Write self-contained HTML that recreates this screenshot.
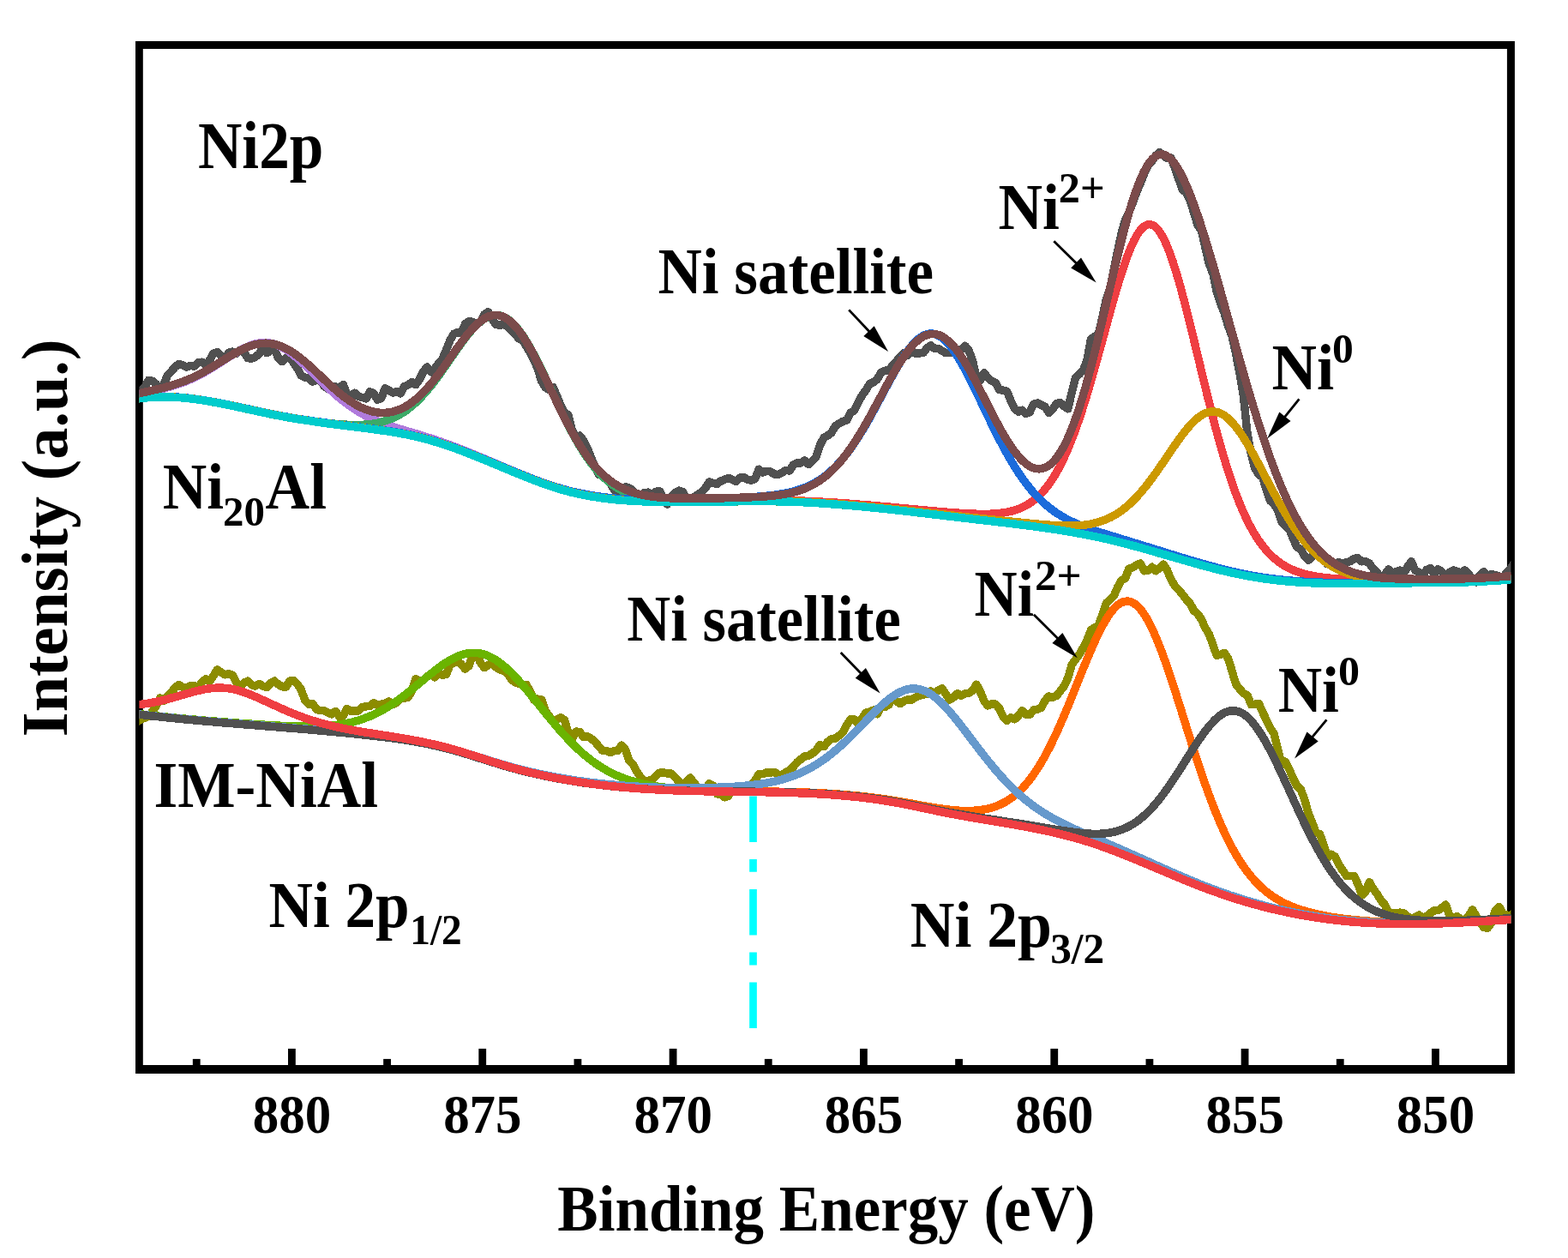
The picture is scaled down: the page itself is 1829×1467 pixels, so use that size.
<!DOCTYPE html><html><head><meta charset="utf-8"><style>html,body{margin:0;padding:0;background:#fff;overflow:hidden}svg{display:block}text{font-family:"Liberation Serif",serif;font-weight:bold;font-size:100px;fill:#000}</style></head><body>
<svg width="1829" height="1467" viewBox="0 0 1829 1467">
<rect width="1829" height="1467" fill="#fff"/>
<defs><clipPath id="pc"><rect x="162.4" y="52.5" width="1600.0" height="1194.5"/></clipPath></defs>
<path d="M158 48.1H1766.9V1251.9H158Z M166.8 57V1242H1757.9V57Z" fill="#000" fill-rule="evenodd"/>
<g clip-path="url(#pc)" shape-rendering="crispEdges">
<path d="M160.0 457.4 L164.4 455.6 L168.9 451.8 L173.3 443.3 L177.8 444.3 L182.2 447.8 L186.7 457.7 L191.1 447.5 L195.6 437.6 L200.0 432.8 L204.5 427.6 L208.9 424.3 L213.4 426.0 L217.8 428.0 L222.3 426.5 L226.7 427.1 L231.2 422.6 L235.6 422.2 L240.1 425.4 L244.5 419.9 L249.0 412.1 L253.4 410.7 L257.9 414.6 L262.3 418.2 L266.8 411.3 L271.2 410.1 L275.7 412.6 L280.1 408.1 L284.6 411.0 L289.0 417.6 L293.5 418.1 L297.9 416.3 L302.4 412.6 L306.8 403.9 L311.3 411.7 L315.7 408.8 L320.2 407.8 L324.6 417.2 L329.1 421.6 L333.5 417.6 L338.0 416.7 L342.4 423.0 L346.9 429.5 L351.3 438.1 L355.8 440.1 L360.2 441.1 L364.7 445.1 L369.1 442.9 L373.6 442.8 L378.0 450.3 L382.5 453.3 L386.9 451.1 L391.4 450.9 L395.8 452.2 L400.3 448.6 L404.7 459.5 L409.2 462.5 L413.6 458.1 L418.1 462.4 L422.5 463.4 L427.0 464.9 L431.4 456.8 L435.9 458.6 L440.3 466.1 L444.8 464.5 L449.2 452.9 L453.7 455.1 L458.1 458.0 L462.6 456.8 L467.0 458.9 L471.5 450.7 L475.9 448.8 L480.4 445.7 L484.8 448.7 L489.3 442.5 L493.7 433.6 L498.2 428.0 L502.6 433.9 L507.1 429.8 L511.5 424.0 L516.0 418.6 L520.4 408.3 L524.9 396.9 L529.3 389.3 L533.8 387.6 L538.2 388.4 L542.7 377.4 L547.1 374.6 L551.6 375.6 L556.0 377.0 L560.5 375.3 L564.9 366.7 L569.4 363.8 L573.8 371.3 L578.3 378.3 L582.7 379.2 L587.2 378.5 L591.6 380.1 L596.1 385.0 L600.5 389.0 L605.0 394.8 L609.4 396.3 L613.9 403.6 L618.3 411.2 L622.8 419.9 L627.2 429.6 L631.7 444.6 L636.1 451.8 L640.6 454.4 L645.0 451.3 L649.5 461.5 L653.9 472.4 L658.4 481.0 L662.8 483.9 L667.3 501.6 L671.7 510.0 L676.2 508.0 L680.6 513.5 L685.1 522.5 L689.5 533.3 L694.0 544.5 L698.4 553.6 L702.9 553.2 L707.3 558.3 L711.8 563.5 L716.2 571.1 L720.7 572.8 L725.1 573.4 L729.6 567.9 L734.0 569.1 L738.5 572.2 L742.9 580.3 L747.4 579.2 L751.8 574.4 L756.3 574.2 L760.7 576.6 L765.2 573.2 L769.6 573.0 L774.1 581.4 L778.5 588.0 L783.0 579.9 L787.4 574.7 L791.9 572.1 L796.3 573.5 L800.8 581.4 L805.2 583.8 L809.7 579.5 L814.1 576.8 L818.6 573.6 L823.0 568.8 L827.5 561.9 L831.9 563.3 L836.4 564.5 L840.8 560.9 L845.3 559.2 L849.7 557.5 L854.2 559.2 L858.6 561.6 L863.1 557.2 L867.5 556.5 L872.0 559.4 L876.4 560.2 L880.9 558.1 L885.3 547.2 L889.8 551.0 L894.2 549.4 L898.7 550.0 L903.1 552.9 L907.6 553.6 L912.0 551.3 L916.5 548.3 L920.9 549.1 L925.4 542.1 L929.8 539.7 L934.3 539.9 L938.7 537.1 L943.2 541.5 L947.6 537.7 L952.1 532.5 L956.5 519.1 L961.0 510.2 L965.4 508.0 L969.9 504.6 L974.3 496.9 L978.8 493.9 L983.2 491.3 L987.7 490.0 L992.1 481.3 L996.6 478.7 L1001.0 469.4 L1005.5 461.3 L1009.9 455.1 L1014.4 447.8 L1018.8 445.7 L1023.3 442.3 L1027.7 434.3 L1032.2 432.2 L1036.6 432.3 L1041.1 425.9 L1045.5 421.4 L1050.0 416.0 L1054.4 411.6 L1058.9 414.4 L1063.3 408.9 L1067.8 412.1 L1072.2 411.8 L1076.7 411.7 L1081.1 406.1 L1085.6 402.8 L1090.0 406.3 L1094.5 406.6 L1098.9 409.1 L1103.4 411.7 L1107.8 411.5 L1112.3 410.2 L1116.7 408.4 L1121.2 407.5 L1125.6 403.2 L1130.1 408.6 L1134.5 420.6 L1139.0 440.1 L1143.4 443.4 L1147.9 434.8 L1152.3 440.6 L1156.8 444.3 L1161.2 446.3 L1165.7 454.4 L1170.1 455.2 L1174.6 456.3 L1179.0 467.4 L1183.5 476.5 L1187.9 480.1 L1192.4 478.3 L1196.8 482.5 L1201.3 480.4 L1205.7 471.2 L1210.2 470.0 L1214.6 472.3 L1219.1 474.5 L1223.5 481.3 L1228.0 476.9 L1232.4 470.4 L1236.9 469.7 L1241.3 473.7 L1245.8 476.8 L1250.2 457.5 L1254.7 440.3 L1259.1 436.2 L1263.6 431.5 L1268.0 420.0 L1272.5 395.6 L1276.9 392.5 L1281.4 389.1 L1285.8 370.8 L1290.3 349.1 L1294.7 336.9 L1299.2 314.7 L1303.6 293.2 L1308.1 272.1 L1312.5 256.7 L1317.0 247.2 L1321.4 236.1 L1325.9 223.7 L1330.3 213.6 L1334.8 202.1 L1339.2 192.6 L1343.7 187.8 L1348.1 181.4 L1352.6 177.7 L1357.0 180.9 L1361.5 184.7 L1365.9 184.1 L1370.4 195.8 L1374.8 208.5 L1379.3 221.1 L1383.7 224.8 L1388.2 233.8 L1392.6 248.0 L1397.1 262.5 L1401.5 268.9 L1406.0 289.3 L1410.4 307.8 L1414.9 319.3 L1419.3 340.2 L1423.8 353.9 L1428.2 365.3 L1432.7 380.5 L1437.1 391.8 L1441.6 412.5 L1446.0 435.4 L1450.5 462.0 L1454.9 505.0 L1459.4 529.1 L1463.8 546.0 L1468.3 553.5 L1472.7 556.6 L1477.2 571.4 L1481.6 584.0 L1486.1 587.7 L1490.5 595.3 L1495.0 608.7 L1499.4 613.6 L1503.9 616.9 L1508.3 627.9 L1512.8 638.1 L1517.2 640.4 L1521.7 648.3 L1526.1 653.3 L1530.6 649.0 L1535.0 644.1 L1539.5 645.1 L1543.9 652.4 L1548.4 657.9 L1552.8 657.9 L1557.3 657.6 L1561.7 655.7 L1566.2 657.0 L1570.6 655.7 L1575.1 654.7 L1579.5 651.3 L1584.0 651.0 L1588.4 654.8 L1592.9 654.5 L1597.3 657.0 L1601.8 663.3 L1606.2 666.9 L1610.7 675.8 L1615.1 670.4 L1619.6 664.0 L1624.0 667.6 L1628.5 666.9 L1632.9 665.1 L1637.4 668.8 L1641.8 661.0 L1646.3 654.7 L1650.7 665.3 L1655.2 667.5 L1659.6 671.0 L1664.1 664.4 L1668.5 662.8 L1673.0 669.2 L1677.4 663.8 L1681.9 666.8 L1686.3 671.5 L1690.8 667.4 L1695.2 665.0 L1699.7 666.5 L1704.1 668.0 L1708.6 665.1 L1713.0 669.5 L1717.5 674.6 L1721.9 678.9 L1726.4 670.4 L1730.8 666.9 L1735.3 671.2 L1739.7 669.7 L1744.2 670.6 L1748.6 672.0 L1753.1 673.2 L1757.5 667.6 L1762.0 663.5 L1766.4 655.9" fill="none" stroke="#505050" stroke-width="9.5" stroke-linejoin="round" stroke-linecap="butt"/>
<path d="M160.0 460.8 L162.0 460.3 L164.0 459.8 L166.0 459.3 L168.0 458.8 L170.0 458.3 L172.0 457.8 L174.0 457.3 L176.0 456.9 L178.0 456.4 L180.0 455.9 L182.0 455.4 L184.0 454.9 L186.0 454.4 L188.0 453.9 L190.0 453.4 L192.0 452.8 L194.0 452.3 L196.0 451.7 L198.0 451.2 L200.0 450.6 L202.0 449.9 L204.0 449.3 L206.0 448.6 L208.0 448.0 L210.0 447.3 L212.0 446.5 L214.0 445.8 L216.0 445.0 L218.0 444.2 L220.0 443.3 L222.0 442.5 L224.0 441.6 L226.0 440.6 L228.0 439.7 L230.0 438.7 L232.0 437.7 L234.0 436.6 L236.0 435.6 L238.0 434.5 L240.0 433.3 L242.0 432.2 L244.0 431.0 L246.0 429.8 L248.0 428.6 L250.0 427.3 L252.0 426.1 L254.0 424.8 L256.0 423.5 L258.0 422.3 L260.0 421.0 L262.0 419.7 L264.0 418.4 L266.0 417.1 L268.0 415.8 L270.0 414.6 L272.0 413.3 L274.0 412.1 L276.0 410.9 L278.0 409.7 L280.0 408.6 L282.0 407.5 L284.0 406.5 L286.0 405.5 L288.0 404.6 L290.0 403.7 L292.0 402.9 L294.0 402.2 L296.0 401.5 L298.0 401.0 L300.0 400.5 L302.0 400.1 L304.0 399.8 L306.0 399.6 L308.0 399.5 L310.0 399.6 L312.0 399.7 L314.0 399.9 L316.0 400.3 L318.0 400.7 L320.0 401.3 L322.0 401.9 L324.0 402.7 L326.0 403.6 L328.0 404.5 L330.0 405.6 L332.0 406.8 L334.0 408.0 L336.0 409.4 L338.0 410.8 L340.0 412.3 L342.0 413.8 L344.0 415.4 L346.0 417.1 L348.0 418.9 L350.0 420.6 L352.0 422.5 L354.0 424.3 L356.0 426.2 L358.0 428.1 L360.0 430.1 L362.0 432.1 L364.0 434.0 L366.0 436.0 L368.0 438.0 L370.0 440.0 L372.0 441.9 L374.0 443.9 L376.0 445.9 L378.0 447.8 L380.0 449.7 L382.0 451.6 L384.0 453.5 L386.0 455.3 L388.0 457.2 L390.0 458.9 L392.0 460.7 L394.0 462.4 L396.0 464.1 L398.0 465.7 L400.0 467.3 L402.0 468.9 L404.0 470.4 L406.0 471.9 L408.0 473.3 L410.0 474.7 L412.0 476.1 L414.0 477.4 L416.0 478.7 L418.0 479.9 L420.0 481.1 L422.0 482.3 L424.0 483.4 L426.0 484.5 L428.0 485.5 L430.0 486.5 L432.0 487.5 L434.0 488.4 L436.0 489.3 L438.0 490.2 L440.0 491.0 L442.0 491.9 L444.0 492.7 L446.0 493.4 L448.0 494.2 L450.0 494.9 L452.0 495.6 L454.0 496.3 L456.0 497.0 L458.0 497.6 L460.0 498.3 L462.0 498.9 L464.0 499.5 L466.0 500.1 L468.0 500.7 L470.0 501.3 L472.0 501.9 L474.0 502.5 L476.0 503.1 L478.0 503.7 L480.0 504.3 L482.0 504.9 L484.0 505.5 L486.0 506.0 L488.0 506.6 L490.0 507.2 L492.0 507.9 L494.0 508.5 L496.0 509.1 L498.0 509.7 L500.0 510.4 L502.0 511.0 L504.0 511.7 L506.0 512.3 L508.0 513.0 L510.0 513.7 L512.0 514.4 L514.0 515.0 L516.0 515.7 L518.0 516.5 L520.0 517.2 L522.0 517.9 L524.0 518.6 L526.0 519.4 L528.0 520.1 L530.0 520.9 L532.0 521.6 L534.0 522.4 L536.0 523.2 L538.0 524.0 L540.0 524.7 L542.0 525.5 L544.0 526.3 L546.0 527.1 L548.0 527.9 L550.0 528.8 L552.0 529.6 L554.0 530.4 L556.0 531.2 L558.0 532.1 L560.0 532.9 L562.0 533.7 L564.0 534.6 L566.0 535.4 L568.0 536.3 L570.0 537.1 L572.0 537.9 L574.0 538.8 L576.0 539.6 L578.0 540.5 L580.0 541.4 L582.0 542.2 L584.0 543.1 L586.0 543.9 L588.0 544.8 L590.0 545.6 L592.0 546.5 L594.0 547.3 L596.0 548.2 L598.0 549.0 L600.0 549.9 L602.0 550.7 L604.0 551.5 L606.0 552.4 L608.0 553.2 L610.0 554.0 L612.0 554.8 L614.0 555.6 L616.0 556.4 L618.0 557.2 L620.0 558.0 L622.0 558.8 L624.0 559.6 L626.0 560.4 L628.0 561.1 L630.0 561.9 L632.0 562.6 L634.0 563.3 L636.0 564.1 L638.0 564.8 L640.0 565.5 L642.0 566.1 L644.0 566.8 L646.0 567.5 L648.0 568.1 L650.0 568.8 L652.0 569.4 L654.0 570.0 L656.0 570.6 L658.0 571.1 L660.0 571.7 L662.0 572.2 L664.0 572.8 L666.0 573.3 L668.0 573.8 L670.0 574.3 L672.0 574.7 L674.0 575.2 L676.0 575.6 L678.0 576.1 L680.0 576.5 L682.0 576.9 L684.0 577.3 L686.0 577.7 L688.0 578.0 L690.0 578.4 L692.0 578.7 L694.0 579.1 L696.0 579.4 L698.0 579.7 L700.0 580.0 L702.0 580.3 L704.0 580.5 L706.0 580.8 L708.0 581.0 L710.0 581.3 L712.0 581.5 L714.0 581.7 L716.0 582.0 L718.0 582.2 L720.0 582.4 L722.0 582.6 L724.0 582.7 L726.0 582.9 L728.0 583.1 L730.0 583.2 L732.0 583.4 L734.0 583.5 L736.0 583.6 L738.0 583.8 L740.0 583.9 L742.0 584.0 L744.0 584.1 L746.0 584.2 L748.0 584.3 L750.0 584.4 L752.0 584.5 L754.0 584.5 L756.0 584.6 L758.0 584.7 L760.0 584.7 L762.0 584.8 L764.0 584.8 L766.0 584.9 L768.0 584.9 L770.0 585.0 L772.0 585.0 L774.0 585.0 L776.0 585.1 L778.0 585.1 L780.0 585.1 L782.0 585.1 L784.0 585.1 L786.0 585.2 L788.0 585.2 L790.0 585.2 L792.0 585.2 L794.0 585.2 L796.0 585.2 L798.0 585.2 L800.0 585.2 L802.0 585.2 L804.0 585.1 L806.0 585.1 L808.0 585.1 L810.0 585.1 L812.0 585.1 L814.0 585.1 L816.0 585.0 L818.0 585.0 L820.0 585.0 L822.0 585.0 L824.0 584.9 L826.0 584.9 L828.0 584.9 L830.0 584.9 L832.0 584.8 L834.0 584.8 L836.0 584.8 L838.0 584.7 L840.0 584.7 L842.0 584.7 L844.0 584.7 L846.0 584.6 L848.0 584.6 L850.0 584.6 L852.0 584.6 L854.0 584.5 L856.0 584.5 L858.0 584.5 L860.0 584.5 L862.0 584.4 L864.0 584.4 L866.0 584.4 L868.0 584.4 L870.0 584.4 L872.0 584.3 L874.0 584.3 L876.0 584.3 L878.0 584.3 L880.0 584.3 L882.0 584.3 L884.0 584.3 L886.0 584.3 L888.0 584.3 L890.0 584.3 L892.0 584.3 L894.0 584.4 L896.0 584.4 L898.0 584.4 L900.0 584.4 L902.0 584.4 L904.0 584.5 L906.0 584.5 L908.0 584.5 L910.0 584.6 L912.0 584.6 L914.0 584.7 L916.0 584.7 L918.0 584.8 L920.0 584.9 L922.0 584.9 L924.0 585.0 L926.0 585.1 L928.0 585.2 L930.0 585.2 L932.0 585.3 L934.0 585.4 L936.0 585.5 L938.0 585.6 L940.0 585.7 L942.0 585.8 L944.0 585.9 L946.0 586.0 L948.0 586.1 L950.0 586.2 L952.0 586.4 L954.0 586.5 L956.0 586.6 L958.0 586.7 L960.0 586.9 L962.0 587.0 L964.0 587.1 L966.0 587.3 L968.0 587.4 L970.0 587.6 L972.0 587.7 L974.0 587.9 L976.0 588.0 L978.0 588.2 L980.0 588.3 L982.0 588.5 L984.0 588.7 L986.0 588.8 L988.0 589.0 L990.0 589.2 L992.0 589.3 L994.0 589.5 L996.0 589.7 L998.0 589.9 L1000.0 590.1 L1002.0 590.2 L1004.0 590.4 L1006.0 590.6 L1008.0 590.8 L1010.0 591.0 L1012.0 591.2 L1014.0 591.4 L1016.0 591.6 L1018.0 591.8 L1020.0 592.0 L1022.0 592.2 L1024.0 592.4 L1026.0 592.6 L1028.0 592.8 L1030.0 593.0 L1032.0 593.2 L1034.0 593.4 L1036.0 593.7 L1038.0 593.9 L1040.0 594.1 L1042.0 594.3 L1044.0 594.5 L1046.0 594.8 L1048.0 595.0 L1050.0 595.2 L1052.0 595.4 L1054.0 595.7 L1056.0 595.9 L1058.0 596.1 L1060.0 596.3 L1062.0 596.6 L1064.0 596.8 L1066.0 597.0 L1068.0 597.3 L1070.0 597.5 L1072.0 597.7 L1074.0 598.0 L1076.0 598.2 L1078.0 598.4 L1080.0 598.7 L1082.0 598.9 L1084.0 599.1 L1086.0 599.4 L1088.0 599.6 L1090.0 599.8 L1092.0 600.1 L1094.0 600.3 L1096.0 600.6 L1098.0 600.8 L1100.0 601.0 L1102.0 601.3 L1104.0 601.5 L1106.0 601.8 L1108.0 602.0 L1110.0 602.2 L1112.0 602.5 L1114.0 602.7 L1116.0 602.9 L1118.0 603.2 L1120.0 603.4 L1122.0 603.7 L1124.0 603.9 L1126.0 604.1 L1128.0 604.4 L1130.0 604.6 L1132.0 604.8 L1134.0 605.1 L1136.0 605.3 L1138.0 605.5 L1140.0 605.8 L1142.0 606.0 L1144.0 606.2 L1146.0 606.5 L1148.0 606.7 L1150.0 606.9 L1152.0 607.2 L1154.0 607.4 L1156.0 607.6 L1158.0 607.9 L1160.0 608.1 L1162.0 608.3 L1164.0 608.6 L1166.0 608.8 L1168.0 609.0 L1170.0 609.3 L1172.0 609.5 L1174.0 609.7 L1176.0 610.0 L1178.0 610.2 L1180.0 610.5 L1182.0 610.7 L1184.0 610.9 L1186.0 611.2 L1188.0 611.4 L1190.0 611.7 L1192.0 611.9 L1194.0 612.2 L1196.0 612.5 L1198.0 612.7 L1200.0 613.0 L1202.0 613.2 L1204.0 613.5 L1206.0 613.8 L1208.0 614.0 L1210.0 614.3 L1212.0 614.6 L1214.0 614.9 L1216.0 615.1 L1218.0 615.4 L1220.0 615.7 L1222.0 616.0 L1224.0 616.3 L1226.0 616.6 L1228.0 616.9 L1230.0 617.2 L1232.0 617.5 L1234.0 617.8 L1236.0 618.1 L1238.0 618.5 L1240.0 618.8 L1242.0 619.1 L1244.0 619.4 L1246.0 619.8 L1248.0 620.1 L1250.0 620.5 L1252.0 620.8 L1254.0 621.2 L1256.0 621.5 L1258.0 621.9 L1260.0 622.2 L1262.0 622.6 L1264.0 623.0 L1266.0 623.4 L1268.0 623.8 L1270.0 624.2 L1272.0 624.6 L1274.0 625.0 L1276.0 625.4 L1278.0 625.8 L1280.0 626.2 L1282.0 626.6 L1284.0 627.1 L1286.0 627.5 L1288.0 627.9 L1290.0 628.4 L1292.0 628.9 L1294.0 629.3 L1296.0 629.8 L1298.0 630.3 L1300.0 630.7 L1302.0 631.2 L1304.0 631.7 L1306.0 632.2 L1308.0 632.7 L1310.0 633.2 L1312.0 633.8 L1314.0 634.3 L1316.0 634.8 L1318.0 635.3 L1320.0 635.9 L1322.0 636.4 L1324.0 637.0 L1326.0 637.5 L1328.0 638.1 L1330.0 638.6 L1332.0 639.2 L1334.0 639.7 L1336.0 640.3 L1338.0 640.9 L1340.0 641.4 L1342.0 642.0 L1344.0 642.6 L1346.0 643.1 L1348.0 643.7 L1350.0 644.3 L1352.0 644.9 L1354.0 645.5 L1356.0 646.0 L1358.0 646.6 L1360.0 647.2 L1362.0 647.8 L1364.0 648.4 L1366.0 648.9 L1368.0 649.5 L1370.0 650.1 L1372.0 650.7 L1374.0 651.3 L1376.0 651.8 L1378.0 652.4 L1380.0 653.0 L1382.0 653.6 L1384.0 654.1 L1386.0 654.7 L1388.0 655.3 L1390.0 655.8 L1392.0 656.4 L1394.0 657.0 L1396.0 657.5 L1398.0 658.1 L1400.0 658.6 L1402.0 659.2 L1404.0 659.7 L1406.0 660.3 L1408.0 660.8 L1410.0 661.3 L1412.0 661.8 L1414.0 662.4 L1416.0 662.9 L1418.0 663.4 L1420.0 663.9 L1422.0 664.4 L1424.0 664.9 L1426.0 665.4 L1428.0 665.9 L1430.0 666.3 L1432.0 666.8 L1434.0 667.3 L1436.0 667.7 L1438.0 668.2 L1440.0 668.6 L1442.0 669.0 L1444.0 669.4 L1446.0 669.9 L1448.0 670.3 L1450.0 670.7 L1452.0 671.1 L1454.0 671.4 L1456.0 671.8 L1458.0 672.2 L1460.0 672.5 L1462.0 672.9 L1464.0 673.2 L1466.0 673.5 L1468.0 673.9 L1470.0 674.2 L1472.0 674.5 L1474.0 674.7 L1476.0 675.0 L1478.0 675.3 L1480.0 675.6 L1482.0 675.8 L1484.0 676.1 L1486.0 676.3 L1488.0 676.5 L1490.0 676.8 L1492.0 677.0 L1494.0 677.2 L1496.0 677.4 L1498.0 677.6 L1500.0 677.8 L1502.0 677.9 L1504.0 678.1 L1506.0 678.3 L1508.0 678.4 L1510.0 678.6 L1512.0 678.7 L1514.0 678.9 L1516.0 679.0 L1518.0 679.1 L1520.0 679.2 L1522.0 679.3 L1524.0 679.4 L1526.0 679.5 L1528.0 679.6 L1530.0 679.7 L1532.0 679.8 L1534.0 679.9 L1536.0 680.0 L1538.0 680.0 L1540.0 680.1 L1542.0 680.2 L1544.0 680.2 L1546.0 680.3 L1548.0 680.3 L1550.0 680.4 L1552.0 680.4 L1554.0 680.4 L1556.0 680.5 L1558.0 680.5 L1560.0 680.5 L1562.0 680.5 L1564.0 680.5 L1566.0 680.6 L1568.0 680.6 L1570.0 680.6 L1572.0 680.6 L1574.0 680.6 L1576.0 680.6 L1578.0 680.6 L1580.0 680.6 L1582.0 680.5 L1584.0 680.5 L1586.0 680.5 L1588.0 680.5 L1590.0 680.5 L1592.0 680.5 L1594.0 680.4 L1596.0 680.4 L1598.0 680.4 L1600.0 680.4 L1602.0 680.3 L1604.0 680.3 L1606.0 680.3 L1608.0 680.3 L1610.0 680.2 L1612.0 680.2 L1614.0 680.2 L1616.0 680.1 L1618.0 680.1 L1620.0 680.1 L1622.0 680.0 L1624.0 680.0 L1626.0 680.0 L1628.0 679.9 L1630.0 679.9 L1632.0 679.9 L1634.0 679.9 L1636.0 679.8 L1638.0 679.8 L1640.0 679.8 L1642.0 679.8 L1644.0 679.7 L1646.0 679.7 L1648.0 679.7 L1650.0 679.7 L1652.0 679.7 L1654.0 679.6 L1656.0 679.6 L1658.0 679.6 L1660.0 679.6 L1662.0 679.6 L1664.0 679.5 L1666.0 679.5 L1668.0 679.5 L1670.0 679.5 L1672.0 679.5 L1674.0 679.4 L1676.0 679.4 L1678.0 679.4 L1680.0 679.4 L1682.0 679.4 L1684.0 679.3 L1686.0 679.3 L1688.0 679.3 L1690.0 679.2 L1692.0 679.2 L1694.0 679.2 L1696.0 679.1 L1698.0 679.1 L1700.0 679.0 L1702.0 679.0 L1704.0 678.9 L1706.0 678.9 L1708.0 678.8 L1710.0 678.8 L1712.0 678.7 L1714.0 678.7 L1716.0 678.6 L1718.0 678.5 L1720.0 678.4 L1722.0 678.4 L1724.0 678.3 L1726.0 678.2 L1728.0 678.1 L1730.0 678.0 L1732.0 677.9 L1734.0 677.8 L1736.0 677.7 L1738.0 677.6 L1740.0 677.4 L1742.0 677.3 L1744.0 677.2 L1746.0 677.0 L1748.0 676.9 L1750.0 676.7 L1752.0 676.6 L1754.0 676.4 L1756.0 676.2 L1758.0 676.1 L1760.0 675.9 L1762.0 675.7 L1764.0 675.5" fill="none" stroke="#B07ADC" stroke-width="9.5" stroke-linejoin="round" stroke-linecap="butt"/>
<path d="M160.0 465.2 L162.0 464.9 L164.0 464.6 L166.0 464.3 L168.0 464.1 L170.0 463.9 L172.0 463.7 L174.0 463.5 L176.0 463.4 L178.0 463.3 L180.0 463.2 L182.0 463.1 L184.0 463.0 L186.0 462.9 L188.0 462.9 L190.0 462.9 L192.0 462.9 L194.0 462.9 L196.0 463.0 L198.0 463.0 L200.0 463.1 L202.0 463.2 L204.0 463.3 L206.0 463.4 L208.0 463.5 L210.0 463.7 L212.0 463.8 L214.0 464.0 L216.0 464.2 L218.0 464.4 L220.0 464.6 L222.0 464.8 L224.0 465.1 L226.0 465.3 L228.0 465.6 L230.0 465.9 L232.0 466.2 L234.0 466.4 L236.0 466.7 L238.0 467.1 L240.0 467.4 L242.0 467.7 L244.0 468.1 L246.0 468.4 L248.0 468.8 L250.0 469.1 L252.0 469.5 L254.0 469.9 L256.0 470.3 L258.0 470.6 L260.0 471.0 L262.0 471.4 L264.0 471.8 L266.0 472.3 L268.0 472.7 L270.0 473.1 L272.0 473.5 L274.0 473.9 L276.0 474.4 L278.0 474.8 L280.0 475.2 L282.0 475.7 L284.0 476.1 L286.0 476.5 L288.0 477.0 L290.0 477.4 L292.0 477.8 L294.0 478.3 L296.0 478.7 L298.0 479.2 L300.0 479.6 L302.0 480.0 L304.0 480.5 L306.0 480.9 L308.0 481.3 L310.0 481.7 L312.0 482.1 L314.0 482.6 L316.0 483.0 L318.0 483.4 L320.0 483.8 L322.0 484.2 L324.0 484.6 L326.0 484.9 L328.0 485.3 L330.0 485.7 L332.0 486.1 L334.0 486.4 L336.0 486.8 L338.0 487.1 L340.0 487.5 L342.0 487.8 L344.0 488.1 L346.0 488.5 L348.0 488.8 L350.0 489.1 L352.0 489.4 L354.0 489.7 L356.0 490.0 L358.0 490.3 L360.0 490.6 L362.0 490.9 L364.0 491.1 L366.0 491.4 L368.0 491.7 L370.0 491.9 L372.0 492.2 L374.0 492.5 L376.0 492.7 L378.0 492.9 L380.0 493.2 L382.0 493.4 L384.0 493.6 L386.0 493.8 L388.0 494.0 L390.0 494.2 L392.0 494.4 L394.0 494.5 L396.0 494.7 L398.0 494.8 L400.0 495.0 L402.0 495.1 L404.0 495.2 L406.0 495.3 L408.0 495.4 L410.0 495.4 L412.0 495.5 L414.0 495.5 L416.0 495.5 L418.0 495.5 L420.0 495.4 L422.0 495.4 L424.0 495.3 L426.0 495.1 L428.0 495.0 L430.0 494.8 L432.0 494.6 L434.0 494.3 L436.0 494.0 L438.0 493.7 L440.0 493.3 L442.0 492.9 L444.0 492.4 L446.0 491.9 L448.0 491.3 L450.0 490.7 L452.0 490.0 L454.0 489.3 L456.0 488.5 L458.0 487.7 L460.0 486.8 L462.0 485.8 L464.0 484.7 L466.0 483.6 L468.0 482.4 L470.0 481.2 L472.0 479.9 L474.0 478.5 L476.0 477.0 L478.0 475.4 L480.0 473.8 L482.0 472.1 L484.0 470.3 L486.0 468.4 L488.0 466.5 L490.0 464.5 L492.0 462.4 L494.0 460.2 L496.0 458.0 L498.0 455.6 L500.0 453.3 L502.0 450.8 L504.0 448.3 L506.0 445.7 L508.0 443.1 L510.0 440.4 L512.0 437.7 L514.0 434.9 L516.0 432.1 L518.0 429.2 L520.0 426.4 L522.0 423.5 L524.0 420.6 L526.0 417.7 L528.0 414.7 L530.0 411.8 L532.0 409.0 L534.0 406.1 L536.0 403.3 L538.0 400.5 L540.0 397.8 L542.0 395.1 L544.0 392.5 L546.0 390.0 L548.0 387.6 L550.0 385.2 L552.0 383.0 L554.0 380.9 L556.0 378.9 L558.0 377.1 L560.0 375.4 L562.0 373.8 L564.0 372.4 L566.0 371.2 L568.0 370.1 L570.0 369.2 L572.0 368.5 L574.0 367.9 L576.0 367.6 L578.0 367.5 L580.0 367.5 L582.0 367.7 L584.0 368.2 L586.0 368.8 L588.0 369.7 L590.0 370.7 L592.0 372.0 L594.0 373.4 L596.0 375.1 L598.0 376.9 L600.0 378.9 L602.0 381.1 L604.0 383.5 L606.0 386.1 L608.0 388.8 L610.0 391.7 L612.0 394.7 L614.0 397.9 L616.0 401.2 L618.0 404.7 L620.0 408.3 L622.0 412.0 L624.0 415.7 L626.0 419.6 L628.0 423.6 L630.0 427.6 L632.0 431.7 L634.0 435.9 L636.0 440.1 L638.0 444.3 L640.0 448.6 L642.0 452.8 L644.0 457.1 L646.0 461.4 L648.0 465.6 L650.0 469.9 L652.0 474.1 L654.0 478.3 L656.0 482.4 L658.0 486.4 L660.0 490.5 L662.0 494.4 L664.0 498.3 L666.0 502.1 L668.0 505.8 L670.0 509.4 L672.0 513.0 L674.0 516.5 L676.0 519.8 L678.0 523.1 L680.0 526.3 L682.0 529.3 L684.0 532.3 L686.0 535.2 L688.0 537.9 L690.0 540.6 L692.0 543.2 L694.0 545.6 L696.0 548.0 L698.0 550.3 L700.0 552.4 L702.0 554.5 L704.0 556.4 L706.0 558.3 L708.0 560.1 L710.0 561.8 L712.0 563.4 L714.0 564.9 L716.0 566.4 L718.0 567.7 L720.0 569.0 L722.0 570.2 L724.0 571.4 L726.0 572.5 L728.0 573.5 L730.0 574.4 L732.0 575.3 L734.0 576.1 L736.0 576.9 L738.0 577.6 L740.0 578.3 L742.0 578.9 L744.0 579.5 L746.0 580.0 L748.0 580.5 L750.0 581.0 L752.0 581.4 L754.0 581.8 L756.0 582.2 L758.0 582.5 L760.0 582.8 L762.0 583.1 L764.0 583.4 L766.0 583.6 L768.0 583.8 L770.0 584.0 L772.0 584.2 L774.0 584.3 L776.0 584.5 L778.0 584.6 L780.0 584.7 L782.0 584.8 L784.0 584.9 L786.0 585.0 L788.0 585.1 L790.0 585.1 L792.0 585.2 L794.0 585.2 L796.0 585.3 L798.0 585.3 L800.0 585.3 L802.0 585.3 L804.0 585.3 L806.0 585.3 L808.0 585.4 L810.0 585.3 L812.0 585.3 L814.0 585.3 L816.0 585.3 L818.0 585.3 L820.0 585.3 L822.0 585.3 L824.0 585.3 L826.0 585.2 L828.0 585.2 L830.0 585.2 L832.0 585.2 L834.0 585.1 L836.0 585.1 L838.0 585.1 L840.0 585.0 L842.0 585.0 L844.0 585.0 L846.0 585.0 L848.0 584.9 L850.0 584.9 L852.0 584.9 L854.0 584.8 L856.0 584.8 L858.0 584.8 L860.0 584.8 L862.0 584.7 L864.0 584.7 L866.0 584.7 L868.0 584.7 L870.0 584.7 L872.0 584.6 L874.0 584.6 L876.0 584.6 L878.0 584.6 L880.0 584.6 L882.0 584.6 L884.0 584.6 L886.0 584.6 L888.0 584.6 L890.0 584.6 L892.0 584.6 L894.0 584.6 L896.0 584.6 L898.0 584.7 L900.0 584.7 L902.0 584.7 L904.0 584.7 L906.0 584.8 L908.0 584.8 L910.0 584.9 L912.0 584.9 L914.0 584.9 L916.0 585.0 L918.0 585.1 L920.0 585.1 L922.0 585.2 L924.0 585.3 L926.0 585.3 L928.0 585.4 L930.0 585.5 L932.0 585.6 L934.0 585.6 L936.0 585.7 L938.0 585.8 L940.0 585.9 L942.0 586.0 L944.0 586.1 L946.0 586.2 L948.0 586.4 L950.0 586.5 L952.0 586.6 L954.0 586.7 L956.0 586.8 L958.0 587.0 L960.0 587.1 L962.0 587.2 L964.0 587.4 L966.0 587.5 L968.0 587.6 L970.0 587.8 L972.0 587.9 L974.0 588.1 L976.0 588.2 L978.0 588.4 L980.0 588.5 L982.0 588.7 L984.0 588.9 L986.0 589.0 L988.0 589.2 L990.0 589.4 L992.0 589.5 L994.0 589.7 L996.0 589.9 L998.0 590.1 L1000.0 590.2 L1002.0 590.4 L1004.0 590.6 L1006.0 590.8 L1008.0 591.0 L1010.0 591.2 L1012.0 591.4 L1014.0 591.6 L1016.0 591.8 L1018.0 592.0 L1020.0 592.2 L1022.0 592.4 L1024.0 592.6 L1026.0 592.8 L1028.0 593.0 L1030.0 593.2 L1032.0 593.4 L1034.0 593.6 L1036.0 593.8 L1038.0 594.1 L1040.0 594.3 L1042.0 594.5 L1044.0 594.7 L1046.0 594.9 L1048.0 595.1 L1050.0 595.4 L1052.0 595.6 L1054.0 595.8 L1056.0 596.0 L1058.0 596.3 L1060.0 596.5 L1062.0 596.7 L1064.0 597.0 L1066.0 597.2 L1068.0 597.4 L1070.0 597.7 L1072.0 597.9 L1074.0 598.1 L1076.0 598.4 L1078.0 598.6 L1080.0 598.8 L1082.0 599.1 L1084.0 599.3 L1086.0 599.5 L1088.0 599.8 L1090.0 600.0 L1092.0 600.2 L1094.0 600.5 L1096.0 600.7 L1098.0 600.9 L1100.0 601.2 L1102.0 601.4 L1104.0 601.7 L1106.0 601.9 L1108.0 602.1 L1110.0 602.4 L1112.0 602.6 L1114.0 602.8 L1116.0 603.1 L1118.0 603.3 L1120.0 603.6 L1122.0 603.8 L1124.0 604.0 L1126.0 604.3 L1128.0 604.5 L1130.0 604.7 L1132.0 605.0 L1134.0 605.2 L1136.0 605.4 L1138.0 605.7 L1140.0 605.9 L1142.0 606.1 L1144.0 606.4 L1146.0 606.6 L1148.0 606.8 L1150.0 607.1 L1152.0 607.3 L1154.0 607.5 L1156.0 607.7 L1158.0 608.0 L1160.0 608.2 L1162.0 608.4 L1164.0 608.7 L1166.0 608.9 L1168.0 609.1 L1170.0 609.4 L1172.0 609.6 L1174.0 609.9 L1176.0 610.1 L1178.0 610.3 L1180.0 610.6 L1182.0 610.8 L1184.0 611.1 L1186.0 611.3 L1188.0 611.6 L1190.0 611.8 L1192.0 612.1 L1194.0 612.3 L1196.0 612.6 L1198.0 612.8 L1200.0 613.1 L1202.0 613.4 L1204.0 613.6 L1206.0 613.9 L1208.0 614.2 L1210.0 614.4 L1212.0 614.7 L1214.0 615.0 L1216.0 615.3 L1218.0 615.5 L1220.0 615.8 L1222.0 616.1 L1224.0 616.4 L1226.0 616.7 L1228.0 617.0 L1230.0 617.3 L1232.0 617.6 L1234.0 617.9 L1236.0 618.2 L1238.0 618.6 L1240.0 618.9 L1242.0 619.2 L1244.0 619.5 L1246.0 619.9 L1248.0 620.2 L1250.0 620.6 L1252.0 620.9 L1254.0 621.3 L1256.0 621.6 L1258.0 622.0 L1260.0 622.3 L1262.0 622.7 L1264.0 623.1 L1266.0 623.5 L1268.0 623.9 L1270.0 624.3 L1272.0 624.7 L1274.0 625.1 L1276.0 625.5 L1278.0 625.9 L1280.0 626.3 L1282.0 626.7 L1284.0 627.2 L1286.0 627.6 L1288.0 628.0 L1290.0 628.5 L1292.0 628.9 L1294.0 629.4 L1296.0 629.9 L1298.0 630.4 L1300.0 630.8 L1302.0 631.3 L1304.0 631.8 L1306.0 632.3 L1308.0 632.8 L1310.0 633.3 L1312.0 633.8 L1314.0 634.4 L1316.0 634.9 L1318.0 635.4 L1320.0 636.0 L1322.0 636.5 L1324.0 637.0 L1326.0 637.6 L1328.0 638.1 L1330.0 638.7 L1332.0 639.2 L1334.0 639.8 L1336.0 640.4 L1338.0 640.9 L1340.0 641.5 L1342.0 642.1 L1344.0 642.6 L1346.0 643.2 L1348.0 643.8 L1350.0 644.4 L1352.0 645.0 L1354.0 645.5 L1356.0 646.1 L1358.0 646.7 L1360.0 647.3 L1362.0 647.9 L1364.0 648.4 L1366.0 649.0 L1368.0 649.6 L1370.0 650.2 L1372.0 650.8 L1374.0 651.3 L1376.0 651.9 L1378.0 652.5 L1380.0 653.1 L1382.0 653.7 L1384.0 654.2 L1386.0 654.8 L1388.0 655.4 L1390.0 655.9 L1392.0 656.5 L1394.0 657.0 L1396.0 657.6 L1398.0 658.2 L1400.0 658.7 L1402.0 659.3 L1404.0 659.8 L1406.0 660.3 L1408.0 660.9 L1410.0 661.4 L1412.0 661.9 L1414.0 662.4 L1416.0 663.0 L1418.0 663.5 L1420.0 664.0 L1422.0 664.5 L1424.0 665.0 L1426.0 665.4 L1428.0 665.9 L1430.0 666.4 L1432.0 666.9 L1434.0 667.3 L1436.0 667.8 L1438.0 668.2 L1440.0 668.7 L1442.0 669.1 L1444.0 669.5 L1446.0 669.9 L1448.0 670.3 L1450.0 670.7 L1452.0 671.1 L1454.0 671.5 L1456.0 671.9 L1458.0 672.2 L1460.0 672.6 L1462.0 672.9 L1464.0 673.3 L1466.0 673.6 L1468.0 673.9 L1470.0 674.2 L1472.0 674.5 L1474.0 674.8 L1476.0 675.1 L1478.0 675.4 L1480.0 675.6 L1482.0 675.9 L1484.0 676.1 L1486.0 676.4 L1488.0 676.6 L1490.0 676.8 L1492.0 677.0 L1494.0 677.2 L1496.0 677.4 L1498.0 677.6 L1500.0 677.8 L1502.0 678.0 L1504.0 678.2 L1506.0 678.3 L1508.0 678.5 L1510.0 678.6 L1512.0 678.8 L1514.0 678.9 L1516.0 679.0 L1518.0 679.2 L1520.0 679.3 L1522.0 679.4 L1524.0 679.5 L1526.0 679.6 L1528.0 679.7 L1530.0 679.8 L1532.0 679.9 L1534.0 680.0 L1536.0 680.0 L1538.0 680.1 L1540.0 680.2 L1542.0 680.2 L1544.0 680.3 L1546.0 680.3 L1548.0 680.4 L1550.0 680.4 L1552.0 680.5 L1554.0 680.5 L1556.0 680.5 L1558.0 680.5 L1560.0 680.6 L1562.0 680.6 L1564.0 680.6 L1566.0 680.6 L1568.0 680.6 L1570.0 680.6 L1572.0 680.6 L1574.0 680.6 L1576.0 680.6 L1578.0 680.6 L1580.0 680.6 L1582.0 680.6 L1584.0 680.6 L1586.0 680.6 L1588.0 680.6 L1590.0 680.5 L1592.0 680.5 L1594.0 680.5 L1596.0 680.5 L1598.0 680.4 L1600.0 680.4 L1602.0 680.4 L1604.0 680.4 L1606.0 680.3 L1608.0 680.3 L1610.0 680.3 L1612.0 680.2 L1614.0 680.2 L1616.0 680.2 L1618.0 680.2 L1620.0 680.1 L1622.0 680.1 L1624.0 680.1 L1626.0 680.0 L1628.0 680.0 L1630.0 680.0 L1632.0 679.9 L1634.0 679.9 L1636.0 679.9 L1638.0 679.9 L1640.0 679.8 L1642.0 679.8 L1644.0 679.8 L1646.0 679.8 L1648.0 679.7 L1650.0 679.7 L1652.0 679.7 L1654.0 679.7 L1656.0 679.7 L1658.0 679.6 L1660.0 679.6 L1662.0 679.6 L1664.0 679.6 L1666.0 679.6 L1668.0 679.6 L1670.0 679.5 L1672.0 679.5 L1674.0 679.5 L1676.0 679.5 L1678.0 679.4 L1680.0 679.4 L1682.0 679.4 L1684.0 679.4 L1686.0 679.3 L1688.0 679.3 L1690.0 679.3 L1692.0 679.2 L1694.0 679.2 L1696.0 679.2 L1698.0 679.1 L1700.0 679.1 L1702.0 679.0 L1704.0 679.0 L1706.0 678.9 L1708.0 678.9 L1710.0 678.8 L1712.0 678.8 L1714.0 678.7 L1716.0 678.6 L1718.0 678.6 L1720.0 678.5 L1722.0 678.4 L1724.0 678.3 L1726.0 678.2 L1728.0 678.1 L1730.0 678.0 L1732.0 677.9 L1734.0 677.8 L1736.0 677.7 L1738.0 677.6 L1740.0 677.5 L1742.0 677.3 L1744.0 677.2 L1746.0 677.1 L1748.0 676.9 L1750.0 676.8 L1752.0 676.6 L1754.0 676.5 L1756.0 676.3 L1758.0 676.1 L1760.0 675.9 L1762.0 675.7 L1764.0 675.6" fill="none" stroke="#3CAA68" stroke-width="9.5" stroke-linejoin="round" stroke-linecap="butt"/>
<path d="M160.0 465.0 L162.0 464.7 L164.0 464.4 L166.0 464.1 L168.0 463.9 L170.0 463.7 L172.0 463.5 L174.0 463.3 L176.0 463.2 L178.0 463.1 L180.0 462.9 L182.0 462.9 L184.0 462.8 L186.0 462.7 L188.0 462.7 L190.0 462.7 L192.0 462.7 L194.0 462.7 L196.0 462.7 L198.0 462.8 L200.0 462.9 L202.0 462.9 L204.0 463.1 L206.0 463.2 L208.0 463.3 L210.0 463.4 L212.0 463.6 L214.0 463.8 L216.0 464.0 L218.0 464.2 L220.0 464.4 L222.0 464.6 L224.0 464.8 L226.0 465.1 L228.0 465.4 L230.0 465.6 L232.0 465.9 L234.0 466.2 L236.0 466.5 L238.0 466.8 L240.0 467.1 L242.0 467.5 L244.0 467.8 L246.0 468.2 L248.0 468.5 L250.0 468.9 L252.0 469.2 L254.0 469.6 L256.0 470.0 L258.0 470.4 L260.0 470.8 L262.0 471.2 L264.0 471.6 L266.0 472.0 L268.0 472.4 L270.0 472.8 L272.0 473.2 L274.0 473.7 L276.0 474.1 L278.0 474.5 L280.0 475.0 L282.0 475.4 L284.0 475.8 L286.0 476.3 L288.0 476.7 L290.0 477.1 L292.0 477.6 L294.0 478.0 L296.0 478.4 L298.0 478.9 L300.0 479.3 L302.0 479.7 L304.0 480.2 L306.0 480.6 L308.0 481.0 L310.0 481.4 L312.0 481.9 L314.0 482.3 L316.0 482.7 L318.0 483.1 L320.0 483.5 L322.0 483.9 L324.0 484.3 L326.0 484.7 L328.0 485.0 L330.0 485.4 L332.0 485.8 L334.0 486.1 L336.0 486.5 L338.0 486.8 L340.0 487.2 L342.0 487.5 L344.0 487.8 L346.0 488.2 L348.0 488.5 L350.0 488.8 L352.0 489.1 L354.0 489.5 L356.0 489.8 L358.0 490.1 L360.0 490.4 L362.0 490.7 L364.0 491.0 L366.0 491.2 L368.0 491.5 L370.0 491.8 L372.0 492.1 L374.0 492.4 L376.0 492.6 L378.0 492.9 L380.0 493.2 L382.0 493.5 L384.0 493.7 L386.0 494.0 L388.0 494.3 L390.0 494.5 L392.0 494.8 L394.0 495.0 L396.0 495.3 L398.0 495.5 L400.0 495.8 L402.0 496.0 L404.0 496.3 L406.0 496.5 L408.0 496.8 L410.0 497.1 L412.0 497.3 L414.0 497.6 L416.0 497.8 L418.0 498.1 L420.0 498.3 L422.0 498.6 L424.0 498.8 L426.0 499.1 L428.0 499.3 L430.0 499.6 L432.0 499.8 L434.0 500.1 L436.0 500.3 L438.0 500.6 L440.0 500.9 L442.0 501.2 L444.0 501.4 L446.0 501.7 L448.0 502.0 L450.0 502.3 L452.0 502.6 L454.0 502.9 L456.0 503.2 L458.0 503.5 L460.0 503.9 L462.0 504.2 L464.0 504.5 L466.0 504.9 L468.0 505.2 L470.0 505.6 L472.0 506.0 L474.0 506.4 L476.0 506.8 L478.0 507.2 L480.0 507.6 L482.0 508.0 L484.0 508.5 L486.0 508.9 L488.0 509.4 L490.0 509.9 L492.0 510.4 L494.0 510.9 L496.0 511.4 L498.0 512.0 L500.0 512.5 L502.0 513.1 L504.0 513.7 L506.0 514.3 L508.0 514.9 L510.0 515.5 L512.0 516.1 L514.0 516.7 L516.0 517.4 L518.0 518.1 L520.0 518.7 L522.0 519.4 L524.0 520.1 L526.0 520.8 L528.0 521.5 L530.0 522.2 L532.0 522.9 L534.0 523.7 L536.0 524.4 L538.0 525.2 L540.0 525.9 L542.0 526.7 L544.0 527.4 L546.0 528.2 L548.0 529.0 L550.0 529.8 L552.0 530.6 L554.0 531.4 L556.0 532.2 L558.0 533.0 L560.0 533.8 L562.0 534.6 L564.0 535.4 L566.0 536.2 L568.0 537.1 L570.0 537.9 L572.0 538.7 L574.0 539.5 L576.0 540.4 L578.0 541.2 L580.0 542.0 L582.0 542.9 L584.0 543.7 L586.0 544.5 L588.0 545.4 L590.0 546.2 L592.0 547.0 L594.0 547.9 L596.0 548.7 L598.0 549.5 L600.0 550.4 L602.0 551.2 L604.0 552.0 L606.0 552.8 L608.0 553.6 L610.0 554.4 L612.0 555.2 L614.0 556.0 L616.0 556.8 L618.0 557.6 L620.0 558.4 L622.0 559.2 L624.0 559.9 L626.0 560.7 L628.0 561.4 L630.0 562.2 L632.0 562.9 L634.0 563.6 L636.0 564.3 L638.0 565.0 L640.0 565.7 L642.0 566.4 L644.0 567.0 L646.0 567.7 L648.0 568.3 L650.0 568.9 L652.0 569.5 L654.0 570.1 L656.0 570.7 L658.0 571.3 L660.0 571.8 L662.0 572.4 L664.0 572.9 L666.0 573.4 L668.0 573.9 L670.0 574.3 L672.0 574.8 L674.0 575.2 L676.0 575.7 L678.0 576.1 L680.0 576.5 L682.0 576.9 L684.0 577.3 L686.0 577.6 L688.0 578.0 L690.0 578.3 L692.0 578.7 L694.0 579.0 L696.0 579.3 L698.0 579.6 L700.0 579.9 L702.0 580.2 L704.0 580.4 L706.0 580.7 L708.0 580.9 L710.0 581.2 L712.0 581.4 L714.0 581.6 L716.0 581.8 L718.0 582.0 L720.0 582.2 L722.0 582.4 L724.0 582.5 L726.0 582.7 L728.0 582.8 L730.0 583.0 L732.0 583.1 L734.0 583.3 L736.0 583.4 L738.0 583.5 L740.0 583.6 L742.0 583.7 L744.0 583.8 L746.0 583.9 L748.0 584.0 L750.0 584.0 L752.0 584.1 L754.0 584.2 L756.0 584.3 L758.0 584.3 L760.0 584.4 L762.0 584.4 L764.0 584.5 L766.0 584.5 L768.0 584.5 L770.0 584.6 L772.0 584.6 L774.0 584.6 L776.0 584.6 L778.0 584.6 L780.0 584.7 L782.0 584.7 L784.0 584.7 L786.0 584.7 L788.0 584.7 L790.0 584.7 L792.0 584.7 L794.0 584.7 L796.0 584.6 L798.0 584.6 L800.0 584.6 L802.0 584.6 L804.0 584.6 L806.0 584.5 L808.0 584.5 L810.0 584.5 L812.0 584.5 L814.0 584.4 L816.0 584.4 L818.0 584.4 L820.0 584.3 L822.0 584.3 L824.0 584.3 L826.0 584.2 L828.0 584.2 L830.0 584.2 L832.0 584.1 L834.0 584.1 L836.0 584.0 L838.0 584.0 L840.0 584.0 L842.0 583.9 L844.0 583.9 L846.0 583.8 L848.0 583.8 L850.0 583.8 L852.0 583.7 L854.0 583.7 L856.0 583.7 L858.0 583.6 L860.0 583.6 L862.0 583.6 L864.0 583.5 L866.0 583.5 L868.0 583.5 L870.0 583.4 L872.0 583.4 L874.0 583.4 L876.0 583.4 L878.0 583.3 L880.0 583.3 L882.0 583.3 L884.0 583.3 L886.0 583.3 L888.0 583.3 L890.0 583.3 L892.0 583.3 L894.0 583.3 L896.0 583.3 L898.0 583.3 L900.0 583.3 L902.0 583.3 L904.0 583.3 L906.0 583.4 L908.0 583.4 L910.0 583.4 L912.0 583.4 L914.0 583.5 L916.0 583.5 L918.0 583.6 L920.0 583.6 L922.0 583.7 L924.0 583.7 L926.0 583.8 L928.0 583.8 L930.0 583.9 L932.0 584.0 L934.0 584.0 L936.0 584.1 L938.0 584.2 L940.0 584.3 L942.0 584.4 L944.0 584.4 L946.0 584.5 L948.0 584.6 L950.0 584.7 L952.0 584.8 L954.0 584.9 L956.0 585.0 L958.0 585.1 L960.0 585.3 L962.0 585.4 L964.0 585.5 L966.0 585.6 L968.0 585.7 L970.0 585.9 L972.0 586.0 L974.0 586.1 L976.0 586.2 L978.0 586.4 L980.0 586.5 L982.0 586.7 L984.0 586.8 L986.0 586.9 L988.0 587.1 L990.0 587.2 L992.0 587.4 L994.0 587.5 L996.0 587.7 L998.0 587.8 L1000.0 588.0 L1002.0 588.2 L1004.0 588.3 L1006.0 588.5 L1008.0 588.6 L1010.0 588.8 L1012.0 589.0 L1014.0 589.1 L1016.0 589.3 L1018.0 589.5 L1020.0 589.6 L1022.0 589.8 L1024.0 590.0 L1026.0 590.2 L1028.0 590.3 L1030.0 590.5 L1032.0 590.7 L1034.0 590.9 L1036.0 591.1 L1038.0 591.2 L1040.0 591.4 L1042.0 591.6 L1044.0 591.8 L1046.0 592.0 L1048.0 592.2 L1050.0 592.3 L1052.0 592.5 L1054.0 592.7 L1056.0 592.9 L1058.0 593.1 L1060.0 593.3 L1062.0 593.4 L1064.0 593.6 L1066.0 593.8 L1068.0 594.0 L1070.0 594.2 L1072.0 594.4 L1074.0 594.6 L1076.0 594.7 L1078.0 594.9 L1080.0 595.1 L1082.0 595.3 L1084.0 595.5 L1086.0 595.6 L1088.0 595.8 L1090.0 596.0 L1092.0 596.2 L1094.0 596.3 L1096.0 596.5 L1098.0 596.7 L1100.0 596.8 L1102.0 597.0 L1104.0 597.2 L1106.0 597.3 L1108.0 597.5 L1110.0 597.6 L1112.0 597.8 L1114.0 597.9 L1116.0 598.1 L1118.0 598.2 L1120.0 598.3 L1122.0 598.5 L1124.0 598.6 L1126.0 598.7 L1128.0 598.8 L1130.0 598.9 L1132.0 599.0 L1134.0 599.1 L1136.0 599.2 L1138.0 599.2 L1140.0 599.3 L1142.0 599.3 L1144.0 599.4 L1146.0 599.4 L1148.0 599.4 L1150.0 599.4 L1152.0 599.3 L1154.0 599.3 L1156.0 599.2 L1158.0 599.1 L1160.0 599.0 L1162.0 598.8 L1164.0 598.7 L1166.0 598.5 L1168.0 598.2 L1170.0 598.0 L1172.0 597.6 L1174.0 597.3 L1176.0 596.9 L1178.0 596.5 L1180.0 596.0 L1182.0 595.4 L1184.0 594.8 L1186.0 594.2 L1188.0 593.5 L1190.0 592.7 L1192.0 591.8 L1194.0 590.8 L1196.0 589.8 L1198.0 588.7 L1200.0 587.5 L1202.0 586.2 L1204.0 584.8 L1206.0 583.3 L1208.0 581.7 L1210.0 579.9 L1212.0 578.0 L1214.0 576.1 L1216.0 573.9 L1218.0 571.7 L1220.0 569.2 L1222.0 566.7 L1224.0 564.0 L1226.0 561.1 L1228.0 558.1 L1230.0 554.9 L1232.0 551.5 L1234.0 547.9 L1236.0 544.2 L1238.0 540.3 L1240.0 536.2 L1242.0 531.9 L1244.0 527.5 L1246.0 522.8 L1248.0 518.0 L1250.0 513.0 L1252.0 507.8 L1254.0 502.4 L1256.0 496.8 L1258.0 491.1 L1260.0 485.1 L1262.0 479.1 L1264.0 472.8 L1266.0 466.4 L1268.0 459.9 L1270.0 453.2 L1272.0 446.4 L1274.0 439.5 L1276.0 432.5 L1278.0 425.4 L1280.0 418.2 L1282.0 411.0 L1284.0 403.7 L1286.0 396.4 L1288.0 389.0 L1290.0 381.7 L1292.0 374.4 L1294.0 367.1 L1296.0 359.9 L1298.0 352.8 L1300.0 345.8 L1302.0 339.0 L1304.0 332.2 L1306.0 325.7 L1308.0 319.3 L1310.0 313.2 L1312.0 307.3 L1314.0 301.6 L1316.0 296.3 L1318.0 291.2 L1320.0 286.5 L1322.0 282.1 L1324.0 278.2 L1326.0 274.6 L1328.0 271.4 L1330.0 268.6 L1332.0 266.3 L1334.0 264.5 L1336.0 263.1 L1338.0 262.2 L1340.0 261.7 L1342.0 261.8 L1344.0 262.4 L1346.0 263.4 L1348.0 264.9 L1350.0 267.0 L1352.0 269.5 L1354.0 272.4 L1356.0 275.8 L1358.0 279.7 L1360.0 284.0 L1362.0 288.7 L1364.0 293.8 L1366.0 299.2 L1368.0 305.0 L1370.0 311.2 L1372.0 317.6 L1374.0 324.3 L1376.0 331.3 L1378.0 338.5 L1380.0 346.0 L1382.0 353.6 L1384.0 361.4 L1386.0 369.3 L1388.0 377.3 L1390.0 385.5 L1392.0 393.7 L1394.0 402.0 L1396.0 410.3 L1398.0 418.6 L1400.0 427.0 L1402.0 435.3 L1404.0 443.5 L1406.0 451.7 L1408.0 459.9 L1410.0 467.9 L1412.0 475.9 L1414.0 483.7 L1416.0 491.4 L1418.0 499.0 L1420.0 506.5 L1422.0 513.7 L1424.0 520.9 L1426.0 527.8 L1428.0 534.6 L1430.0 541.2 L1432.0 547.6 L1434.0 553.8 L1436.0 559.8 L1438.0 565.6 L1440.0 571.3 L1442.0 576.7 L1444.0 581.9 L1446.0 587.0 L1448.0 591.8 L1450.0 596.4 L1452.0 600.9 L1454.0 605.1 L1456.0 609.2 L1458.0 613.1 L1460.0 616.8 L1462.0 620.3 L1464.0 623.7 L1466.0 626.8 L1468.0 629.9 L1470.0 632.7 L1472.0 635.4 L1474.0 638.0 L1476.0 640.4 L1478.0 642.7 L1480.0 644.9 L1482.0 647.0 L1484.0 648.9 L1486.0 650.7 L1488.0 652.4 L1490.0 654.0 L1492.0 655.5 L1494.0 656.9 L1496.0 658.2 L1498.0 659.5 L1500.0 660.6 L1502.0 661.7 L1504.0 662.7 L1506.0 663.7 L1508.0 664.6 L1510.0 665.4 L1512.0 666.2 L1514.0 666.9 L1516.0 667.6 L1518.0 668.2 L1520.0 668.8 L1522.0 669.4 L1524.0 669.9 L1526.0 670.4 L1528.0 670.8 L1530.0 671.2 L1532.0 671.6 L1534.0 672.0 L1536.0 672.3 L1538.0 672.6 L1540.0 672.9 L1542.0 673.2 L1544.0 673.5 L1546.0 673.7 L1548.0 673.9 L1550.0 674.1 L1552.0 674.3 L1554.0 674.5 L1556.0 674.7 L1558.0 674.9 L1560.0 675.0 L1562.0 675.1 L1564.0 675.3 L1566.0 675.4 L1568.0 675.5 L1570.0 675.6 L1572.0 675.7 L1574.0 675.8 L1576.0 675.9 L1578.0 676.0 L1580.0 676.0 L1582.0 676.1 L1584.0 676.2 L1586.0 676.2 L1588.0 676.3 L1590.0 676.3 L1592.0 676.4 L1594.0 676.4 L1596.0 676.5 L1598.0 676.5 L1600.0 676.5 L1602.0 676.6 L1604.0 676.6 L1606.0 676.6 L1608.0 676.6 L1610.0 676.7 L1612.0 676.7 L1614.0 676.7 L1616.0 676.7 L1618.0 676.7 L1620.0 676.8 L1622.0 676.8 L1624.0 676.8 L1626.0 676.8 L1628.0 676.8 L1630.0 676.8 L1632.0 676.8 L1634.0 676.8 L1636.0 676.9 L1638.0 676.9 L1640.0 676.9 L1642.0 676.9 L1644.0 676.9 L1646.0 676.9 L1648.0 676.9 L1650.0 677.0 L1652.0 677.0 L1654.0 677.0 L1656.0 677.0 L1658.0 677.0 L1660.0 677.0 L1662.0 677.0 L1664.0 677.1 L1666.0 677.1 L1668.0 677.1 L1670.0 677.1 L1672.0 677.1 L1674.0 677.1 L1676.0 677.1 L1678.0 677.1 L1680.0 677.1 L1682.0 677.1 L1684.0 677.1 L1686.0 677.1 L1688.0 677.1 L1690.0 677.1 L1692.0 677.1 L1694.0 677.1 L1696.0 677.1 L1698.0 677.0 L1700.0 677.0 L1702.0 677.0 L1704.0 677.0 L1706.0 676.9 L1708.0 676.9 L1710.0 676.9 L1712.0 676.8 L1714.0 676.8 L1716.0 676.7 L1718.0 676.7 L1720.0 676.6 L1722.0 676.6 L1724.0 676.5 L1726.0 676.4 L1728.0 676.3 L1730.0 676.3 L1732.0 676.2 L1734.0 676.1 L1736.0 676.0 L1738.0 675.9 L1740.0 675.8 L1742.0 675.7 L1744.0 675.6 L1746.0 675.4 L1748.0 675.3 L1750.0 675.2 L1752.0 675.0 L1754.0 674.9 L1756.0 674.7 L1758.0 674.6 L1760.0 674.4 L1762.0 674.2 L1764.0 674.0" fill="none" stroke="#EF3E42" stroke-width="9.5" stroke-linejoin="round" stroke-linecap="butt"/>
<path d="M160.0 464.9 L162.0 464.6 L164.0 464.3 L166.0 464.1 L168.0 463.8 L170.0 463.6 L172.0 463.4 L174.0 463.3 L176.0 463.1 L178.0 463.0 L180.0 462.9 L182.0 462.8 L184.0 462.7 L186.0 462.7 L188.0 462.6 L190.0 462.6 L192.0 462.6 L194.0 462.6 L196.0 462.7 L198.0 462.7 L200.0 462.8 L202.0 462.9 L204.0 463.0 L206.0 463.1 L208.0 463.2 L210.0 463.4 L212.0 463.5 L214.0 463.7 L216.0 463.9 L218.0 464.1 L220.0 464.3 L222.0 464.5 L224.0 464.8 L226.0 465.0 L228.0 465.3 L230.0 465.6 L232.0 465.8 L234.0 466.1 L236.0 466.4 L238.0 466.7 L240.0 467.1 L242.0 467.4 L244.0 467.7 L246.0 468.1 L248.0 468.4 L250.0 468.8 L252.0 469.2 L254.0 469.5 L256.0 469.9 L258.0 470.3 L260.0 470.7 L262.0 471.1 L264.0 471.5 L266.0 471.9 L268.0 472.3 L270.0 472.7 L272.0 473.2 L274.0 473.6 L276.0 474.0 L278.0 474.4 L280.0 474.9 L282.0 475.3 L284.0 475.7 L286.0 476.2 L288.0 476.6 L290.0 477.0 L292.0 477.5 L294.0 477.9 L296.0 478.4 L298.0 478.8 L300.0 479.2 L302.0 479.6 L304.0 480.1 L306.0 480.5 L308.0 480.9 L310.0 481.3 L312.0 481.8 L314.0 482.2 L316.0 482.6 L318.0 483.0 L320.0 483.4 L322.0 483.8 L324.0 484.2 L326.0 484.5 L328.0 484.9 L330.0 485.3 L332.0 485.7 L334.0 486.0 L336.0 486.4 L338.0 486.7 L340.0 487.1 L342.0 487.4 L344.0 487.7 L346.0 488.1 L348.0 488.4 L350.0 488.7 L352.0 489.0 L354.0 489.3 L356.0 489.6 L358.0 489.9 L360.0 490.2 L362.0 490.5 L364.0 490.8 L366.0 491.1 L368.0 491.4 L370.0 491.7 L372.0 492.0 L374.0 492.2 L376.0 492.5 L378.0 492.8 L380.0 493.1 L382.0 493.3 L384.0 493.6 L386.0 493.9 L388.0 494.1 L390.0 494.4 L392.0 494.6 L394.0 494.9 L396.0 495.1 L398.0 495.4 L400.0 495.6 L402.0 495.9 L404.0 496.1 L406.0 496.4 L408.0 496.6 L410.0 496.9 L412.0 497.1 L414.0 497.4 L416.0 497.6 L418.0 497.9 L420.0 498.1 L422.0 498.4 L424.0 498.6 L426.0 498.9 L428.0 499.1 L430.0 499.4 L432.0 499.7 L434.0 499.9 L436.0 500.2 L438.0 500.4 L440.0 500.7 L442.0 501.0 L444.0 501.3 L446.0 501.5 L448.0 501.8 L450.0 502.1 L452.0 502.4 L454.0 502.7 L456.0 503.0 L458.0 503.3 L460.0 503.7 L462.0 504.0 L464.0 504.3 L466.0 504.7 L468.0 505.0 L470.0 505.4 L472.0 505.8 L474.0 506.2 L476.0 506.6 L478.0 507.0 L480.0 507.4 L482.0 507.8 L484.0 508.3 L486.0 508.7 L488.0 509.2 L490.0 509.7 L492.0 510.2 L494.0 510.7 L496.0 511.2 L498.0 511.7 L500.0 512.3 L502.0 512.9 L504.0 513.4 L506.0 514.0 L508.0 514.6 L510.0 515.2 L512.0 515.9 L514.0 516.5 L516.0 517.1 L518.0 517.8 L520.0 518.5 L522.0 519.1 L524.0 519.8 L526.0 520.5 L528.0 521.2 L530.0 521.9 L532.0 522.7 L534.0 523.4 L536.0 524.1 L538.0 524.9 L540.0 525.6 L542.0 526.4 L544.0 527.1 L546.0 527.9 L548.0 528.7 L550.0 529.5 L552.0 530.3 L554.0 531.1 L556.0 531.9 L558.0 532.7 L560.0 533.5 L562.0 534.3 L564.0 535.1 L566.0 535.9 L568.0 536.7 L570.0 537.5 L572.0 538.4 L574.0 539.2 L576.0 540.0 L578.0 540.9 L580.0 541.7 L582.0 542.5 L584.0 543.3 L586.0 544.2 L588.0 545.0 L590.0 545.8 L592.0 546.7 L594.0 547.5 L596.0 548.3 L598.0 549.1 L600.0 550.0 L602.0 550.8 L604.0 551.6 L606.0 552.4 L608.0 553.2 L610.0 554.0 L612.0 554.8 L614.0 555.6 L616.0 556.4 L618.0 557.2 L620.0 557.9 L622.0 558.7 L624.0 559.5 L626.0 560.2 L628.0 561.0 L630.0 561.7 L632.0 562.4 L634.0 563.1 L636.0 563.8 L638.0 564.5 L640.0 565.2 L642.0 565.9 L644.0 566.5 L646.0 567.2 L648.0 567.8 L650.0 568.4 L652.0 569.0 L654.0 569.6 L656.0 570.2 L658.0 570.7 L660.0 571.2 L662.0 571.8 L664.0 572.3 L666.0 572.8 L668.0 573.3 L670.0 573.7 L672.0 574.2 L674.0 574.6 L676.0 575.0 L678.0 575.5 L680.0 575.8 L682.0 576.2 L684.0 576.6 L686.0 577.0 L688.0 577.3 L690.0 577.6 L692.0 578.0 L694.0 578.3 L696.0 578.6 L698.0 578.9 L700.0 579.1 L702.0 579.4 L704.0 579.7 L706.0 579.9 L708.0 580.1 L710.0 580.4 L712.0 580.6 L714.0 580.8 L716.0 581.0 L718.0 581.2 L720.0 581.3 L722.0 581.5 L724.0 581.7 L726.0 581.8 L728.0 581.9 L730.0 582.1 L732.0 582.2 L734.0 582.3 L736.0 582.4 L738.0 582.5 L740.0 582.6 L742.0 582.7 L744.0 582.8 L746.0 582.9 L748.0 582.9 L750.0 583.0 L752.0 583.1 L754.0 583.1 L756.0 583.2 L758.0 583.2 L760.0 583.2 L762.0 583.3 L764.0 583.3 L766.0 583.3 L768.0 583.3 L770.0 583.3 L772.0 583.3 L774.0 583.3 L776.0 583.3 L778.0 583.3 L780.0 583.3 L782.0 583.3 L784.0 583.3 L786.0 583.3 L788.0 583.3 L790.0 583.2 L792.0 583.2 L794.0 583.2 L796.0 583.1 L798.0 583.1 L800.0 583.1 L802.0 583.0 L804.0 583.0 L806.0 582.9 L808.0 582.9 L810.0 582.8 L812.0 582.8 L814.0 582.7 L816.0 582.6 L818.0 582.6 L820.0 582.5 L822.0 582.4 L824.0 582.4 L826.0 582.3 L828.0 582.2 L830.0 582.1 L832.0 582.1 L834.0 582.0 L836.0 581.9 L838.0 581.8 L840.0 581.7 L842.0 581.6 L844.0 581.5 L846.0 581.5 L848.0 581.4 L850.0 581.3 L852.0 581.2 L854.0 581.1 L856.0 581.0 L858.0 580.9 L860.0 580.8 L862.0 580.6 L864.0 580.5 L866.0 580.4 L868.0 580.3 L870.0 580.2 L872.0 580.1 L874.0 579.9 L876.0 579.8 L878.0 579.6 L880.0 579.5 L882.0 579.3 L884.0 579.2 L886.0 579.0 L888.0 578.9 L890.0 578.7 L892.0 578.5 L894.0 578.3 L896.0 578.1 L898.0 577.8 L900.0 577.6 L902.0 577.4 L904.0 577.1 L906.0 576.8 L908.0 576.5 L910.0 576.2 L912.0 575.9 L914.0 575.5 L916.0 575.1 L918.0 574.7 L920.0 574.3 L922.0 573.8 L924.0 573.3 L926.0 572.8 L928.0 572.3 L930.0 571.7 L932.0 571.0 L934.0 570.4 L936.0 569.6 L938.0 568.9 L940.0 568.1 L942.0 567.2 L944.0 566.3 L946.0 565.3 L948.0 564.3 L950.0 563.2 L952.0 562.1 L954.0 560.9 L956.0 559.6 L958.0 558.3 L960.0 556.9 L962.0 555.4 L964.0 553.8 L966.0 552.2 L968.0 550.5 L970.0 548.7 L972.0 546.8 L974.0 544.8 L976.0 542.8 L978.0 540.6 L980.0 538.4 L982.0 536.1 L984.0 533.7 L986.0 531.2 L988.0 528.7 L990.0 526.0 L992.0 523.3 L994.0 520.5 L996.0 517.6 L998.0 514.6 L1000.0 511.5 L1002.0 508.4 L1004.0 505.1 L1006.0 501.9 L1008.0 498.5 L1010.0 495.1 L1012.0 491.6 L1014.0 488.1 L1016.0 484.5 L1018.0 480.8 L1020.0 477.2 L1022.0 473.5 L1024.0 469.7 L1026.0 466.0 L1028.0 462.2 L1030.0 458.5 L1032.0 454.7 L1034.0 451.0 L1036.0 447.2 L1038.0 443.5 L1040.0 439.9 L1042.0 436.3 L1044.0 432.7 L1046.0 429.2 L1048.0 425.8 L1050.0 422.5 L1052.0 419.3 L1054.0 416.2 L1056.0 413.2 L1058.0 410.3 L1060.0 407.6 L1062.0 405.0 L1064.0 402.6 L1066.0 400.3 L1068.0 398.3 L1070.0 396.4 L1072.0 394.7 L1074.0 393.3 L1076.0 392.0 L1078.0 391.0 L1080.0 390.1 L1082.0 389.6 L1084.0 389.2 L1086.0 389.1 L1088.0 389.2 L1090.0 389.6 L1092.0 390.2 L1094.0 391.0 L1096.0 392.1 L1098.0 393.4 L1100.0 394.9 L1102.0 396.6 L1104.0 398.6 L1106.0 400.7 L1108.0 403.1 L1110.0 405.6 L1112.0 408.3 L1114.0 411.2 L1116.0 414.3 L1118.0 417.5 L1120.0 420.8 L1122.0 424.3 L1124.0 427.8 L1126.0 431.5 L1128.0 435.3 L1130.0 439.2 L1132.0 443.1 L1134.0 447.1 L1136.0 451.2 L1138.0 455.3 L1140.0 459.5 L1142.0 463.6 L1144.0 467.8 L1146.0 472.0 L1148.0 476.2 L1150.0 480.4 L1152.0 484.6 L1154.0 488.8 L1156.0 492.9 L1158.0 497.0 L1160.0 501.1 L1162.0 505.1 L1164.0 509.1 L1166.0 513.0 L1168.0 516.8 L1170.0 520.6 L1172.0 524.3 L1174.0 527.9 L1176.0 531.5 L1178.0 535.0 L1180.0 538.4 L1182.0 541.7 L1184.0 545.0 L1186.0 548.1 L1188.0 551.2 L1190.0 554.2 L1192.0 557.0 L1194.0 559.8 L1196.0 562.6 L1198.0 565.2 L1200.0 567.7 L1202.0 570.2 L1204.0 572.6 L1206.0 574.9 L1208.0 577.1 L1210.0 579.2 L1212.0 581.2 L1214.0 583.2 L1216.0 585.1 L1218.0 586.9 L1220.0 588.7 L1222.0 590.4 L1224.0 592.0 L1226.0 593.5 L1228.0 595.0 L1230.0 596.5 L1232.0 597.9 L1234.0 599.2 L1236.0 600.4 L1238.0 601.7 L1240.0 602.8 L1242.0 604.0 L1244.0 605.1 L1246.0 606.1 L1248.0 607.1 L1250.0 608.1 L1252.0 609.0 L1254.0 609.9 L1256.0 610.8 L1258.0 611.7 L1260.0 612.5 L1262.0 613.3 L1264.0 614.1 L1266.0 614.9 L1268.0 615.6 L1270.0 616.3 L1272.0 617.0 L1274.0 617.7 L1276.0 618.4 L1278.0 619.1 L1280.0 619.8 L1282.0 620.4 L1284.0 621.1 L1286.0 621.7 L1288.0 622.3 L1290.0 622.9 L1292.0 623.6 L1294.0 624.2 L1296.0 624.8 L1298.0 625.4 L1300.0 626.0 L1302.0 626.6 L1304.0 627.2 L1306.0 627.9 L1308.0 628.5 L1310.0 629.1 L1312.0 629.7 L1314.0 630.3 L1316.0 630.9 L1318.0 631.5 L1320.0 632.1 L1322.0 632.7 L1324.0 633.4 L1326.0 634.0 L1328.0 634.6 L1330.0 635.2 L1332.0 635.8 L1334.0 636.4 L1336.0 637.1 L1338.0 637.7 L1340.0 638.3 L1342.0 638.9 L1344.0 639.6 L1346.0 640.2 L1348.0 640.8 L1350.0 641.4 L1352.0 642.0 L1354.0 642.7 L1356.0 643.3 L1358.0 643.9 L1360.0 644.5 L1362.0 645.1 L1364.0 645.8 L1366.0 646.4 L1368.0 647.0 L1370.0 647.6 L1372.0 648.2 L1374.0 648.8 L1376.0 649.5 L1378.0 650.1 L1380.0 650.7 L1382.0 651.3 L1384.0 651.9 L1386.0 652.5 L1388.0 653.1 L1390.0 653.7 L1392.0 654.3 L1394.0 654.9 L1396.0 655.4 L1398.0 656.0 L1400.0 656.6 L1402.0 657.2 L1404.0 657.7 L1406.0 658.3 L1408.0 658.8 L1410.0 659.4 L1412.0 659.9 L1414.0 660.5 L1416.0 661.0 L1418.0 661.6 L1420.0 662.1 L1422.0 662.6 L1424.0 663.1 L1426.0 663.6 L1428.0 664.1 L1430.0 664.6 L1432.0 665.1 L1434.0 665.6 L1436.0 666.1 L1438.0 666.5 L1440.0 667.0 L1442.0 667.4 L1444.0 667.9 L1446.0 668.3 L1448.0 668.7 L1450.0 669.1 L1452.0 669.6 L1454.0 670.0 L1456.0 670.3 L1458.0 670.7 L1460.0 671.1 L1462.0 671.4 L1464.0 671.8 L1466.0 672.1 L1468.0 672.5 L1470.0 672.8 L1472.0 673.1 L1474.0 673.4 L1476.0 673.7 L1478.0 674.0 L1480.0 674.3 L1482.0 674.5 L1484.0 674.8 L1486.0 675.0 L1488.0 675.3 L1490.0 675.5 L1492.0 675.7 L1494.0 676.0 L1496.0 676.2 L1498.0 676.4 L1500.0 676.6 L1502.0 676.8 L1504.0 676.9 L1506.0 677.1 L1508.0 677.3 L1510.0 677.5 L1512.0 677.6 L1514.0 677.8 L1516.0 677.9 L1518.0 678.0 L1520.0 678.2 L1522.0 678.3 L1524.0 678.4 L1526.0 678.5 L1528.0 678.6 L1530.0 678.7 L1532.0 678.8 L1534.0 678.9 L1536.0 679.0 L1538.0 679.1 L1540.0 679.1 L1542.0 679.2 L1544.0 679.3 L1546.0 679.3 L1548.0 679.4 L1550.0 679.4 L1552.0 679.5 L1554.0 679.5 L1556.0 679.5 L1558.0 679.6 L1560.0 679.6 L1562.0 679.6 L1564.0 679.7 L1566.0 679.7 L1568.0 679.7 L1570.0 679.7 L1572.0 679.7 L1574.0 679.7 L1576.0 679.7 L1578.0 679.7 L1580.0 679.7 L1582.0 679.7 L1584.0 679.7 L1586.0 679.7 L1588.0 679.7 L1590.0 679.7 L1592.0 679.7 L1594.0 679.7 L1596.0 679.6 L1598.0 679.6 L1600.0 679.6 L1602.0 679.6 L1604.0 679.6 L1606.0 679.5 L1608.0 679.5 L1610.0 679.5 L1612.0 679.5 L1614.0 679.4 L1616.0 679.4 L1618.0 679.4 L1620.0 679.4 L1622.0 679.3 L1624.0 679.3 L1626.0 679.3 L1628.0 679.3 L1630.0 679.2 L1632.0 679.2 L1634.0 679.2 L1636.0 679.2 L1638.0 679.2 L1640.0 679.1 L1642.0 679.1 L1644.0 679.1 L1646.0 679.1 L1648.0 679.1 L1650.0 679.0 L1652.0 679.0 L1654.0 679.0 L1656.0 679.0 L1658.0 679.0 L1660.0 679.0 L1662.0 679.0 L1664.0 678.9 L1666.0 678.9 L1668.0 678.9 L1670.0 678.9 L1672.0 678.9 L1674.0 678.9 L1676.0 678.9 L1678.0 678.8 L1680.0 678.8 L1682.0 678.8 L1684.0 678.8 L1686.0 678.7 L1688.0 678.7 L1690.0 678.7 L1692.0 678.7 L1694.0 678.6 L1696.0 678.6 L1698.0 678.6 L1700.0 678.5 L1702.0 678.5 L1704.0 678.4 L1706.0 678.4 L1708.0 678.3 L1710.0 678.3 L1712.0 678.2 L1714.0 678.1 L1716.0 678.1 L1718.0 678.0 L1720.0 677.9 L1722.0 677.9 L1724.0 677.8 L1726.0 677.7 L1728.0 677.6 L1730.0 677.5 L1732.0 677.4 L1734.0 677.3 L1736.0 677.2 L1738.0 677.1 L1740.0 677.0 L1742.0 676.8 L1744.0 676.7 L1746.0 676.6 L1748.0 676.4 L1750.0 676.3 L1752.0 676.1 L1754.0 676.0 L1756.0 675.8 L1758.0 675.6 L1760.0 675.5 L1762.0 675.3 L1764.0 675.1" fill="none" stroke="#1B6BDB" stroke-width="9.5" stroke-linejoin="round" stroke-linecap="butt"/>
<path d="M160.0 465.1 L162.0 464.8 L164.0 464.5 L166.0 464.2 L168.0 464.0 L170.0 463.8 L172.0 463.6 L174.0 463.4 L176.0 463.3 L178.0 463.2 L180.0 463.1 L182.0 463.0 L184.0 462.9 L186.0 462.8 L188.0 462.8 L190.0 462.8 L192.0 462.8 L194.0 462.8 L196.0 462.9 L198.0 462.9 L200.0 463.0 L202.0 463.1 L204.0 463.2 L206.0 463.3 L208.0 463.4 L210.0 463.6 L212.0 463.7 L214.0 463.9 L216.0 464.1 L218.0 464.3 L220.0 464.5 L222.0 464.7 L224.0 465.0 L226.0 465.2 L228.0 465.5 L230.0 465.7 L232.0 466.0 L234.0 466.3 L236.0 466.6 L238.0 466.9 L240.0 467.3 L242.0 467.6 L244.0 467.9 L246.0 468.3 L248.0 468.6 L250.0 469.0 L252.0 469.4 L254.0 469.7 L256.0 470.1 L258.0 470.5 L260.0 470.9 L262.0 471.3 L264.0 471.7 L266.0 472.1 L268.0 472.5 L270.0 473.0 L272.0 473.4 L274.0 473.8 L276.0 474.2 L278.0 474.7 L280.0 475.1 L282.0 475.5 L284.0 476.0 L286.0 476.4 L288.0 476.8 L290.0 477.3 L292.0 477.7 L294.0 478.1 L296.0 478.6 L298.0 479.0 L300.0 479.5 L302.0 479.9 L304.0 480.3 L306.0 480.7 L308.0 481.2 L310.0 481.6 L312.0 482.0 L314.0 482.4 L316.0 482.8 L318.0 483.2 L320.0 483.6 L322.0 484.0 L324.0 484.4 L326.0 484.8 L328.0 485.2 L330.0 485.5 L332.0 485.9 L334.0 486.3 L336.0 486.6 L338.0 487.0 L340.0 487.3 L342.0 487.7 L344.0 488.0 L346.0 488.3 L348.0 488.7 L350.0 489.0 L352.0 489.3 L354.0 489.6 L356.0 489.9 L358.0 490.2 L360.0 490.5 L362.0 490.8 L364.0 491.1 L366.0 491.4 L368.0 491.7 L370.0 492.0 L372.0 492.3 L374.0 492.5 L376.0 492.8 L378.0 493.1 L380.0 493.4 L382.0 493.6 L384.0 493.9 L386.0 494.2 L388.0 494.4 L390.0 494.7 L392.0 494.9 L394.0 495.2 L396.0 495.5 L398.0 495.7 L400.0 496.0 L402.0 496.2 L404.0 496.5 L406.0 496.7 L408.0 497.0 L410.0 497.2 L412.0 497.5 L414.0 497.7 L416.0 498.0 L418.0 498.2 L420.0 498.5 L422.0 498.7 L424.0 499.0 L426.0 499.2 L428.0 499.5 L430.0 499.7 L432.0 500.0 L434.0 500.3 L436.0 500.5 L438.0 500.8 L440.0 501.1 L442.0 501.3 L444.0 501.6 L446.0 501.9 L448.0 502.2 L450.0 502.5 L452.0 502.8 L454.0 503.1 L456.0 503.4 L458.0 503.7 L460.0 504.1 L462.0 504.4 L464.0 504.7 L466.0 505.1 L468.0 505.4 L470.0 505.8 L472.0 506.2 L474.0 506.6 L476.0 507.0 L478.0 507.4 L480.0 507.8 L482.0 508.3 L484.0 508.7 L486.0 509.2 L488.0 509.6 L490.0 510.1 L492.0 510.6 L494.0 511.1 L496.0 511.7 L498.0 512.2 L500.0 512.7 L502.0 513.3 L504.0 513.9 L506.0 514.5 L508.0 515.1 L510.0 515.7 L512.0 516.3 L514.0 517.0 L516.0 517.6 L518.0 518.3 L520.0 518.9 L522.0 519.6 L524.0 520.3 L526.0 521.0 L528.0 521.7 L530.0 522.4 L532.0 523.2 L534.0 523.9 L536.0 524.6 L538.0 525.4 L540.0 526.1 L542.0 526.9 L544.0 527.7 L546.0 528.5 L548.0 529.2 L550.0 530.0 L552.0 530.8 L554.0 531.6 L556.0 532.4 L558.0 533.2 L560.0 534.0 L562.0 534.9 L564.0 535.7 L566.0 536.5 L568.0 537.3 L570.0 538.1 L572.0 539.0 L574.0 539.8 L576.0 540.6 L578.0 541.5 L580.0 542.3 L582.0 543.1 L584.0 544.0 L586.0 544.8 L588.0 545.7 L590.0 546.5 L592.0 547.3 L594.0 548.2 L596.0 549.0 L598.0 549.8 L600.0 550.6 L602.0 551.5 L604.0 552.3 L606.0 553.1 L608.0 553.9 L610.0 554.7 L612.0 555.5 L614.0 556.3 L616.0 557.1 L618.0 557.9 L620.0 558.7 L622.0 559.5 L624.0 560.2 L626.0 561.0 L628.0 561.7 L630.0 562.5 L632.0 563.2 L634.0 563.9 L636.0 564.6 L638.0 565.3 L640.0 566.0 L642.0 566.7 L644.0 567.3 L646.0 568.0 L648.0 568.6 L650.0 569.3 L652.0 569.9 L654.0 570.5 L656.0 571.0 L658.0 571.6 L660.0 572.2 L662.0 572.7 L664.0 573.2 L666.0 573.7 L668.0 574.2 L670.0 574.7 L672.0 575.1 L674.0 575.6 L676.0 576.0 L678.0 576.4 L680.0 576.9 L682.0 577.3 L684.0 577.6 L686.0 578.0 L688.0 578.4 L690.0 578.7 L692.0 579.0 L694.0 579.4 L696.0 579.7 L698.0 580.0 L700.0 580.3 L702.0 580.5 L704.0 580.8 L706.0 581.1 L708.0 581.3 L710.0 581.5 L712.0 581.8 L714.0 582.0 L716.0 582.2 L718.0 582.4 L720.0 582.6 L722.0 582.8 L724.0 582.9 L726.0 583.1 L728.0 583.3 L730.0 583.4 L732.0 583.5 L734.0 583.7 L736.0 583.8 L738.0 583.9 L740.0 584.0 L742.0 584.1 L744.0 584.2 L746.0 584.3 L748.0 584.4 L750.0 584.5 L752.0 584.6 L754.0 584.7 L756.0 584.7 L758.0 584.8 L760.0 584.8 L762.0 584.9 L764.0 584.9 L766.0 585.0 L768.0 585.0 L770.0 585.0 L772.0 585.1 L774.0 585.1 L776.0 585.1 L778.0 585.1 L780.0 585.2 L782.0 585.2 L784.0 585.2 L786.0 585.2 L788.0 585.2 L790.0 585.2 L792.0 585.2 L794.0 585.2 L796.0 585.2 L798.0 585.2 L800.0 585.2 L802.0 585.1 L804.0 585.1 L806.0 585.1 L808.0 585.1 L810.0 585.1 L812.0 585.0 L814.0 585.0 L816.0 585.0 L818.0 585.0 L820.0 584.9 L822.0 584.9 L824.0 584.9 L826.0 584.8 L828.0 584.8 L830.0 584.8 L832.0 584.7 L834.0 584.7 L836.0 584.7 L838.0 584.6 L840.0 584.6 L842.0 584.6 L844.0 584.5 L846.0 584.5 L848.0 584.5 L850.0 584.4 L852.0 584.4 L854.0 584.4 L856.0 584.4 L858.0 584.3 L860.0 584.3 L862.0 584.3 L864.0 584.2 L866.0 584.2 L868.0 584.2 L870.0 584.2 L872.0 584.2 L874.0 584.1 L876.0 584.1 L878.0 584.1 L880.0 584.1 L882.0 584.1 L884.0 584.1 L886.0 584.1 L888.0 584.1 L890.0 584.1 L892.0 584.1 L894.0 584.1 L896.0 584.1 L898.0 584.1 L900.0 584.1 L902.0 584.2 L904.0 584.2 L906.0 584.2 L908.0 584.3 L910.0 584.3 L912.0 584.3 L914.0 584.4 L916.0 584.4 L918.0 584.5 L920.0 584.5 L922.0 584.6 L924.0 584.7 L926.0 584.7 L928.0 584.8 L930.0 584.9 L932.0 585.0 L934.0 585.0 L936.0 585.1 L938.0 585.2 L940.0 585.3 L942.0 585.4 L944.0 585.5 L946.0 585.6 L948.0 585.7 L950.0 585.8 L952.0 585.9 L954.0 586.0 L956.0 586.2 L958.0 586.3 L960.0 586.4 L962.0 586.5 L964.0 586.7 L966.0 586.8 L968.0 586.9 L970.0 587.1 L972.0 587.2 L974.0 587.4 L976.0 587.5 L978.0 587.7 L980.0 587.8 L982.0 588.0 L984.0 588.1 L986.0 588.3 L988.0 588.4 L990.0 588.6 L992.0 588.8 L994.0 588.9 L996.0 589.1 L998.0 589.3 L1000.0 589.5 L1002.0 589.6 L1004.0 589.8 L1006.0 590.0 L1008.0 590.2 L1010.0 590.4 L1012.0 590.5 L1014.0 590.7 L1016.0 590.9 L1018.0 591.1 L1020.0 591.3 L1022.0 591.5 L1024.0 591.7 L1026.0 591.9 L1028.0 592.1 L1030.0 592.3 L1032.0 592.5 L1034.0 592.7 L1036.0 592.9 L1038.0 593.1 L1040.0 593.3 L1042.0 593.5 L1044.0 593.7 L1046.0 593.9 L1048.0 594.2 L1050.0 594.4 L1052.0 594.6 L1054.0 594.8 L1056.0 595.0 L1058.0 595.2 L1060.0 595.4 L1062.0 595.7 L1064.0 595.9 L1066.0 596.1 L1068.0 596.3 L1070.0 596.5 L1072.0 596.8 L1074.0 597.0 L1076.0 597.2 L1078.0 597.4 L1080.0 597.6 L1082.0 597.9 L1084.0 598.1 L1086.0 598.3 L1088.0 598.5 L1090.0 598.8 L1092.0 599.0 L1094.0 599.2 L1096.0 599.4 L1098.0 599.6 L1100.0 599.9 L1102.0 600.1 L1104.0 600.3 L1106.0 600.5 L1108.0 600.7 L1110.0 601.0 L1112.0 601.2 L1114.0 601.4 L1116.0 601.6 L1118.0 601.8 L1120.0 602.1 L1122.0 602.3 L1124.0 602.5 L1126.0 602.7 L1128.0 602.9 L1130.0 603.1 L1132.0 603.4 L1134.0 603.6 L1136.0 603.8 L1138.0 604.0 L1140.0 604.2 L1142.0 604.4 L1144.0 604.6 L1146.0 604.8 L1148.0 605.0 L1150.0 605.2 L1152.0 605.4 L1154.0 605.6 L1156.0 605.8 L1158.0 606.0 L1160.0 606.2 L1162.0 606.4 L1164.0 606.6 L1166.0 606.8 L1168.0 607.0 L1170.0 607.2 L1172.0 607.4 L1174.0 607.6 L1176.0 607.8 L1178.0 608.0 L1180.0 608.2 L1182.0 608.4 L1184.0 608.6 L1186.0 608.8 L1188.0 609.0 L1190.0 609.2 L1192.0 609.4 L1194.0 609.6 L1196.0 609.8 L1198.0 610.0 L1200.0 610.2 L1202.0 610.4 L1204.0 610.6 L1206.0 610.8 L1208.0 610.9 L1210.0 611.1 L1212.0 611.3 L1214.0 611.5 L1216.0 611.6 L1218.0 611.8 L1220.0 612.0 L1222.0 612.1 L1224.0 612.2 L1226.0 612.4 L1228.0 612.5 L1230.0 612.6 L1232.0 612.7 L1234.0 612.8 L1236.0 612.9 L1238.0 613.0 L1240.0 613.1 L1242.0 613.1 L1244.0 613.1 L1246.0 613.2 L1248.0 613.2 L1250.0 613.1 L1252.0 613.1 L1254.0 613.0 L1256.0 612.9 L1258.0 612.8 L1260.0 612.6 L1262.0 612.5 L1264.0 612.3 L1266.0 612.0 L1268.0 611.7 L1270.0 611.4 L1272.0 611.1 L1274.0 610.7 L1276.0 610.2 L1278.0 609.7 L1280.0 609.2 L1282.0 608.6 L1284.0 608.0 L1286.0 607.3 L1288.0 606.5 L1290.0 605.7 L1292.0 604.9 L1294.0 603.9 L1296.0 603.0 L1298.0 601.9 L1300.0 600.8 L1302.0 599.6 L1304.0 598.3 L1306.0 597.0 L1308.0 595.6 L1310.0 594.1 L1312.0 592.5 L1314.0 590.9 L1316.0 589.2 L1318.0 587.4 L1320.0 585.5 L1322.0 583.6 L1324.0 581.5 L1326.0 579.4 L1328.0 577.3 L1330.0 575.0 L1332.0 572.7 L1334.0 570.3 L1336.0 567.8 L1338.0 565.3 L1340.0 562.7 L1342.0 560.1 L1344.0 557.4 L1346.0 554.6 L1348.0 551.9 L1350.0 549.0 L1352.0 546.1 L1354.0 543.2 L1356.0 540.3 L1358.0 537.4 L1360.0 534.4 L1362.0 531.5 L1364.0 528.5 L1366.0 525.6 L1368.0 522.6 L1370.0 519.7 L1372.0 516.9 L1374.0 514.0 L1376.0 511.3 L1378.0 508.6 L1380.0 505.9 L1382.0 503.3 L1384.0 500.9 L1386.0 498.5 L1388.0 496.2 L1390.0 494.0 L1392.0 492.0 L1394.0 490.1 L1396.0 488.3 L1398.0 486.7 L1400.0 485.3 L1402.0 484.0 L1404.0 482.8 L1406.0 481.9 L1408.0 481.1 L1410.0 480.6 L1412.0 480.2 L1414.0 480.0 L1416.0 480.0 L1418.0 480.3 L1420.0 480.7 L1422.0 481.3 L1424.0 482.2 L1426.0 483.2 L1428.0 484.4 L1430.0 485.9 L1432.0 487.5 L1434.0 489.3 L1436.0 491.3 L1438.0 493.4 L1440.0 495.8 L1442.0 498.3 L1444.0 500.9 L1446.0 503.7 L1448.0 506.6 L1450.0 509.6 L1452.0 512.8 L1454.0 516.0 L1456.0 519.4 L1458.0 522.8 L1460.0 526.4 L1462.0 529.9 L1464.0 533.6 L1466.0 537.3 L1468.0 541.0 L1470.0 544.8 L1472.0 548.6 L1474.0 552.4 L1476.0 556.2 L1478.0 560.0 L1480.0 563.8 L1482.0 567.6 L1484.0 571.4 L1486.0 575.1 L1488.0 578.8 L1490.0 582.5 L1492.0 586.1 L1494.0 589.6 L1496.0 593.1 L1498.0 596.6 L1500.0 600.0 L1502.0 603.3 L1504.0 606.5 L1506.0 609.7 L1508.0 612.8 L1510.0 615.8 L1512.0 618.7 L1514.0 621.5 L1516.0 624.3 L1518.0 627.0 L1520.0 629.5 L1522.0 632.0 L1524.0 634.4 L1526.0 636.8 L1528.0 639.0 L1530.0 641.1 L1532.0 643.2 L1534.0 645.2 L1536.0 647.0 L1538.0 648.9 L1540.0 650.6 L1542.0 652.2 L1544.0 653.8 L1546.0 655.3 L1548.0 656.7 L1550.0 658.0 L1552.0 659.3 L1554.0 660.5 L1556.0 661.7 L1558.0 662.7 L1560.0 663.7 L1562.0 664.7 L1564.0 665.6 L1566.0 666.5 L1568.0 667.3 L1570.0 668.0 L1572.0 668.7 L1574.0 669.4 L1576.0 670.0 L1578.0 670.5 L1580.0 671.1 L1582.0 671.6 L1584.0 672.0 L1586.0 672.4 L1588.0 672.8 L1590.0 673.2 L1592.0 673.6 L1594.0 673.9 L1596.0 674.2 L1598.0 674.4 L1600.0 674.7 L1602.0 674.9 L1604.0 675.1 L1606.0 675.3 L1608.0 675.5 L1610.0 675.7 L1612.0 675.8 L1614.0 675.9 L1616.0 676.1 L1618.0 676.2 L1620.0 676.3 L1622.0 676.4 L1624.0 676.5 L1626.0 676.6 L1628.0 676.6 L1630.0 676.7 L1632.0 676.8 L1634.0 676.8 L1636.0 676.9 L1638.0 676.9 L1640.0 677.0 L1642.0 677.0 L1644.0 677.1 L1646.0 677.1 L1648.0 677.1 L1650.0 677.2 L1652.0 677.2 L1654.0 677.2 L1656.0 677.3 L1658.0 677.3 L1660.0 677.3 L1662.0 677.3 L1664.0 677.4 L1666.0 677.4 L1668.0 677.4 L1670.0 677.4 L1672.0 677.4 L1674.0 677.4 L1676.0 677.5 L1678.0 677.5 L1680.0 677.5 L1682.0 677.5 L1684.0 677.5 L1686.0 677.5 L1688.0 677.5 L1690.0 677.5 L1692.0 677.5 L1694.0 677.4 L1696.0 677.4 L1698.0 677.4 L1700.0 677.4 L1702.0 677.4 L1704.0 677.3 L1706.0 677.3 L1708.0 677.3 L1710.0 677.2 L1712.0 677.2 L1714.0 677.2 L1716.0 677.1 L1718.0 677.1 L1720.0 677.0 L1722.0 676.9 L1724.0 676.9 L1726.0 676.8 L1728.0 676.7 L1730.0 676.6 L1732.0 676.6 L1734.0 676.5 L1736.0 676.4 L1738.0 676.3 L1740.0 676.2 L1742.0 676.0 L1744.0 675.9 L1746.0 675.8 L1748.0 675.7 L1750.0 675.5 L1752.0 675.4 L1754.0 675.3 L1756.0 675.1 L1758.0 674.9 L1760.0 674.8 L1762.0 674.6 L1764.0 674.4" fill="none" stroke="#CC9900" stroke-width="9.5" stroke-linejoin="round" stroke-linecap="butt"/>
<path d="M160.0 465.2 L162.0 464.9 L164.0 464.6 L166.0 464.3 L168.0 464.1 L170.0 463.9 L172.0 463.7 L174.0 463.5 L176.0 463.4 L178.0 463.3 L180.0 463.1 L182.0 463.1 L184.0 463.0 L186.0 462.9 L188.0 462.9 L190.0 462.9 L192.0 462.9 L194.0 462.9 L196.0 462.9 L198.0 463.0 L200.0 463.1 L202.0 463.2 L204.0 463.3 L206.0 463.4 L208.0 463.5 L210.0 463.7 L212.0 463.8 L214.0 464.0 L216.0 464.2 L218.0 464.4 L220.0 464.6 L222.0 464.8 L224.0 465.1 L226.0 465.3 L228.0 465.6 L230.0 465.8 L232.0 466.1 L234.0 466.4 L236.0 466.7 L238.0 467.0 L240.0 467.4 L242.0 467.7 L244.0 468.0 L246.0 468.4 L248.0 468.7 L250.0 469.1 L252.0 469.5 L254.0 469.8 L256.0 470.2 L258.0 470.6 L260.0 471.0 L262.0 471.4 L264.0 471.8 L266.0 472.2 L268.0 472.6 L270.0 473.1 L272.0 473.5 L274.0 473.9 L276.0 474.3 L278.0 474.8 L280.0 475.2 L282.0 475.6 L284.0 476.1 L286.0 476.5 L288.0 476.9 L290.0 477.4 L292.0 477.8 L294.0 478.3 L296.0 478.7 L298.0 479.1 L300.0 479.6 L302.0 480.0 L304.0 480.4 L306.0 480.9 L308.0 481.3 L310.0 481.7 L312.0 482.1 L314.0 482.5 L316.0 482.9 L318.0 483.3 L320.0 483.7 L322.0 484.1 L324.0 484.5 L326.0 484.9 L328.0 485.3 L330.0 485.7 L332.0 486.0 L334.0 486.4 L336.0 486.7 L338.0 487.1 L340.0 487.4 L342.0 487.8 L344.0 488.1 L346.0 488.5 L348.0 488.8 L350.0 489.1 L352.0 489.4 L354.0 489.7 L356.0 490.0 L358.0 490.3 L360.0 490.6 L362.0 490.9 L364.0 491.2 L366.0 491.5 L368.0 491.8 L370.0 492.1 L372.0 492.4 L374.0 492.7 L376.0 492.9 L378.0 493.2 L380.0 493.5 L382.0 493.8 L384.0 494.0 L386.0 494.3 L388.0 494.6 L390.0 494.8 L392.0 495.1 L394.0 495.3 L396.0 495.6 L398.0 495.8 L400.0 496.1 L402.0 496.4 L404.0 496.6 L406.0 496.9 L408.0 497.1 L410.0 497.4 L412.0 497.6 L414.0 497.9 L416.0 498.1 L418.0 498.4 L420.0 498.6 L422.0 498.9 L424.0 499.1 L426.0 499.4 L428.0 499.6 L430.0 499.9 L432.0 500.2 L434.0 500.4 L436.0 500.7 L438.0 500.9 L440.0 501.2 L442.0 501.5 L444.0 501.8 L446.0 502.1 L448.0 502.3 L450.0 502.6 L452.0 502.9 L454.0 503.2 L456.0 503.6 L458.0 503.9 L460.0 504.2 L462.0 504.5 L464.0 504.9 L466.0 505.2 L468.0 505.6 L470.0 506.0 L472.0 506.3 L474.0 506.7 L476.0 507.1 L478.0 507.6 L480.0 508.0 L482.0 508.4 L484.0 508.9 L486.0 509.3 L488.0 509.8 L490.0 510.3 L492.0 510.8 L494.0 511.3 L496.0 511.8 L498.0 512.4 L500.0 512.9 L502.0 513.5 L504.0 514.1 L506.0 514.7 L508.0 515.3 L510.0 515.9 L512.0 516.5 L514.0 517.1 L516.0 517.8 L518.0 518.5 L520.0 519.1 L522.0 519.8 L524.0 520.5 L526.0 521.2 L528.0 521.9 L530.0 522.6 L532.0 523.3 L534.0 524.1 L536.0 524.8 L538.0 525.6 L540.0 526.3 L542.0 527.1 L544.0 527.9 L546.0 528.6 L548.0 529.4 L550.0 530.2 L552.0 531.0 L554.0 531.8 L556.0 532.6 L558.0 533.4 L560.0 534.2 L562.0 535.0 L564.0 535.9 L566.0 536.7 L568.0 537.5 L570.0 538.3 L572.0 539.2 L574.0 540.0 L576.0 540.8 L578.0 541.7 L580.0 542.5 L582.0 543.3 L584.0 544.2 L586.0 545.0 L588.0 545.9 L590.0 546.7 L592.0 547.5 L594.0 548.4 L596.0 549.2 L598.0 550.0 L600.0 550.9 L602.0 551.7 L604.0 552.5 L606.0 553.3 L608.0 554.1 L610.0 554.9 L612.0 555.8 L614.0 556.6 L616.0 557.3 L618.0 558.1 L620.0 558.9 L622.0 559.7 L624.0 560.5 L626.0 561.2 L628.0 562.0 L630.0 562.7 L632.0 563.4 L634.0 564.1 L636.0 564.9 L638.0 565.6 L640.0 566.2 L642.0 566.9 L644.0 567.6 L646.0 568.2 L648.0 568.9 L650.0 569.5 L652.0 570.1 L654.0 570.7 L656.0 571.3 L658.0 571.8 L660.0 572.4 L662.0 572.9 L664.0 573.5 L666.0 574.0 L668.0 574.5 L670.0 574.9 L672.0 575.4 L674.0 575.8 L676.0 576.3 L678.0 576.7 L680.0 577.1 L682.0 577.5 L684.0 577.9 L686.0 578.3 L688.0 578.6 L690.0 579.0 L692.0 579.3 L694.0 579.6 L696.0 579.9 L698.0 580.2 L700.0 580.5 L702.0 580.8 L704.0 581.1 L706.0 581.3 L708.0 581.6 L710.0 581.8 L712.0 582.1 L714.0 582.3 L716.0 582.5 L718.0 582.7 L720.0 582.9 L722.0 583.1 L724.0 583.2 L726.0 583.4 L728.0 583.6 L730.0 583.7 L732.0 583.8 L734.0 584.0 L736.0 584.1 L738.0 584.2 L740.0 584.3 L742.0 584.4 L744.0 584.5 L746.0 584.6 L748.0 584.7 L750.0 584.8 L752.0 584.9 L754.0 585.0 L756.0 585.0 L758.0 585.1 L760.0 585.2 L762.0 585.2 L764.0 585.3 L766.0 585.3 L768.0 585.3 L770.0 585.4 L772.0 585.4 L774.0 585.4 L776.0 585.5 L778.0 585.5 L780.0 585.5 L782.0 585.5 L784.0 585.5 L786.0 585.5 L788.0 585.5 L790.0 585.5 L792.0 585.5 L794.0 585.5 L796.0 585.5 L798.0 585.5 L800.0 585.5 L802.0 585.5 L804.0 585.5 L806.0 585.5 L808.0 585.5 L810.0 585.4 L812.0 585.4 L814.0 585.4 L816.0 585.4 L818.0 585.3 L820.0 585.3 L822.0 585.3 L824.0 585.3 L826.0 585.2 L828.0 585.2 L830.0 585.2 L832.0 585.1 L834.0 585.1 L836.0 585.1 L838.0 585.1 L840.0 585.0 L842.0 585.0 L844.0 585.0 L846.0 584.9 L848.0 584.9 L850.0 584.9 L852.0 584.8 L854.0 584.8 L856.0 584.8 L858.0 584.8 L860.0 584.7 L862.0 584.7 L864.0 584.7 L866.0 584.7 L868.0 584.7 L870.0 584.6 L872.0 584.6 L874.0 584.6 L876.0 584.6 L878.0 584.6 L880.0 584.6 L882.0 584.6 L884.0 584.6 L886.0 584.6 L888.0 584.6 L890.0 584.6 L892.0 584.6 L894.0 584.6 L896.0 584.6 L898.0 584.6 L900.0 584.7 L902.0 584.7 L904.0 584.7 L906.0 584.7 L908.0 584.8 L910.0 584.8 L912.0 584.9 L914.0 584.9 L916.0 585.0 L918.0 585.0 L920.0 585.1 L922.0 585.2 L924.0 585.2 L926.0 585.3 L928.0 585.4 L930.0 585.5 L932.0 585.5 L934.0 585.6 L936.0 585.7 L938.0 585.8 L940.0 585.9 L942.0 586.0 L944.0 586.1 L946.0 586.2 L948.0 586.3 L950.0 586.4 L952.0 586.6 L954.0 586.7 L956.0 586.8 L958.0 586.9 L960.0 587.1 L962.0 587.2 L964.0 587.3 L966.0 587.5 L968.0 587.6 L970.0 587.8 L972.0 587.9 L974.0 588.1 L976.0 588.2 L978.0 588.4 L980.0 588.5 L982.0 588.7 L984.0 588.8 L986.0 589.0 L988.0 589.2 L990.0 589.3 L992.0 589.5 L994.0 589.7 L996.0 589.9 L998.0 590.0 L1000.0 590.2 L1002.0 590.4 L1004.0 590.6 L1006.0 590.8 L1008.0 591.0 L1010.0 591.2 L1012.0 591.4 L1014.0 591.6 L1016.0 591.8 L1018.0 592.0 L1020.0 592.2 L1022.0 592.4 L1024.0 592.6 L1026.0 592.8 L1028.0 593.0 L1030.0 593.2 L1032.0 593.4 L1034.0 593.6 L1036.0 593.8 L1038.0 594.0 L1040.0 594.3 L1042.0 594.5 L1044.0 594.7 L1046.0 594.9 L1048.0 595.1 L1050.0 595.4 L1052.0 595.6 L1054.0 595.8 L1056.0 596.0 L1058.0 596.3 L1060.0 596.5 L1062.0 596.7 L1064.0 596.9 L1066.0 597.2 L1068.0 597.4 L1070.0 597.6 L1072.0 597.9 L1074.0 598.1 L1076.0 598.3 L1078.0 598.6 L1080.0 598.8 L1082.0 599.0 L1084.0 599.3 L1086.0 599.5 L1088.0 599.8 L1090.0 600.0 L1092.0 600.2 L1094.0 600.5 L1096.0 600.7 L1098.0 600.9 L1100.0 601.2 L1102.0 601.4 L1104.0 601.7 L1106.0 601.9 L1108.0 602.1 L1110.0 602.4 L1112.0 602.6 L1114.0 602.8 L1116.0 603.1 L1118.0 603.3 L1120.0 603.6 L1122.0 603.8 L1124.0 604.0 L1126.0 604.3 L1128.0 604.5 L1130.0 604.7 L1132.0 605.0 L1134.0 605.2 L1136.0 605.4 L1138.0 605.7 L1140.0 605.9 L1142.0 606.1 L1144.0 606.4 L1146.0 606.6 L1148.0 606.8 L1150.0 607.0 L1152.0 607.3 L1154.0 607.5 L1156.0 607.7 L1158.0 608.0 L1160.0 608.2 L1162.0 608.4 L1164.0 608.7 L1166.0 608.9 L1168.0 609.1 L1170.0 609.4 L1172.0 609.6 L1174.0 609.8 L1176.0 610.1 L1178.0 610.3 L1180.0 610.6 L1182.0 610.8 L1184.0 611.1 L1186.0 611.3 L1188.0 611.6 L1190.0 611.8 L1192.0 612.1 L1194.0 612.3 L1196.0 612.6 L1198.0 612.8 L1200.0 613.1 L1202.0 613.3 L1204.0 613.6 L1206.0 613.9 L1208.0 614.1 L1210.0 614.4 L1212.0 614.7 L1214.0 615.0 L1216.0 615.3 L1218.0 615.5 L1220.0 615.8 L1222.0 616.1 L1224.0 616.4 L1226.0 616.7 L1228.0 617.0 L1230.0 617.3 L1232.0 617.6 L1234.0 617.9 L1236.0 618.2 L1238.0 618.6 L1240.0 618.9 L1242.0 619.2 L1244.0 619.5 L1246.0 619.9 L1248.0 620.2 L1250.0 620.6 L1252.0 620.9 L1254.0 621.3 L1256.0 621.6 L1258.0 622.0 L1260.0 622.3 L1262.0 622.7 L1264.0 623.1 L1266.0 623.5 L1268.0 623.9 L1270.0 624.3 L1272.0 624.7 L1274.0 625.1 L1276.0 625.5 L1278.0 625.9 L1280.0 626.3 L1282.0 626.7 L1284.0 627.2 L1286.0 627.6 L1288.0 628.0 L1290.0 628.5 L1292.0 628.9 L1294.0 629.4 L1296.0 629.9 L1298.0 630.3 L1300.0 630.8 L1302.0 631.3 L1304.0 631.8 L1306.0 632.3 L1308.0 632.8 L1310.0 633.3 L1312.0 633.8 L1314.0 634.4 L1316.0 634.9 L1318.0 635.4 L1320.0 636.0 L1322.0 636.5 L1324.0 637.0 L1326.0 637.6 L1328.0 638.1 L1330.0 638.7 L1332.0 639.2 L1334.0 639.8 L1336.0 640.4 L1338.0 640.9 L1340.0 641.5 L1342.0 642.1 L1344.0 642.6 L1346.0 643.2 L1348.0 643.8 L1350.0 644.4 L1352.0 644.9 L1354.0 645.5 L1356.0 646.1 L1358.0 646.7 L1360.0 647.3 L1362.0 647.9 L1364.0 648.4 L1366.0 649.0 L1368.0 649.6 L1370.0 650.2 L1372.0 650.8 L1374.0 651.3 L1376.0 651.9 L1378.0 652.5 L1380.0 653.1 L1382.0 653.6 L1384.0 654.2 L1386.0 654.8 L1388.0 655.4 L1390.0 655.9 L1392.0 656.5 L1394.0 657.0 L1396.0 657.6 L1398.0 658.2 L1400.0 658.7 L1402.0 659.2 L1404.0 659.8 L1406.0 660.3 L1408.0 660.9 L1410.0 661.4 L1412.0 661.9 L1414.0 662.4 L1416.0 663.0 L1418.0 663.5 L1420.0 664.0 L1422.0 664.5 L1424.0 665.0 L1426.0 665.4 L1428.0 665.9 L1430.0 666.4 L1432.0 666.9 L1434.0 667.3 L1436.0 667.8 L1438.0 668.2 L1440.0 668.7 L1442.0 669.1 L1444.0 669.5 L1446.0 669.9 L1448.0 670.3 L1450.0 670.7 L1452.0 671.1 L1454.0 671.5 L1456.0 671.9 L1458.0 672.2 L1460.0 672.6 L1462.0 672.9 L1464.0 673.3 L1466.0 673.6 L1468.0 673.9 L1470.0 674.2 L1472.0 674.5 L1474.0 674.8 L1476.0 675.1 L1478.0 675.4 L1480.0 675.6 L1482.0 675.9 L1484.0 676.1 L1486.0 676.4 L1488.0 676.6 L1490.0 676.8 L1492.0 677.0 L1494.0 677.2 L1496.0 677.4 L1498.0 677.6 L1500.0 677.8 L1502.0 678.0 L1504.0 678.2 L1506.0 678.3 L1508.0 678.5 L1510.0 678.6 L1512.0 678.8 L1514.0 678.9 L1516.0 679.0 L1518.0 679.2 L1520.0 679.3 L1522.0 679.4 L1524.0 679.5 L1526.0 679.6 L1528.0 679.7 L1530.0 679.8 L1532.0 679.9 L1534.0 680.0 L1536.0 680.0 L1538.0 680.1 L1540.0 680.2 L1542.0 680.2 L1544.0 680.3 L1546.0 680.3 L1548.0 680.4 L1550.0 680.4 L1552.0 680.5 L1554.0 680.5 L1556.0 680.5 L1558.0 680.5 L1560.0 680.6 L1562.0 680.6 L1564.0 680.6 L1566.0 680.6 L1568.0 680.6 L1570.0 680.6 L1572.0 680.6 L1574.0 680.6 L1576.0 680.6 L1578.0 680.6 L1580.0 680.6 L1582.0 680.6 L1584.0 680.6 L1586.0 680.6 L1588.0 680.6 L1590.0 680.5 L1592.0 680.5 L1594.0 680.5 L1596.0 680.5 L1598.0 680.4 L1600.0 680.4 L1602.0 680.4 L1604.0 680.4 L1606.0 680.3 L1608.0 680.3 L1610.0 680.3 L1612.0 680.2 L1614.0 680.2 L1616.0 680.2 L1618.0 680.2 L1620.0 680.1 L1622.0 680.1 L1624.0 680.1 L1626.0 680.0 L1628.0 680.0 L1630.0 680.0 L1632.0 679.9 L1634.0 679.9 L1636.0 679.9 L1638.0 679.9 L1640.0 679.8 L1642.0 679.8 L1644.0 679.8 L1646.0 679.8 L1648.0 679.7 L1650.0 679.7 L1652.0 679.7 L1654.0 679.7 L1656.0 679.7 L1658.0 679.6 L1660.0 679.6 L1662.0 679.6 L1664.0 679.6 L1666.0 679.6 L1668.0 679.6 L1670.0 679.5 L1672.0 679.5 L1674.0 679.5 L1676.0 679.5 L1678.0 679.4 L1680.0 679.4 L1682.0 679.4 L1684.0 679.4 L1686.0 679.3 L1688.0 679.3 L1690.0 679.3 L1692.0 679.2 L1694.0 679.2 L1696.0 679.2 L1698.0 679.1 L1700.0 679.1 L1702.0 679.0 L1704.0 679.0 L1706.0 678.9 L1708.0 678.9 L1710.0 678.8 L1712.0 678.8 L1714.0 678.7 L1716.0 678.6 L1718.0 678.6 L1720.0 678.5 L1722.0 678.4 L1724.0 678.3 L1726.0 678.2 L1728.0 678.1 L1730.0 678.0 L1732.0 677.9 L1734.0 677.8 L1736.0 677.7 L1738.0 677.6 L1740.0 677.5 L1742.0 677.3 L1744.0 677.2 L1746.0 677.1 L1748.0 676.9 L1750.0 676.8 L1752.0 676.6 L1754.0 676.5 L1756.0 676.3 L1758.0 676.1 L1760.0 675.9 L1762.0 675.7 L1764.0 675.5" fill="none" stroke="#00CCCC" stroke-width="9.5" stroke-linejoin="round" stroke-linecap="butt"/>
<path d="M160.0 459.3 L162.0 458.8 L164.0 458.3 L166.0 457.9 L168.0 457.4 L170.0 457.0 L172.0 456.5 L174.0 456.1 L176.0 455.6 L178.0 455.2 L180.0 454.7 L182.0 454.2 L184.0 453.8 L186.0 453.3 L188.0 452.8 L190.0 452.3 L192.0 451.8 L194.0 451.2 L196.0 450.7 L198.0 450.1 L200.0 449.5 L202.0 448.9 L204.0 448.3 L206.0 447.7 L208.0 447.0 L210.0 446.3 L212.0 445.6 L214.0 444.8 L216.0 444.0 L218.0 443.2 L220.0 442.4 L222.0 441.5 L224.0 440.6 L226.0 439.7 L228.0 438.8 L230.0 437.8 L232.0 436.8 L234.0 435.7 L236.0 434.7 L238.0 433.6 L240.0 432.4 L242.0 431.3 L244.0 430.1 L246.0 429.0 L248.0 427.8 L250.0 426.5 L252.0 425.3 L254.0 424.1 L256.0 422.8 L258.0 421.6 L260.0 420.4 L262.0 419.1 L264.0 417.9 L266.0 416.7 L268.0 415.4 L270.0 414.2 L272.0 413.1 L274.0 411.9 L276.0 410.8 L278.0 409.7 L280.0 408.7 L282.0 407.7 L284.0 406.7 L286.0 405.8 L288.0 405.0 L290.0 404.2 L292.0 403.5 L294.0 402.8 L296.0 402.2 L298.0 401.7 L300.0 401.3 L302.0 400.9 L304.0 400.6 L306.0 400.4 L308.0 400.3 L310.0 400.2 L312.0 400.3 L314.0 400.4 L316.0 400.7 L318.0 401.0 L320.0 401.4 L322.0 401.9 L324.0 402.4 L326.0 403.1 L328.0 403.9 L330.0 404.7 L332.0 405.6 L334.0 406.6 L336.0 407.7 L338.0 408.8 L340.0 410.1 L342.0 411.4 L344.0 412.7 L346.0 414.2 L348.0 415.7 L350.0 417.2 L352.0 418.8 L354.0 420.4 L356.0 422.1 L358.0 423.9 L360.0 425.6 L362.0 427.4 L364.0 429.3 L366.0 431.1 L368.0 433.0 L370.0 434.8 L372.0 436.7 L374.0 438.6 L376.0 440.5 L378.0 442.4 L380.0 444.2 L382.0 446.1 L384.0 447.9 L386.0 449.8 L388.0 451.6 L390.0 453.3 L392.0 455.1 L394.0 456.8 L396.0 458.4 L398.0 460.1 L400.0 461.7 L402.0 463.2 L404.0 464.7 L406.0 466.1 L408.0 467.5 L410.0 468.8 L412.0 470.1 L414.0 471.3 L416.0 472.5 L418.0 473.5 L420.0 474.6 L422.0 475.5 L424.0 476.4 L426.0 477.2 L428.0 478.0 L430.0 478.6 L432.0 479.3 L434.0 479.8 L436.0 480.2 L438.0 480.6 L440.0 480.9 L442.0 481.2 L444.0 481.3 L446.0 481.4 L448.0 481.4 L450.0 481.3 L452.0 481.1 L454.0 480.8 L456.0 480.5 L458.0 480.1 L460.0 479.6 L462.0 479.0 L464.0 478.3 L466.0 477.5 L468.0 476.6 L470.0 475.7 L472.0 474.6 L474.0 473.5 L476.0 472.3 L478.0 470.9 L480.0 469.5 L482.0 468.0 L484.0 466.4 L486.0 464.8 L488.0 463.0 L490.0 461.2 L492.0 459.2 L494.0 457.2 L496.0 455.1 L498.0 452.9 L500.0 450.7 L502.0 448.4 L504.0 446.0 L506.0 443.5 L508.0 441.0 L510.0 438.4 L512.0 435.8 L514.0 433.1 L516.0 430.4 L518.0 427.6 L520.0 424.8 L522.0 422.0 L524.0 419.2 L526.0 416.3 L528.0 413.5 L530.0 410.6 L532.0 407.8 L534.0 405.0 L536.0 402.3 L538.0 399.6 L540.0 396.9 L542.0 394.3 L544.0 391.7 L546.0 389.3 L548.0 386.9 L550.0 384.6 L552.0 382.4 L554.0 380.4 L556.0 378.4 L558.0 376.6 L560.0 375.0 L562.0 373.5 L564.0 372.1 L566.0 370.9 L568.0 369.9 L570.0 369.0 L572.0 368.3 L574.0 367.9 L576.0 367.6 L578.0 367.4 L580.0 367.5 L582.0 367.8 L584.0 368.3 L586.0 369.0 L588.0 369.9 L590.0 370.9 L592.0 372.2 L594.0 373.7 L596.0 375.4 L598.0 377.3 L600.0 379.3 L602.0 381.5 L604.0 384.0 L606.0 386.5 L608.0 389.3 L610.0 392.2 L612.0 395.3 L614.0 398.5 L616.0 401.8 L618.0 405.3 L620.0 408.8 L622.0 412.5 L624.0 416.3 L626.0 420.2 L628.0 424.1 L630.0 428.1 L632.0 432.2 L634.0 436.3 L636.0 440.5 L638.0 444.7 L640.0 448.9 L642.0 453.1 L644.0 457.4 L646.0 461.6 L648.0 465.8 L650.0 470.0 L652.0 474.1 L654.0 478.2 L656.0 482.2 L658.0 486.2 L660.0 490.2 L662.0 494.0 L664.0 497.8 L666.0 501.5 L668.0 505.2 L670.0 508.7 L672.0 512.2 L674.0 515.5 L676.0 518.8 L678.0 522.0 L680.0 525.1 L682.0 528.0 L684.0 530.9 L686.0 533.7 L688.0 536.3 L690.0 538.9 L692.0 541.4 L694.0 543.7 L696.0 546.0 L698.0 548.2 L700.0 550.3 L702.0 552.2 L704.0 554.1 L706.0 555.9 L708.0 557.6 L710.0 559.2 L712.0 560.7 L714.0 562.2 L716.0 563.6 L718.0 564.8 L720.0 566.1 L722.0 567.2 L724.0 568.3 L726.0 569.3 L728.0 570.2 L730.0 571.1 L732.0 572.0 L734.0 572.7 L736.0 573.5 L738.0 574.1 L740.0 574.8 L742.0 575.3 L744.0 575.9 L746.0 576.4 L748.0 576.8 L750.0 577.3 L752.0 577.7 L754.0 578.0 L756.0 578.4 L758.0 578.7 L760.0 579.0 L762.0 579.2 L764.0 579.4 L766.0 579.7 L768.0 579.9 L770.0 580.0 L772.0 580.2 L774.0 580.3 L776.0 580.5 L778.0 580.6 L780.0 580.7 L782.0 580.8 L784.0 580.9 L786.0 580.9 L788.0 581.0 L790.0 581.1 L792.0 581.1 L794.0 581.1 L796.0 581.2 L798.0 581.2 L800.0 581.2 L802.0 581.2 L804.0 581.2 L806.0 581.2 L808.0 581.2 L810.0 581.2 L812.0 581.2 L814.0 581.2 L816.0 581.2 L818.0 581.2 L820.0 581.2 L822.0 581.1 L824.0 581.1 L826.0 581.1 L828.0 581.1 L830.0 581.0 L832.0 581.0 L834.0 581.0 L836.0 580.9 L838.0 580.9 L840.0 580.8 L842.0 580.8 L844.0 580.8 L846.0 580.7 L848.0 580.7 L850.0 580.6 L852.0 580.6 L854.0 580.5 L856.0 580.5 L858.0 580.4 L860.0 580.4 L862.0 580.3 L864.0 580.2 L866.0 580.2 L868.0 580.1 L870.0 580.0 L872.0 580.0 L874.0 579.9 L876.0 579.8 L878.0 579.7 L880.0 579.6 L882.0 579.5 L884.0 579.4 L886.0 579.3 L888.0 579.2 L890.0 579.1 L892.0 578.9 L894.0 578.8 L896.0 578.6 L898.0 578.4 L900.0 578.2 L902.0 578.0 L904.0 577.8 L906.0 577.6 L908.0 577.3 L910.0 577.0 L912.0 576.7 L914.0 576.4 L916.0 576.1 L918.0 575.7 L920.0 575.3 L922.0 574.9 L924.0 574.4 L926.0 573.9 L928.0 573.3 L930.0 572.8 L932.0 572.1 L934.0 571.5 L936.0 570.8 L938.0 570.0 L940.0 569.2 L942.0 568.3 L944.0 567.4 L946.0 566.4 L948.0 565.4 L950.0 564.3 L952.0 563.1 L954.0 561.8 L956.0 560.5 L958.0 559.1 L960.0 557.7 L962.0 556.1 L964.0 554.5 L966.0 552.8 L968.0 551.0 L970.0 549.2 L972.0 547.2 L974.0 545.2 L976.0 543.1 L978.0 540.9 L980.0 538.6 L982.0 536.2 L984.0 533.7 L986.0 531.1 L988.0 528.5 L990.0 525.7 L992.0 522.9 L994.0 520.0 L996.0 517.0 L998.0 514.0 L1000.0 510.8 L1002.0 507.6 L1004.0 504.3 L1006.0 501.0 L1008.0 497.6 L1010.0 494.1 L1012.0 490.6 L1014.0 487.0 L1016.0 483.4 L1018.0 479.7 L1020.0 476.0 L1022.0 472.3 L1024.0 468.6 L1026.0 464.9 L1028.0 461.2 L1030.0 457.4 L1032.0 453.7 L1034.0 450.0 L1036.0 446.4 L1038.0 442.8 L1040.0 439.2 L1042.0 435.7 L1044.0 432.3 L1046.0 428.9 L1048.0 425.6 L1050.0 422.4 L1052.0 419.3 L1054.0 416.4 L1056.0 413.5 L1058.0 410.8 L1060.0 408.2 L1062.0 405.7 L1064.0 403.4 L1066.0 401.2 L1068.0 399.2 L1070.0 397.4 L1072.0 395.8 L1074.0 394.3 L1076.0 393.0 L1078.0 391.9 L1080.0 391.0 L1082.0 390.3 L1084.0 389.8 L1086.0 389.5 L1088.0 389.4 L1090.0 389.5 L1092.0 389.8 L1094.0 390.3 L1096.0 391.0 L1098.0 391.9 L1100.0 393.0 L1102.0 394.3 L1104.0 395.8 L1106.0 397.4 L1108.0 399.3 L1110.0 401.3 L1112.0 403.5 L1114.0 405.9 L1116.0 408.5 L1118.0 411.1 L1120.0 414.0 L1122.0 416.9 L1124.0 420.0 L1126.0 423.3 L1128.0 426.6 L1130.0 430.0 L1132.0 433.6 L1134.0 437.2 L1136.0 440.9 L1138.0 444.6 L1140.0 448.4 L1142.0 452.3 L1144.0 456.2 L1146.0 460.1 L1148.0 464.0 L1150.0 468.0 L1152.0 471.9 L1154.0 475.8 L1156.0 479.7 L1158.0 483.6 L1160.0 487.4 L1162.0 491.2 L1164.0 494.9 L1166.0 498.6 L1168.0 502.2 L1170.0 505.7 L1172.0 509.1 L1174.0 512.4 L1176.0 515.6 L1178.0 518.7 L1180.0 521.6 L1182.0 524.5 L1184.0 527.2 L1186.0 529.7 L1188.0 532.1 L1190.0 534.4 L1192.0 536.4 L1194.0 538.3 L1196.0 540.1 L1198.0 541.6 L1200.0 543.0 L1202.0 544.1 L1204.0 545.1 L1206.0 545.8 L1208.0 546.4 L1210.0 546.7 L1212.0 546.8 L1214.0 546.7 L1216.0 546.3 L1218.0 545.7 L1220.0 544.9 L1222.0 543.8 L1224.0 542.4 L1226.0 540.8 L1228.0 539.0 L1230.0 536.8 L1232.0 534.4 L1234.0 531.8 L1236.0 528.8 L1238.0 525.6 L1240.0 522.1 L1242.0 518.4 L1244.0 514.3 L1246.0 510.0 L1248.0 505.4 L1250.0 500.5 L1252.0 495.3 L1254.0 489.9 L1256.0 484.2 L1258.0 478.3 L1260.0 472.1 L1262.0 465.6 L1264.0 459.0 L1266.0 452.1 L1268.0 444.9 L1270.0 437.6 L1272.0 430.1 L1274.0 422.4 L1276.0 414.5 L1278.0 406.5 L1280.0 398.3 L1282.0 390.0 L1284.0 381.7 L1286.0 373.2 L1288.0 364.7 L1290.0 356.2 L1292.0 347.6 L1294.0 339.0 L1296.0 330.5 L1298.0 322.0 L1300.0 313.6 L1302.0 305.3 L1304.0 297.1 L1306.0 289.0 L1308.0 281.1 L1310.0 273.3 L1312.0 265.8 L1314.0 258.4 L1316.0 251.4 L1318.0 244.5 L1320.0 238.0 L1322.0 231.7 L1324.0 225.7 L1326.0 220.1 L1328.0 214.8 L1330.0 209.9 L1332.0 205.3 L1334.0 201.1 L1336.0 197.2 L1338.0 193.7 L1340.0 190.7 L1342.0 188.0 L1344.0 185.7 L1346.0 183.8 L1348.0 182.3 L1350.0 181.2 L1352.0 180.5 L1354.0 180.1 L1356.0 180.2 L1358.0 180.6 L1360.0 181.4 L1362.0 182.6 L1364.0 184.1 L1366.0 186.0 L1368.0 188.2 L1370.0 190.7 L1372.0 193.6 L1374.0 196.7 L1376.0 200.1 L1378.0 203.9 L1380.0 207.9 L1382.0 212.1 L1384.0 216.6 L1386.0 221.3 L1388.0 226.3 L1390.0 231.4 L1392.0 236.8 L1394.0 242.3 L1396.0 248.0 L1398.0 253.9 L1400.0 259.9 L1402.0 266.1 L1404.0 272.4 L1406.0 278.8 L1408.0 285.4 L1410.0 292.0 L1412.0 298.7 L1414.0 305.5 L1416.0 312.4 L1418.0 319.4 L1420.0 326.4 L1422.0 333.4 L1424.0 340.5 L1426.0 347.7 L1428.0 354.8 L1430.0 362.0 L1432.0 369.2 L1434.0 376.4 L1436.0 383.6 L1438.0 390.8 L1440.0 397.9 L1442.0 405.1 L1444.0 412.2 L1446.0 419.3 L1448.0 426.4 L1450.0 433.4 L1452.0 440.3 L1454.0 447.2 L1456.0 454.0 L1458.0 460.8 L1460.0 467.5 L1462.0 474.1 L1464.0 480.7 L1466.0 487.1 L1468.0 493.5 L1470.0 499.7 L1472.0 505.9 L1474.0 511.9 L1476.0 517.9 L1478.0 523.7 L1480.0 529.4 L1482.0 535.1 L1484.0 540.5 L1486.0 545.9 L1488.0 551.2 L1490.0 556.3 L1492.0 561.3 L1494.0 566.2 L1496.0 570.9 L1498.0 575.5 L1500.0 580.0 L1502.0 584.3 L1504.0 588.6 L1506.0 592.6 L1508.0 596.6 L1510.0 600.4 L1512.0 604.1 L1514.0 607.7 L1516.0 611.2 L1518.0 614.5 L1520.0 617.7 L1522.0 620.8 L1524.0 623.7 L1526.0 626.6 L1528.0 629.3 L1530.0 631.9 L1532.0 634.4 L1534.0 636.8 L1536.0 639.1 L1538.0 641.2 L1540.0 643.3 L1542.0 645.3 L1544.0 647.2 L1546.0 649.0 L1548.0 650.7 L1550.0 652.3 L1552.0 653.8 L1554.0 655.3 L1556.0 656.7 L1558.0 658.0 L1560.0 659.2 L1562.0 660.3 L1564.0 661.4 L1566.0 662.4 L1568.0 663.4 L1570.0 664.3 L1572.0 665.2 L1574.0 666.0 L1576.0 666.7 L1578.0 667.4 L1580.0 668.1 L1582.0 668.7 L1584.0 669.2 L1586.0 669.8 L1588.0 670.2 L1590.0 670.7 L1592.0 671.1 L1594.0 671.5 L1596.0 671.9 L1598.0 672.2 L1600.0 672.5 L1602.0 672.8 L1604.0 673.0 L1606.0 673.3 L1608.0 673.5 L1610.0 673.7 L1612.0 673.9 L1614.0 674.0 L1616.0 674.2 L1618.0 674.3 L1620.0 674.4 L1622.0 674.5 L1624.0 674.6 L1626.0 674.7 L1628.0 674.8 L1630.0 674.9 L1632.0 674.9 L1634.0 675.0 L1636.0 675.0 L1638.0 675.1 L1640.0 675.1 L1642.0 675.2 L1644.0 675.2 L1646.0 675.2 L1648.0 675.2 L1650.0 675.3 L1652.0 675.3 L1654.0 675.3 L1656.0 675.3 L1658.0 675.3 L1660.0 675.3 L1662.0 675.3 L1664.0 675.3 L1666.0 675.3 L1668.0 675.3 L1670.0 675.3 L1672.0 675.3 L1674.0 675.3 L1676.0 675.3 L1678.0 675.3 L1680.0 675.3 L1682.0 675.2 L1684.0 675.2 L1686.0 675.2 L1688.0 675.2 L1690.0 675.2 L1692.0 675.1 L1694.0 675.1 L1696.0 675.1 L1698.0 675.0 L1700.0 675.0 L1702.0 674.9 L1704.0 674.9 L1706.0 674.8 L1708.0 674.8 L1710.0 674.7 L1712.0 674.7 L1714.0 674.6 L1716.0 674.5 L1718.0 674.5 L1720.0 674.4 L1722.0 674.3 L1724.0 674.2 L1726.0 674.1 L1728.0 674.0 L1730.0 673.9 L1732.0 673.8 L1734.0 673.7 L1736.0 673.6 L1738.0 673.5 L1740.0 673.4 L1742.0 673.3 L1744.0 673.1 L1746.0 673.0 L1748.0 672.8 L1750.0 672.7 L1752.0 672.5 L1754.0 672.4 L1756.0 672.2 L1758.0 672.0 L1760.0 671.9 L1762.0 671.7 L1764.0 671.5" fill="none" stroke="#7B4B4B" stroke-width="9.5" stroke-linejoin="round" stroke-linecap="butt"/>
<path d="M160.0 841.5 L164.4 838.9 L168.9 837.2 L173.3 835.4 L177.8 829.4 L182.2 823.2 L186.7 813.9 L191.1 817.3 L195.6 811.6 L200.0 807.3 L204.5 801.5 L208.9 798.5 L213.4 801.5 L217.8 802.9 L222.3 799.5 L226.7 799.7 L231.2 801.3 L235.6 795.3 L240.1 791.8 L244.5 794.5 L249.0 788.1 L253.4 780.9 L257.9 783.8 L262.3 786.8 L266.8 785.6 L271.2 787.3 L275.7 795.8 L280.1 800.4 L284.6 796.2 L289.0 794.1 L293.5 798.5 L297.9 800.0 L302.4 797.4 L306.8 800.1 L311.3 801.7 L315.7 796.5 L320.2 794.1 L324.6 798.1 L329.1 800.7 L333.5 801.2 L338.0 794.0 L342.4 793.7 L346.9 797.7 L351.3 804.2 L355.8 817.0 L360.2 821.2 L364.7 820.4 L369.1 827.4 L373.6 828.7 L378.0 828.6 L382.5 830.9 L386.9 832.9 L391.4 829.5 L395.8 835.5 L400.3 834.5 L404.7 826.4 L409.2 829.3 L413.6 829.1 L418.1 829.0 L422.5 824.5 L427.0 823.9 L431.4 823.3 L435.9 819.8 L440.3 822.2 L444.8 821.1 L449.2 820.2 L453.7 818.1 L458.1 821.6 L462.6 819.4 L467.0 814.9 L471.5 814.3 L475.9 813.3 L480.4 806.1 L484.8 791.7 L489.3 794.1 L493.7 793.6 L498.2 788.6 L502.6 786.3 L507.1 789.9 L511.5 783.8 L516.0 787.1 L520.4 786.6 L524.9 775.4 L529.3 773.2 L533.8 770.8 L538.2 774.8 L542.7 780.1 L547.1 776.4 L551.6 762.0 L556.0 763.7 L560.5 772.9 L564.9 778.6 L569.4 775.8 L573.8 773.3 L578.3 778.0 L582.7 780.8 L587.2 782.1 L591.6 784.6 L596.1 791.7 L600.5 795.7 L605.0 797.2 L609.4 798.2 L613.9 798.4 L618.3 806.2 L622.8 816.2 L627.2 815.1 L631.7 816.0 L636.1 828.6 L640.6 835.2 L645.0 841.8 L649.5 839.0 L653.9 836.7 L658.4 839.5 L662.8 854.5 L667.3 861.9 L671.7 853.0 L676.2 853.5 L680.6 859.5 L685.1 858.7 L689.5 861.3 L694.0 864.8 L698.4 870.3 L702.9 875.3 L707.3 875.4 L711.8 877.5 L716.2 875.8 L720.7 875.3 L725.1 869.2 L729.6 874.3 L734.0 887.0 L738.5 891.7 L742.9 900.0 L747.4 906.5 L751.8 910.4 L756.3 910.3 L760.7 909.4 L765.2 904.7 L769.6 901.1 L774.1 901.0 L778.5 902.0 L783.0 902.1 L787.4 906.3 L791.9 911.5 L796.3 914.5 L800.8 911.4 L805.2 907.0 L809.7 913.1 L814.1 918.2 L818.6 921.7 L823.0 919.3 L827.5 913.9 L831.9 916.1 L836.4 925.9 L840.8 926.4 L845.3 929.8 L849.7 928.5 L854.2 918.3 L858.6 918.7 L863.1 919.9 L867.5 919.4 L872.0 917.9 L876.4 915.1 L880.9 910.1 L885.3 902.6 L889.8 902.5 L894.2 900.9 L898.7 901.2 L903.1 900.3 L907.6 903.1 L912.0 903.7 L916.5 900.7 L920.9 898.2 L925.4 894.2 L929.8 888.9 L934.3 885.3 L938.7 881.9 L943.2 881.1 L947.6 878.6 L952.1 875.1 L956.5 868.6 L961.0 870.7 L965.4 865.1 L969.9 861.7 L974.3 861.0 L978.8 857.9 L983.2 854.1 L987.7 845.3 L992.1 838.7 L996.6 839.1 L1001.0 844.2 L1005.5 838.1 L1009.9 831.1 L1014.4 830.3 L1018.8 828.1 L1023.3 832.8 L1027.7 823.8 L1032.2 824.5 L1036.6 821.9 L1041.1 813.9 L1045.5 817.5 L1050.0 820.5 L1054.4 817.6 L1058.9 815.8 L1063.3 816.2 L1067.8 813.3 L1072.2 811.4 L1076.7 809.9 L1081.1 809.6 L1085.6 806.1 L1090.0 809.0 L1094.5 805.1 L1098.9 802.7 L1103.4 809.6 L1107.8 815.9 L1112.3 813.2 L1116.7 808.8 L1121.2 811.2 L1125.6 808.9 L1130.1 808.3 L1134.5 805.2 L1139.0 798.2 L1143.4 806.5 L1147.9 817.4 L1152.3 822.9 L1156.8 821.0 L1161.2 821.1 L1165.7 826.3 L1170.1 836.1 L1174.6 840.3 L1179.0 836.8 L1183.5 838.8 L1187.9 834.5 L1192.4 828.8 L1196.8 833.4 L1201.3 833.3 L1205.7 827.9 L1210.2 827.3 L1214.6 825.2 L1219.1 816.9 L1223.5 811.9 L1228.0 813.4 L1232.4 811.3 L1236.9 805.7 L1241.3 800.0 L1245.8 790.3 L1250.2 775.2 L1254.7 768.8 L1259.1 763.1 L1263.6 755.1 L1268.0 746.4 L1272.5 734.9 L1276.9 731.8 L1281.4 729.4 L1285.8 716.8 L1290.3 703.4 L1294.7 699.4 L1299.2 695.1 L1303.6 684.9 L1308.1 676.7 L1312.5 674.3 L1317.0 663.0 L1321.4 661.8 L1325.9 658.7 L1330.3 657.0 L1334.8 665.8 L1339.2 665.3 L1343.7 661.3 L1348.1 665.7 L1352.6 662.6 L1357.0 658.0 L1361.5 665.0 L1365.9 675.6 L1370.4 683.3 L1374.8 687.8 L1379.3 693.1 L1383.7 699.0 L1388.2 703.6 L1392.6 712.2 L1397.1 715.9 L1401.5 722.5 L1406.0 732.5 L1410.4 739.5 L1414.9 752.1 L1419.3 764.4 L1423.8 763.2 L1428.2 761.4 L1432.7 768.0 L1437.1 782.6 L1441.6 797.9 L1446.0 803.3 L1450.5 808.6 L1454.9 810.7 L1459.4 821.7 L1463.8 821.2 L1468.3 820.5 L1472.7 830.1 L1477.2 839.8 L1481.6 849.0 L1486.1 855.5 L1490.5 873.6 L1495.0 891.7 L1499.4 888.1 L1503.9 897.1 L1508.3 907.7 L1512.8 916.7 L1517.2 920.4 L1521.7 932.3 L1526.1 948.1 L1530.6 959.3 L1535.0 970.7 L1539.5 972.7 L1543.9 984.7 L1548.4 1000.0 L1552.8 996.3 L1557.3 998.9 L1561.7 1008.1 L1566.2 1015.0 L1570.6 1021.3 L1575.1 1021.7 L1579.5 1021.6 L1584.0 1031.0 L1588.4 1044.0 L1592.9 1039.9 L1597.3 1028.7 L1601.8 1036.4 L1606.2 1042.4 L1610.7 1049.8 L1615.1 1054.8 L1619.6 1064.0 L1624.0 1065.3 L1628.5 1065.1 L1632.9 1064.2 L1637.4 1064.8 L1641.8 1068.6 L1646.3 1072.3 L1650.7 1069.4 L1655.2 1067.0 L1659.6 1071.0 L1664.1 1068.4 L1668.5 1064.9 L1673.0 1061.8 L1677.4 1061.6 L1681.9 1058.7 L1686.3 1055.0 L1690.8 1067.2 L1695.2 1070.0 L1699.7 1068.5 L1704.1 1072.4 L1708.6 1072.4 L1713.0 1068.5 L1717.5 1060.9 L1721.9 1068.1 L1726.4 1076.0 L1730.8 1081.4 L1735.3 1082.2 L1739.7 1076.1 L1744.2 1062.4 L1748.6 1057.4 L1753.1 1065.5 L1757.5 1067.2 L1762.0 1067.7 L1766.4 1063.9" fill="none" stroke="#8C8C00" stroke-width="9.5" stroke-linejoin="round" stroke-linecap="butt"/>
<path d="M160.0 832.4 L162.0 832.7 L164.0 832.9 L166.0 833.1 L168.0 833.3 L170.0 833.6 L172.0 833.8 L174.0 834.0 L176.0 834.2 L178.0 834.4 L180.0 834.7 L182.0 834.9 L184.0 835.1 L186.0 835.3 L188.0 835.5 L190.0 835.7 L192.0 835.9 L194.0 836.1 L196.0 836.3 L198.0 836.5 L200.0 836.7 L202.0 836.9 L204.0 837.1 L206.0 837.3 L208.0 837.5 L210.0 837.6 L212.0 837.8 L214.0 838.0 L216.0 838.2 L218.0 838.4 L220.0 838.5 L222.0 838.7 L224.0 838.9 L226.0 839.1 L228.0 839.2 L230.0 839.4 L232.0 839.6 L234.0 839.8 L236.0 839.9 L238.0 840.1 L240.0 840.3 L242.0 840.4 L244.0 840.6 L246.0 840.7 L248.0 840.9 L250.0 841.1 L252.0 841.2 L254.0 841.4 L256.0 841.5 L258.0 841.7 L260.0 841.8 L262.0 842.0 L264.0 842.1 L266.0 842.3 L268.0 842.4 L270.0 842.6 L272.0 842.7 L274.0 842.9 L276.0 843.0 L278.0 843.2 L280.0 843.3 L282.0 843.5 L284.0 843.6 L286.0 843.7 L288.0 843.9 L290.0 844.0 L292.0 844.1 L294.0 844.3 L296.0 844.4 L298.0 844.5 L300.0 844.7 L302.0 844.8 L304.0 844.9 L306.0 845.1 L308.0 845.2 L310.0 845.3 L312.0 845.4 L314.0 845.5 L316.0 845.7 L318.0 845.8 L320.0 845.9 L322.0 846.0 L324.0 846.1 L326.0 846.2 L328.0 846.3 L330.0 846.4 L332.0 846.5 L334.0 846.6 L336.0 846.7 L338.0 846.7 L340.0 846.8 L342.0 846.9 L344.0 846.9 L346.0 847.0 L348.0 847.0 L350.0 847.1 L352.0 847.1 L354.0 847.2 L356.0 847.2 L358.0 847.2 L360.0 847.2 L362.0 847.2 L364.0 847.2 L366.0 847.1 L368.0 847.1 L370.0 847.1 L372.0 847.0 L374.0 846.9 L376.0 846.8 L378.0 846.7 L380.0 846.6 L382.0 846.5 L384.0 846.3 L386.0 846.1 L388.0 845.9 L390.0 845.7 L392.0 845.5 L394.0 845.2 L396.0 844.9 L398.0 844.6 L400.0 844.3 L402.0 844.0 L404.0 843.6 L406.0 843.2 L408.0 842.7 L410.0 842.3 L412.0 841.8 L414.0 841.3 L416.0 840.7 L418.0 840.1 L420.0 839.5 L422.0 838.8 L424.0 838.1 L426.0 837.4 L428.0 836.6 L430.0 835.8 L432.0 835.0 L434.0 834.1 L436.0 833.2 L438.0 832.3 L440.0 831.3 L442.0 830.3 L444.0 829.2 L446.0 828.1 L448.0 827.0 L450.0 825.8 L452.0 824.6 L454.0 823.3 L456.0 822.1 L458.0 820.7 L460.0 819.4 L462.0 818.0 L464.0 816.6 L466.0 815.1 L468.0 813.7 L470.0 812.2 L472.0 810.6 L474.0 809.1 L476.0 807.5 L478.0 805.9 L480.0 804.3 L482.0 802.7 L484.0 801.1 L486.0 799.4 L488.0 797.7 L490.0 796.1 L492.0 794.4 L494.0 792.8 L496.0 791.1 L498.0 789.4 L500.0 787.8 L502.0 786.2 L504.0 784.6 L506.0 783.0 L508.0 781.4 L510.0 779.9 L512.0 778.4 L514.0 776.9 L516.0 775.5 L518.0 774.1 L520.0 772.8 L522.0 771.6 L524.0 770.3 L526.0 769.2 L528.0 768.1 L530.0 767.1 L532.0 766.1 L534.0 765.3 L536.0 764.5 L538.0 763.8 L540.0 763.1 L542.0 762.6 L544.0 762.1 L546.0 761.8 L548.0 761.5 L550.0 761.3 L552.0 761.3 L554.0 761.3 L556.0 761.4 L558.0 761.6 L560.0 762.0 L562.0 762.4 L564.0 762.9 L566.0 763.6 L568.0 764.3 L570.0 765.1 L572.0 766.1 L574.0 767.1 L576.0 768.2 L578.0 769.4 L580.0 770.8 L582.0 772.2 L584.0 773.7 L586.0 775.2 L588.0 776.9 L590.0 778.6 L592.0 780.4 L594.0 782.3 L596.0 784.2 L598.0 786.2 L600.0 788.3 L602.0 790.4 L604.0 792.6 L606.0 794.8 L608.0 797.0 L610.0 799.3 L612.0 801.7 L614.0 804.0 L616.0 806.4 L618.0 808.8 L620.0 811.3 L622.0 813.7 L624.0 816.2 L626.0 818.7 L628.0 821.2 L630.0 823.6 L632.0 826.1 L634.0 828.6 L636.0 831.1 L638.0 833.6 L640.0 836.0 L642.0 838.4 L644.0 840.8 L646.0 843.2 L648.0 845.6 L650.0 848.0 L652.0 850.3 L654.0 852.6 L656.0 854.8 L658.0 857.0 L660.0 859.2 L662.0 861.3 L664.0 863.5 L666.0 865.5 L668.0 867.5 L670.0 869.5 L672.0 871.5 L674.0 873.4 L676.0 875.2 L678.0 877.0 L680.0 878.8 L682.0 880.5 L684.0 882.1 L686.0 883.8 L688.0 885.3 L690.0 886.9 L692.0 888.3 L694.0 889.8 L696.0 891.2 L698.0 892.5 L700.0 893.8 L702.0 895.1 L704.0 896.3 L706.0 897.4 L708.0 898.6 L710.0 899.6 L712.0 900.7 L714.0 901.7 L716.0 902.7 L718.0 903.6 L720.0 904.5 L722.0 905.3 L724.0 906.2 L726.0 906.9 L728.0 907.7 L730.0 908.4 L732.0 909.1 L734.0 909.8 L736.0 910.4 L738.0 911.0 L740.0 911.6 L742.0 912.1 L744.0 912.6 L746.0 913.1 L748.0 913.6 L750.0 914.1 L752.0 914.5 L754.0 914.9 L756.0 915.3 L758.0 915.7 L760.0 916.0 L762.0 916.4 L764.0 916.7 L766.0 917.0 L768.0 917.3 L770.0 917.6 L772.0 917.8 L774.0 918.1 L776.0 918.3 L778.0 918.6 L780.0 918.8 L782.0 919.0 L784.0 919.2 L786.0 919.4 L788.0 919.5 L790.0 919.7 L792.0 919.9 L794.0 920.0 L796.0 920.1 L798.0 920.3 L800.0 920.4 L802.0 920.5 L804.0 920.6 L806.0 920.8 L808.0 920.9 L810.0 921.0 L812.0 921.0 L814.0 921.1 L816.0 921.2 L818.0 921.3 L820.0 921.4 L822.0 921.5 L824.0 921.5 L826.0 921.6 L828.0 921.7 L830.0 921.7 L832.0 921.8 L834.0 921.8 L836.0 921.9 L838.0 921.9 L840.0 922.0 L842.0 922.0 L844.0 922.1 L846.0 922.1 L848.0 922.2 L850.0 922.2 L852.0 922.3 L854.0 922.3 L856.0 922.3 L858.0 922.4 L860.0 922.4 L862.0 922.4 L864.0 922.5 L866.0 922.5 L868.0 922.6 L870.0 922.6 L872.0 922.6 L874.0 922.7 L876.0 922.7 L878.0 922.7 L880.0 922.8 L882.0 922.8 L884.0 922.9 L886.0 922.9 L888.0 922.9 L890.0 923.0 L892.0 923.0 L894.0 923.1 L896.0 923.1 L898.0 923.2 L900.0 923.2 L902.0 923.3 L904.0 923.3 L906.0 923.4 L908.0 923.4 L910.0 923.5 L912.0 923.5 L914.0 923.6 L916.0 923.7 L918.0 923.7 L920.0 923.8 L922.0 923.8 L924.0 923.9 L926.0 924.0 L928.0 924.1 L930.0 924.1 L932.0 924.2 L934.0 924.3 L936.0 924.4 L938.0 924.5 L940.0 924.6 L942.0 924.7 L944.0 924.8 L946.0 924.9 L948.0 925.0 L950.0 925.1 L952.0 925.2 L954.0 925.3 L956.0 925.4 L958.0 925.6 L960.0 925.7 L962.0 925.8 L964.0 925.9 L966.0 926.1 L968.0 926.2 L970.0 926.4 L972.0 926.5 L974.0 926.7 L976.0 926.8 L978.0 927.0 L980.0 927.2 L982.0 927.3 L984.0 927.5 L986.0 927.7 L988.0 927.9 L990.0 928.1 L992.0 928.3 L994.0 928.5 L996.0 928.7 L998.0 928.9 L1000.0 929.1 L1002.0 929.4 L1004.0 929.6 L1006.0 929.8 L1008.0 930.1 L1010.0 930.3 L1012.0 930.6 L1014.0 930.8 L1016.0 931.1 L1018.0 931.4 L1020.0 931.6 L1022.0 931.9 L1024.0 932.2 L1026.0 932.5 L1028.0 932.8 L1030.0 933.1 L1032.0 933.5 L1034.0 933.8 L1036.0 934.1 L1038.0 934.4 L1040.0 934.8 L1042.0 935.1 L1044.0 935.5 L1046.0 935.9 L1048.0 936.2 L1050.0 936.6 L1052.0 937.0 L1054.0 937.4 L1056.0 937.8 L1058.0 938.2 L1060.0 938.6 L1062.0 939.0 L1064.0 939.4 L1066.0 939.8 L1068.0 940.2 L1070.0 940.7 L1072.0 941.1 L1074.0 941.5 L1076.0 941.9 L1078.0 942.4 L1080.0 942.8 L1082.0 943.2 L1084.0 943.6 L1086.0 944.0 L1088.0 944.5 L1090.0 944.9 L1092.0 945.3 L1094.0 945.7 L1096.0 946.1 L1098.0 946.5 L1100.0 946.9 L1102.0 947.3 L1104.0 947.7 L1106.0 948.1 L1108.0 948.5 L1110.0 948.9 L1112.0 949.3 L1114.0 949.7 L1116.0 950.0 L1118.0 950.4 L1120.0 950.8 L1122.0 951.1 L1124.0 951.5 L1126.0 951.8 L1128.0 952.2 L1130.0 952.5 L1132.0 952.9 L1134.0 953.2 L1136.0 953.6 L1138.0 953.9 L1140.0 954.3 L1142.0 954.6 L1144.0 954.9 L1146.0 955.3 L1148.0 955.6 L1150.0 956.0 L1152.0 956.3 L1154.0 956.6 L1156.0 957.0 L1158.0 957.3 L1160.0 957.6 L1162.0 958.0 L1164.0 958.3 L1166.0 958.6 L1168.0 959.0 L1170.0 959.3 L1172.0 959.7 L1174.0 960.0 L1176.0 960.3 L1178.0 960.7 L1180.0 961.0 L1182.0 961.4 L1184.0 961.7 L1186.0 962.1 L1188.0 962.4 L1190.0 962.8 L1192.0 963.2 L1194.0 963.5 L1196.0 963.9 L1198.0 964.3 L1200.0 964.7 L1202.0 965.0 L1204.0 965.4 L1206.0 965.8 L1208.0 966.2 L1210.0 966.6 L1212.0 967.0 L1214.0 967.4 L1216.0 967.9 L1218.0 968.3 L1220.0 968.7 L1222.0 969.1 L1224.0 969.6 L1226.0 970.0 L1228.0 970.5 L1230.0 970.9 L1232.0 971.4 L1234.0 971.9 L1236.0 972.4 L1238.0 972.9 L1240.0 973.4 L1242.0 973.9 L1244.0 974.4 L1246.0 974.9 L1248.0 975.4 L1250.0 976.0 L1252.0 976.5 L1254.0 977.1 L1256.0 977.6 L1258.0 978.2 L1260.0 978.8 L1262.0 979.4 L1264.0 980.0 L1266.0 980.6 L1268.0 981.2 L1270.0 981.8 L1272.0 982.5 L1274.0 983.1 L1276.0 983.8 L1278.0 984.5 L1280.0 985.2 L1282.0 985.8 L1284.0 986.5 L1286.0 987.2 L1288.0 988.0 L1290.0 988.7 L1292.0 989.4 L1294.0 990.2 L1296.0 990.9 L1298.0 991.7 L1300.0 992.4 L1302.0 993.2 L1304.0 994.0 L1306.0 994.7 L1308.0 995.5 L1310.0 996.3 L1312.0 997.1 L1314.0 997.9 L1316.0 998.7 L1318.0 999.5 L1320.0 1000.3 L1322.0 1001.1 L1324.0 1002.0 L1326.0 1002.8 L1328.0 1003.6 L1330.0 1004.5 L1332.0 1005.3 L1334.0 1006.1 L1336.0 1007.0 L1338.0 1007.8 L1340.0 1008.6 L1342.0 1009.5 L1344.0 1010.3 L1346.0 1011.2 L1348.0 1012.0 L1350.0 1012.9 L1352.0 1013.7 L1354.0 1014.6 L1356.0 1015.4 L1358.0 1016.3 L1360.0 1017.1 L1362.0 1018.0 L1364.0 1018.8 L1366.0 1019.6 L1368.0 1020.5 L1370.0 1021.3 L1372.0 1022.2 L1374.0 1023.0 L1376.0 1023.8 L1378.0 1024.6 L1380.0 1025.5 L1382.0 1026.3 L1384.0 1027.1 L1386.0 1027.9 L1388.0 1028.7 L1390.0 1029.5 L1392.0 1030.3 L1394.0 1031.1 L1396.0 1031.9 L1398.0 1032.7 L1400.0 1033.5 L1402.0 1034.3 L1404.0 1035.0 L1406.0 1035.8 L1408.0 1036.6 L1410.0 1037.3 L1412.0 1038.0 L1414.0 1038.8 L1416.0 1039.5 L1418.0 1040.2 L1420.0 1040.9 L1422.0 1041.6 L1424.0 1042.3 L1426.0 1043.0 L1428.0 1043.7 L1430.0 1044.4 L1432.0 1045.0 L1434.0 1045.7 L1436.0 1046.4 L1438.0 1047.0 L1440.0 1047.6 L1442.0 1048.3 L1444.0 1048.9 L1446.0 1049.5 L1448.0 1050.1 L1450.0 1050.7 L1452.0 1051.3 L1454.0 1051.9 L1456.0 1052.5 L1458.0 1053.1 L1460.0 1053.6 L1462.0 1054.2 L1464.0 1054.8 L1466.0 1055.3 L1468.0 1055.8 L1470.0 1056.4 L1472.0 1056.9 L1474.0 1057.4 L1476.0 1057.9 L1478.0 1058.4 L1480.0 1058.9 L1482.0 1059.4 L1484.0 1059.9 L1486.0 1060.4 L1488.0 1060.9 L1490.0 1061.3 L1492.0 1061.8 L1494.0 1062.2 L1496.0 1062.7 L1498.0 1063.1 L1500.0 1063.5 L1502.0 1064.0 L1504.0 1064.4 L1506.0 1064.8 L1508.0 1065.2 L1510.0 1065.6 L1512.0 1066.0 L1514.0 1066.3 L1516.0 1066.7 L1518.0 1067.1 L1520.0 1067.4 L1522.0 1067.8 L1524.0 1068.1 L1526.0 1068.5 L1528.0 1068.8 L1530.0 1069.1 L1532.0 1069.5 L1534.0 1069.8 L1536.0 1070.1 L1538.0 1070.4 L1540.0 1070.7 L1542.0 1071.0 L1544.0 1071.2 L1546.0 1071.5 L1548.0 1071.8 L1550.0 1072.0 L1552.0 1072.3 L1554.0 1072.5 L1556.0 1072.8 L1558.0 1073.0 L1560.0 1073.2 L1562.0 1073.5 L1564.0 1073.7 L1566.0 1073.9 L1568.0 1074.1 L1570.0 1074.3 L1572.0 1074.5 L1574.0 1074.6 L1576.0 1074.8 L1578.0 1075.0 L1580.0 1075.1 L1582.0 1075.3 L1584.0 1075.4 L1586.0 1075.6 L1588.0 1075.7 L1590.0 1075.9 L1592.0 1076.0 L1594.0 1076.1 L1596.0 1076.2 L1598.0 1076.3 L1600.0 1076.4 L1602.0 1076.5 L1604.0 1076.6 L1606.0 1076.7 L1608.0 1076.8 L1610.0 1076.9 L1612.0 1076.9 L1614.0 1077.0 L1616.0 1077.1 L1618.0 1077.1 L1620.0 1077.2 L1622.0 1077.2 L1624.0 1077.3 L1626.0 1077.3 L1628.0 1077.4 L1630.0 1077.4 L1632.0 1077.4 L1634.0 1077.4 L1636.0 1077.4 L1638.0 1077.5 L1640.0 1077.5 L1642.0 1077.5 L1644.0 1077.5 L1646.0 1077.5 L1648.0 1077.4 L1650.0 1077.4 L1652.0 1077.4 L1654.0 1077.4 L1656.0 1077.4 L1658.0 1077.3 L1660.0 1077.3 L1662.0 1077.3 L1664.0 1077.2 L1666.0 1077.2 L1668.0 1077.1 L1670.0 1077.1 L1672.0 1077.0 L1674.0 1077.0 L1676.0 1076.9 L1678.0 1076.9 L1680.0 1076.8 L1682.0 1076.7 L1684.0 1076.7 L1686.0 1076.6 L1688.0 1076.5 L1690.0 1076.4 L1692.0 1076.3 L1694.0 1076.3 L1696.0 1076.2 L1698.0 1076.1 L1700.0 1076.0 L1702.0 1075.9 L1704.0 1075.8 L1706.0 1075.7 L1708.0 1075.6 L1710.0 1075.5 L1712.0 1075.4 L1714.0 1075.3 L1716.0 1075.2 L1718.0 1075.1 L1720.0 1075.0 L1722.0 1074.8 L1724.0 1074.7 L1726.0 1074.6 L1728.0 1074.5 L1730.0 1074.4 L1732.0 1074.3 L1734.0 1074.1 L1736.0 1074.0 L1738.0 1073.9 L1740.0 1073.8 L1742.0 1073.6 L1744.0 1073.5 L1746.0 1073.4 L1748.0 1073.2 L1750.0 1073.1 L1752.0 1073.0 L1754.0 1072.8 L1756.0 1072.7 L1758.0 1072.6 L1760.0 1072.4 L1762.0 1072.3 L1764.0 1072.2" fill="none" stroke="#6AB400" stroke-width="9.5" stroke-linejoin="round" stroke-linecap="butt"/>
<path d="M160.0 832.9 L162.0 833.1 L164.0 833.4 L166.0 833.6 L168.0 833.8 L170.0 834.1 L172.0 834.3 L174.0 834.5 L176.0 834.7 L178.0 835.0 L180.0 835.2 L182.0 835.4 L184.0 835.6 L186.0 835.8 L188.0 836.0 L190.0 836.2 L192.0 836.5 L194.0 836.7 L196.0 836.9 L198.0 837.1 L200.0 837.3 L202.0 837.5 L204.0 837.7 L206.0 837.9 L208.0 838.1 L210.0 838.3 L212.0 838.5 L214.0 838.6 L216.0 838.8 L218.0 839.0 L220.0 839.2 L222.0 839.4 L224.0 839.6 L226.0 839.8 L228.0 839.9 L230.0 840.1 L232.0 840.3 L234.0 840.5 L236.0 840.7 L238.0 840.8 L240.0 841.0 L242.0 841.2 L244.0 841.4 L246.0 841.5 L248.0 841.7 L250.0 841.9 L252.0 842.0 L254.0 842.2 L256.0 842.4 L258.0 842.5 L260.0 842.7 L262.0 842.9 L264.0 843.0 L266.0 843.2 L268.0 843.4 L270.0 843.5 L272.0 843.7 L274.0 843.9 L276.0 844.0 L278.0 844.2 L280.0 844.3 L282.0 844.5 L284.0 844.7 L286.0 844.8 L288.0 845.0 L290.0 845.1 L292.0 845.3 L294.0 845.5 L296.0 845.6 L298.0 845.8 L300.0 845.9 L302.0 846.1 L304.0 846.3 L306.0 846.4 L308.0 846.6 L310.0 846.7 L312.0 846.9 L314.0 847.0 L316.0 847.2 L318.0 847.4 L320.0 847.5 L322.0 847.7 L324.0 847.8 L326.0 848.0 L328.0 848.2 L330.0 848.3 L332.0 848.5 L334.0 848.6 L336.0 848.8 L338.0 849.0 L340.0 849.1 L342.0 849.3 L344.0 849.5 L346.0 849.6 L348.0 849.8 L350.0 850.0 L352.0 850.1 L354.0 850.3 L356.0 850.5 L358.0 850.6 L360.0 850.8 L362.0 851.0 L364.0 851.1 L366.0 851.3 L368.0 851.5 L370.0 851.6 L372.0 851.8 L374.0 852.0 L376.0 852.2 L378.0 852.4 L380.0 852.5 L382.0 852.7 L384.0 852.9 L386.0 853.1 L388.0 853.3 L390.0 853.4 L392.0 853.6 L394.0 853.8 L396.0 854.0 L398.0 854.2 L400.0 854.4 L402.0 854.6 L404.0 854.8 L406.0 855.0 L408.0 855.2 L410.0 855.4 L412.0 855.6 L414.0 855.8 L416.0 856.0 L418.0 856.2 L420.0 856.4 L422.0 856.6 L424.0 856.8 L426.0 857.0 L428.0 857.3 L430.0 857.5 L432.0 857.7 L434.0 857.9 L436.0 858.1 L438.0 858.4 L440.0 858.6 L442.0 858.8 L444.0 859.1 L446.0 859.3 L448.0 859.6 L450.0 859.8 L452.0 860.1 L454.0 860.3 L456.0 860.6 L458.0 860.8 L460.0 861.1 L462.0 861.4 L464.0 861.7 L466.0 862.0 L468.0 862.2 L470.0 862.5 L472.0 862.8 L474.0 863.2 L476.0 863.5 L478.0 863.8 L480.0 864.1 L482.0 864.5 L484.0 864.8 L486.0 865.2 L488.0 865.5 L490.0 865.9 L492.0 866.3 L494.0 866.6 L496.0 867.0 L498.0 867.4 L500.0 867.8 L502.0 868.2 L504.0 868.7 L506.0 869.1 L508.0 869.5 L510.0 870.0 L512.0 870.5 L514.0 870.9 L516.0 871.4 L518.0 871.9 L520.0 872.4 L522.0 872.9 L524.0 873.4 L526.0 874.0 L528.0 874.5 L530.0 875.1 L532.0 875.6 L534.0 876.2 L536.0 876.8 L538.0 877.4 L540.0 878.0 L542.0 878.6 L544.0 879.2 L546.0 879.8 L548.0 880.4 L550.0 881.0 L552.0 881.7 L554.0 882.3 L556.0 882.9 L558.0 883.6 L560.0 884.2 L562.0 884.8 L564.0 885.5 L566.0 886.1 L568.0 886.7 L570.0 887.4 L572.0 888.0 L574.0 888.6 L576.0 889.2 L578.0 889.9 L580.0 890.5 L582.0 891.1 L584.0 891.7 L586.0 892.3 L588.0 892.9 L590.0 893.5 L592.0 894.0 L594.0 894.6 L596.0 895.2 L598.0 895.7 L600.0 896.3 L602.0 896.8 L604.0 897.4 L606.0 897.9 L608.0 898.4 L610.0 898.9 L612.0 899.4 L614.0 899.9 L616.0 900.4 L618.0 900.9 L620.0 901.4 L622.0 901.8 L624.0 902.3 L626.0 902.7 L628.0 903.2 L630.0 903.6 L632.0 904.1 L634.0 904.5 L636.0 904.9 L638.0 905.3 L640.0 905.7 L642.0 906.1 L644.0 906.5 L646.0 906.9 L648.0 907.3 L650.0 907.7 L652.0 908.0 L654.0 908.4 L656.0 908.8 L658.0 909.1 L660.0 909.5 L662.0 909.8 L664.0 910.1 L666.0 910.5 L668.0 910.8 L670.0 911.1 L672.0 911.4 L674.0 911.7 L676.0 912.0 L678.0 912.3 L680.0 912.6 L682.0 912.9 L684.0 913.2 L686.0 913.4 L688.0 913.7 L690.0 914.0 L692.0 914.2 L694.0 914.5 L696.0 914.7 L698.0 915.0 L700.0 915.2 L702.0 915.5 L704.0 915.7 L706.0 915.9 L708.0 916.1 L710.0 916.3 L712.0 916.5 L714.0 916.7 L716.0 916.9 L718.0 917.1 L720.0 917.3 L722.0 917.5 L724.0 917.7 L726.0 917.9 L728.0 918.1 L730.0 918.2 L732.0 918.4 L734.0 918.5 L736.0 918.7 L738.0 918.9 L740.0 919.0 L742.0 919.2 L744.0 919.3 L746.0 919.4 L748.0 919.6 L750.0 919.7 L752.0 919.8 L754.0 919.9 L756.0 920.1 L758.0 920.2 L760.0 920.3 L762.0 920.4 L764.0 920.5 L766.0 920.6 L768.0 920.7 L770.0 920.8 L772.0 920.9 L774.0 921.0 L776.0 921.1 L778.0 921.1 L780.0 921.2 L782.0 921.3 L784.0 921.4 L786.0 921.5 L788.0 921.5 L790.0 921.6 L792.0 921.7 L794.0 921.7 L796.0 921.8 L798.0 921.8 L800.0 921.9 L802.0 921.9 L804.0 922.0 L806.0 922.0 L808.0 922.1 L810.0 922.1 L812.0 922.2 L814.0 922.2 L816.0 922.2 L818.0 922.3 L820.0 922.3 L822.0 922.3 L824.0 922.4 L826.0 922.4 L828.0 922.4 L830.0 922.4 L832.0 922.5 L834.0 922.5 L836.0 922.5 L838.0 922.5 L840.0 922.5 L842.0 922.6 L844.0 922.6 L846.0 922.6 L848.0 922.6 L850.0 922.6 L852.0 922.6 L854.0 922.7 L856.0 922.7 L858.0 922.7 L860.0 922.7 L862.0 922.7 L864.0 922.7 L866.0 922.8 L868.0 922.8 L870.0 922.8 L872.0 922.8 L874.0 922.8 L876.0 922.8 L878.0 922.9 L880.0 922.9 L882.0 922.9 L884.0 922.9 L886.0 922.9 L888.0 923.0 L890.0 923.0 L892.0 923.0 L894.0 923.0 L896.0 923.0 L898.0 923.1 L900.0 923.1 L902.0 923.1 L904.0 923.2 L906.0 923.2 L908.0 923.2 L910.0 923.3 L912.0 923.3 L914.0 923.3 L916.0 923.4 L918.0 923.4 L920.0 923.5 L922.0 923.5 L924.0 923.6 L926.0 923.6 L928.0 923.7 L930.0 923.8 L932.0 923.8 L934.0 923.9 L936.0 923.9 L938.0 924.0 L940.0 924.1 L942.0 924.2 L944.0 924.2 L946.0 924.3 L948.0 924.4 L950.0 924.5 L952.0 924.6 L954.0 924.7 L956.0 924.8 L958.0 924.9 L960.0 925.0 L962.0 925.1 L964.0 925.2 L966.0 925.3 L968.0 925.5 L970.0 925.6 L972.0 925.7 L974.0 925.8 L976.0 926.0 L978.0 926.1 L980.0 926.3 L982.0 926.4 L984.0 926.6 L986.0 926.7 L988.0 926.9 L990.0 927.1 L992.0 927.3 L994.0 927.4 L996.0 927.6 L998.0 927.8 L1000.0 928.0 L1002.0 928.2 L1004.0 928.4 L1006.0 928.6 L1008.0 928.8 L1010.0 929.1 L1012.0 929.3 L1014.0 929.5 L1016.0 929.8 L1018.0 930.0 L1020.0 930.3 L1022.0 930.5 L1024.0 930.8 L1026.0 931.1 L1028.0 931.3 L1030.0 931.6 L1032.0 931.9 L1034.0 932.2 L1036.0 932.5 L1038.0 932.8 L1040.0 933.1 L1042.0 933.4 L1044.0 933.7 L1046.0 934.1 L1048.0 934.4 L1050.0 934.8 L1052.0 935.1 L1054.0 935.4 L1056.0 935.8 L1058.0 936.2 L1060.0 936.5 L1062.0 936.9 L1064.0 937.2 L1066.0 937.6 L1068.0 938.0 L1070.0 938.3 L1072.0 938.7 L1074.0 939.1 L1076.0 939.4 L1078.0 939.8 L1080.0 940.1 L1082.0 940.5 L1084.0 940.8 L1086.0 941.2 L1088.0 941.5 L1090.0 941.8 L1092.0 942.1 L1094.0 942.5 L1096.0 942.8 L1098.0 943.0 L1100.0 943.3 L1102.0 943.6 L1104.0 943.8 L1106.0 944.1 L1108.0 944.3 L1110.0 944.5 L1112.0 944.7 L1114.0 944.9 L1116.0 945.0 L1118.0 945.2 L1120.0 945.3 L1122.0 945.4 L1124.0 945.4 L1126.0 945.5 L1128.0 945.5 L1130.0 945.5 L1132.0 945.4 L1134.0 945.4 L1136.0 945.3 L1138.0 945.1 L1140.0 945.0 L1142.0 944.8 L1144.0 944.5 L1146.0 944.2 L1148.0 943.9 L1150.0 943.5 L1152.0 943.1 L1154.0 942.6 L1156.0 942.1 L1158.0 941.5 L1160.0 940.8 L1162.0 940.1 L1164.0 939.3 L1166.0 938.5 L1168.0 937.5 L1170.0 936.5 L1172.0 935.5 L1174.0 934.3 L1176.0 933.1 L1178.0 931.8 L1180.0 930.4 L1182.0 928.8 L1184.0 927.2 L1186.0 925.5 L1188.0 923.7 L1190.0 921.8 L1192.0 919.8 L1194.0 917.7 L1196.0 915.5 L1198.0 913.1 L1200.0 910.7 L1202.0 908.1 L1204.0 905.4 L1206.0 902.6 L1208.0 899.7 L1210.0 896.6 L1212.0 893.5 L1214.0 890.2 L1216.0 886.8 L1218.0 883.3 L1220.0 879.6 L1222.0 875.9 L1224.0 872.0 L1226.0 868.0 L1228.0 863.9 L1230.0 859.7 L1232.0 855.4 L1234.0 851.1 L1236.0 846.6 L1238.0 842.0 L1240.0 837.4 L1242.0 832.7 L1244.0 827.9 L1246.0 823.1 L1248.0 818.2 L1250.0 813.3 L1252.0 808.3 L1254.0 803.3 L1256.0 798.3 L1258.0 793.3 L1260.0 788.4 L1262.0 783.4 L1264.0 778.5 L1266.0 773.6 L1268.0 768.7 L1270.0 764.0 L1272.0 759.3 L1274.0 754.7 L1276.0 750.2 L1278.0 745.8 L1280.0 741.6 L1282.0 737.5 L1284.0 733.6 L1286.0 729.8 L1288.0 726.2 L1290.0 722.8 L1292.0 719.6 L1294.0 716.6 L1296.0 713.9 L1298.0 711.4 L1300.0 709.1 L1302.0 707.1 L1304.0 705.4 L1306.0 704.0 L1308.0 702.8 L1310.0 702.0 L1312.0 701.4 L1314.0 701.1 L1316.0 701.2 L1318.0 701.5 L1320.0 702.2 L1322.0 703.2 L1324.0 704.5 L1326.0 706.1 L1328.0 708.0 L1330.0 710.2 L1332.0 712.7 L1334.0 715.4 L1336.0 718.5 L1338.0 721.9 L1340.0 725.5 L1342.0 729.3 L1344.0 733.5 L1346.0 737.8 L1348.0 742.4 L1350.0 747.1 L1352.0 752.1 L1354.0 757.3 L1356.0 762.6 L1358.0 768.1 L1360.0 773.7 L1362.0 779.5 L1364.0 785.4 L1366.0 791.4 L1368.0 797.5 L1370.0 803.7 L1372.0 809.9 L1374.0 816.2 L1376.0 822.5 L1378.0 828.9 L1380.0 835.3 L1382.0 841.6 L1384.0 848.0 L1386.0 854.4 L1388.0 860.7 L1390.0 867.0 L1392.0 873.3 L1394.0 879.5 L1396.0 885.6 L1398.0 891.7 L1400.0 897.7 L1402.0 903.6 L1404.0 909.4 L1406.0 915.1 L1408.0 920.7 L1410.0 926.2 L1412.0 931.6 L1414.0 936.9 L1416.0 942.0 L1418.0 947.0 L1420.0 951.9 L1422.0 956.7 L1424.0 961.3 L1426.0 965.8 L1428.0 970.2 L1430.0 974.5 L1432.0 978.6 L1434.0 982.5 L1436.0 986.4 L1438.0 990.1 L1440.0 993.7 L1442.0 997.1 L1444.0 1000.5 L1446.0 1003.7 L1448.0 1006.8 L1450.0 1009.7 L1452.0 1012.6 L1454.0 1015.3 L1456.0 1018.0 L1458.0 1020.5 L1460.0 1022.9 L1462.0 1025.2 L1464.0 1027.4 L1466.0 1029.6 L1468.0 1031.6 L1470.0 1033.5 L1472.0 1035.4 L1474.0 1037.2 L1476.0 1038.8 L1478.0 1040.5 L1480.0 1042.0 L1482.0 1043.5 L1484.0 1044.9 L1486.0 1046.2 L1488.0 1047.5 L1490.0 1048.7 L1492.0 1049.9 L1494.0 1051.0 L1496.0 1052.1 L1498.0 1053.1 L1500.0 1054.1 L1502.0 1055.0 L1504.0 1055.9 L1506.0 1056.7 L1508.0 1057.5 L1510.0 1058.3 L1512.0 1059.1 L1514.0 1059.8 L1516.0 1060.5 L1518.0 1061.1 L1520.0 1061.7 L1522.0 1062.3 L1524.0 1062.9 L1526.0 1063.5 L1528.0 1064.0 L1530.0 1064.5 L1532.0 1065.0 L1534.0 1065.5 L1536.0 1066.0 L1538.0 1066.4 L1540.0 1066.8 L1542.0 1067.2 L1544.0 1067.6 L1546.0 1068.0 L1548.0 1068.4 L1550.0 1068.7 L1552.0 1069.1 L1554.0 1069.4 L1556.0 1069.7 L1558.0 1070.0 L1560.0 1070.3 L1562.0 1070.6 L1564.0 1070.9 L1566.0 1071.1 L1568.0 1071.4 L1570.0 1071.6 L1572.0 1071.9 L1574.0 1072.1 L1576.0 1072.3 L1578.0 1072.5 L1580.0 1072.8 L1582.0 1072.9 L1584.0 1073.1 L1586.0 1073.3 L1588.0 1073.5 L1590.0 1073.7 L1592.0 1073.8 L1594.0 1074.0 L1596.0 1074.1 L1598.0 1074.3 L1600.0 1074.4 L1602.0 1074.5 L1604.0 1074.7 L1606.0 1074.8 L1608.0 1074.9 L1610.0 1075.0 L1612.0 1075.1 L1614.0 1075.2 L1616.0 1075.3 L1618.0 1075.3 L1620.0 1075.4 L1622.0 1075.5 L1624.0 1075.6 L1626.0 1075.6 L1628.0 1075.7 L1630.0 1075.7 L1632.0 1075.8 L1634.0 1075.8 L1636.0 1075.8 L1638.0 1075.9 L1640.0 1075.9 L1642.0 1075.9 L1644.0 1075.9 L1646.0 1075.9 L1648.0 1076.0 L1650.0 1076.0 L1652.0 1076.0 L1654.0 1076.0 L1656.0 1075.9 L1658.0 1075.9 L1660.0 1075.9 L1662.0 1075.9 L1664.0 1075.9 L1666.0 1075.9 L1668.0 1075.8 L1670.0 1075.8 L1672.0 1075.7 L1674.0 1075.7 L1676.0 1075.7 L1678.0 1075.6 L1680.0 1075.6 L1682.0 1075.5 L1684.0 1075.4 L1686.0 1075.4 L1688.0 1075.3 L1690.0 1075.3 L1692.0 1075.2 L1694.0 1075.1 L1696.0 1075.0 L1698.0 1075.0 L1700.0 1074.9 L1702.0 1074.8 L1704.0 1074.7 L1706.0 1074.6 L1708.0 1074.5 L1710.0 1074.4 L1712.0 1074.4 L1714.0 1074.3 L1716.0 1074.2 L1718.0 1074.1 L1720.0 1074.0 L1722.0 1073.9 L1724.0 1073.7 L1726.0 1073.6 L1728.0 1073.5 L1730.0 1073.4 L1732.0 1073.3 L1734.0 1073.2 L1736.0 1073.1 L1738.0 1073.0 L1740.0 1072.8 L1742.0 1072.7 L1744.0 1072.6 L1746.0 1072.5 L1748.0 1072.4 L1750.0 1072.2 L1752.0 1072.1 L1754.0 1072.0 L1756.0 1071.9 L1758.0 1071.7 L1760.0 1071.6 L1762.0 1071.5 L1764.0 1071.4" fill="none" stroke="#FF6600" stroke-width="9.5" stroke-linejoin="round" stroke-linecap="butt"/>
<path d="M160.0 832.7 L162.0 832.9 L164.0 833.1 L166.0 833.4 L168.0 833.6 L170.0 833.8 L172.0 834.1 L174.0 834.3 L176.0 834.5 L178.0 834.7 L180.0 834.9 L182.0 835.2 L184.0 835.4 L186.0 835.6 L188.0 835.8 L190.0 836.0 L192.0 836.2 L194.0 836.4 L196.0 836.6 L198.0 836.8 L200.0 837.0 L202.0 837.2 L204.0 837.4 L206.0 837.6 L208.0 837.8 L210.0 838.0 L212.0 838.2 L214.0 838.4 L216.0 838.6 L218.0 838.8 L220.0 839.0 L222.0 839.1 L224.0 839.3 L226.0 839.5 L228.0 839.7 L230.0 839.9 L232.0 840.0 L234.0 840.2 L236.0 840.4 L238.0 840.6 L240.0 840.7 L242.0 840.9 L244.0 841.1 L246.0 841.3 L248.0 841.4 L250.0 841.6 L252.0 841.8 L254.0 841.9 L256.0 842.1 L258.0 842.3 L260.0 842.4 L262.0 842.6 L264.0 842.8 L266.0 842.9 L268.0 843.1 L270.0 843.2 L272.0 843.4 L274.0 843.6 L276.0 843.7 L278.0 843.9 L280.0 844.0 L282.0 844.2 L284.0 844.4 L286.0 844.5 L288.0 844.7 L290.0 844.8 L292.0 845.0 L294.0 845.1 L296.0 845.3 L298.0 845.5 L300.0 845.6 L302.0 845.8 L304.0 845.9 L306.0 846.1 L308.0 846.2 L310.0 846.4 L312.0 846.6 L314.0 846.7 L316.0 846.9 L318.0 847.0 L320.0 847.2 L322.0 847.3 L324.0 847.5 L326.0 847.7 L328.0 847.8 L330.0 848.0 L332.0 848.1 L334.0 848.3 L336.0 848.4 L338.0 848.6 L340.0 848.8 L342.0 848.9 L344.0 849.1 L346.0 849.3 L348.0 849.4 L350.0 849.6 L352.0 849.7 L354.0 849.9 L356.0 850.1 L358.0 850.2 L360.0 850.4 L362.0 850.6 L364.0 850.7 L366.0 850.9 L368.0 851.1 L370.0 851.3 L372.0 851.4 L374.0 851.6 L376.0 851.8 L378.0 851.9 L380.0 852.1 L382.0 852.3 L384.0 852.5 L386.0 852.7 L388.0 852.8 L390.0 853.0 L392.0 853.2 L394.0 853.4 L396.0 853.6 L398.0 853.8 L400.0 854.0 L402.0 854.1 L404.0 854.3 L406.0 854.5 L408.0 854.7 L410.0 854.9 L412.0 855.1 L414.0 855.3 L416.0 855.5 L418.0 855.7 L420.0 855.9 L422.0 856.1 L424.0 856.4 L426.0 856.6 L428.0 856.8 L430.0 857.0 L432.0 857.2 L434.0 857.4 L436.0 857.6 L438.0 857.9 L440.0 858.1 L442.0 858.3 L444.0 858.6 L446.0 858.8 L448.0 859.0 L450.0 859.3 L452.0 859.5 L454.0 859.8 L456.0 860.0 L458.0 860.3 L460.0 860.6 L462.0 860.8 L464.0 861.1 L466.0 861.4 L468.0 861.7 L470.0 862.0 L472.0 862.3 L474.0 862.6 L476.0 862.9 L478.0 863.2 L480.0 863.6 L482.0 863.9 L484.0 864.2 L486.0 864.6 L488.0 864.9 L490.0 865.3 L492.0 865.7 L494.0 866.0 L496.0 866.4 L498.0 866.8 L500.0 867.2 L502.0 867.6 L504.0 868.0 L506.0 868.5 L508.0 868.9 L510.0 869.4 L512.0 869.8 L514.0 870.3 L516.0 870.8 L518.0 871.2 L520.0 871.7 L522.0 872.2 L524.0 872.8 L526.0 873.3 L528.0 873.8 L530.0 874.4 L532.0 874.9 L534.0 875.5 L536.0 876.1 L538.0 876.7 L540.0 877.3 L542.0 877.9 L544.0 878.5 L546.0 879.1 L548.0 879.7 L550.0 880.3 L552.0 880.9 L554.0 881.5 L556.0 882.2 L558.0 882.8 L560.0 883.4 L562.0 884.0 L564.0 884.7 L566.0 885.3 L568.0 885.9 L570.0 886.5 L572.0 887.2 L574.0 887.8 L576.0 888.4 L578.0 889.0 L580.0 889.6 L582.0 890.2 L584.0 890.8 L586.0 891.4 L588.0 892.0 L590.0 892.6 L592.0 893.1 L594.0 893.7 L596.0 894.3 L598.0 894.8 L600.0 895.3 L602.0 895.9 L604.0 896.4 L606.0 896.9 L608.0 897.4 L610.0 897.9 L612.0 898.4 L614.0 898.9 L616.0 899.4 L618.0 899.9 L620.0 900.3 L622.0 900.8 L624.0 901.2 L626.0 901.7 L628.0 902.1 L630.0 902.5 L632.0 903.0 L634.0 903.4 L636.0 903.8 L638.0 904.2 L640.0 904.6 L642.0 905.0 L644.0 905.4 L646.0 905.7 L648.0 906.1 L650.0 906.5 L652.0 906.8 L654.0 907.2 L656.0 907.5 L658.0 907.9 L660.0 908.2 L662.0 908.5 L664.0 908.9 L666.0 909.2 L668.0 909.5 L670.0 909.8 L672.0 910.1 L674.0 910.4 L676.0 910.7 L678.0 910.9 L680.0 911.2 L682.0 911.5 L684.0 911.7 L686.0 912.0 L688.0 912.3 L690.0 912.5 L692.0 912.7 L694.0 913.0 L696.0 913.2 L698.0 913.4 L700.0 913.7 L702.0 913.9 L704.0 914.1 L706.0 914.3 L708.0 914.5 L710.0 914.7 L712.0 914.9 L714.0 915.0 L716.0 915.2 L718.0 915.4 L720.0 915.6 L722.0 915.7 L724.0 915.9 L726.0 916.1 L728.0 916.2 L730.0 916.3 L732.0 916.5 L734.0 916.6 L736.0 916.8 L738.0 916.9 L740.0 917.0 L742.0 917.1 L744.0 917.2 L746.0 917.4 L748.0 917.5 L750.0 917.6 L752.0 917.7 L754.0 917.8 L756.0 917.9 L758.0 917.9 L760.0 918.0 L762.0 918.1 L764.0 918.2 L766.0 918.2 L768.0 918.3 L770.0 918.4 L772.0 918.4 L774.0 918.5 L776.0 918.5 L778.0 918.6 L780.0 918.6 L782.0 918.7 L784.0 918.7 L786.0 918.7 L788.0 918.8 L790.0 918.8 L792.0 918.8 L794.0 918.8 L796.0 918.8 L798.0 918.8 L800.0 918.9 L802.0 918.9 L804.0 918.9 L806.0 918.8 L808.0 918.8 L810.0 918.8 L812.0 918.8 L814.0 918.8 L816.0 918.8 L818.0 918.7 L820.0 918.7 L822.0 918.7 L824.0 918.6 L826.0 918.6 L828.0 918.5 L830.0 918.5 L832.0 918.4 L834.0 918.4 L836.0 918.3 L838.0 918.2 L840.0 918.1 L842.0 918.1 L844.0 918.0 L846.0 917.9 L848.0 917.8 L850.0 917.7 L852.0 917.6 L854.0 917.4 L856.0 917.3 L858.0 917.2 L860.0 917.1 L862.0 916.9 L864.0 916.7 L866.0 916.6 L868.0 916.4 L870.0 916.2 L872.0 916.0 L874.0 915.8 L876.0 915.6 L878.0 915.4 L880.0 915.2 L882.0 914.9 L884.0 914.6 L886.0 914.4 L888.0 914.1 L890.0 913.7 L892.0 913.4 L894.0 913.1 L896.0 912.7 L898.0 912.3 L900.0 911.9 L902.0 911.5 L904.0 911.1 L906.0 910.6 L908.0 910.1 L910.0 909.6 L912.0 909.1 L914.0 908.5 L916.0 907.9 L918.0 907.3 L920.0 906.6 L922.0 906.0 L924.0 905.3 L926.0 904.5 L928.0 903.7 L930.0 902.9 L932.0 902.1 L934.0 901.2 L936.0 900.3 L938.0 899.4 L940.0 898.4 L942.0 897.4 L944.0 896.3 L946.0 895.2 L948.0 894.0 L950.0 892.9 L952.0 891.6 L954.0 890.4 L956.0 889.1 L958.0 887.7 L960.0 886.3 L962.0 884.9 L964.0 883.5 L966.0 881.9 L968.0 880.4 L970.0 878.8 L972.0 877.2 L974.0 875.5 L976.0 873.8 L978.0 872.1 L980.0 870.3 L982.0 868.5 L984.0 866.6 L986.0 864.8 L988.0 862.9 L990.0 860.9 L992.0 859.0 L994.0 857.0 L996.0 855.0 L998.0 853.0 L1000.0 851.0 L1002.0 848.9 L1004.0 846.9 L1006.0 844.8 L1008.0 842.8 L1010.0 840.7 L1012.0 838.7 L1014.0 836.6 L1016.0 834.6 L1018.0 832.6 L1020.0 830.6 L1022.0 828.6 L1024.0 826.7 L1026.0 824.8 L1028.0 823.0 L1030.0 821.2 L1032.0 819.4 L1034.0 817.7 L1036.0 816.1 L1038.0 814.5 L1040.0 813.1 L1042.0 811.7 L1044.0 810.3 L1046.0 809.1 L1048.0 808.0 L1050.0 807.0 L1052.0 806.1 L1054.0 805.2 L1056.0 804.6 L1058.0 804.0 L1060.0 803.5 L1062.0 803.2 L1064.0 803.0 L1066.0 803.0 L1068.0 803.1 L1070.0 803.3 L1072.0 803.6 L1074.0 804.1 L1076.0 804.7 L1078.0 805.5 L1080.0 806.3 L1082.0 807.3 L1084.0 808.5 L1086.0 809.7 L1088.0 811.1 L1090.0 812.6 L1092.0 814.2 L1094.0 815.9 L1096.0 817.7 L1098.0 819.6 L1100.0 821.6 L1102.0 823.6 L1104.0 825.8 L1106.0 828.0 L1108.0 830.2 L1110.0 832.6 L1112.0 835.0 L1114.0 837.4 L1116.0 839.9 L1118.0 842.4 L1120.0 844.9 L1122.0 847.5 L1124.0 850.1 L1126.0 852.7 L1128.0 855.3 L1130.0 858.0 L1132.0 860.6 L1134.0 863.3 L1136.0 865.9 L1138.0 868.5 L1140.0 871.2 L1142.0 873.8 L1144.0 876.4 L1146.0 878.9 L1148.0 881.5 L1150.0 884.0 L1152.0 886.5 L1154.0 889.0 L1156.0 891.5 L1158.0 893.9 L1160.0 896.3 L1162.0 898.6 L1164.0 901.0 L1166.0 903.2 L1168.0 905.5 L1170.0 907.7 L1172.0 909.8 L1174.0 911.9 L1176.0 914.0 L1178.0 916.1 L1180.0 918.0 L1182.0 920.0 L1184.0 921.9 L1186.0 923.8 L1188.0 925.6 L1190.0 927.4 L1192.0 929.1 L1194.0 930.8 L1196.0 932.5 L1198.0 934.1 L1200.0 935.6 L1202.0 937.2 L1204.0 938.7 L1206.0 940.2 L1208.0 941.6 L1210.0 943.0 L1212.0 944.3 L1214.0 945.7 L1216.0 947.0 L1218.0 948.2 L1220.0 949.5 L1222.0 950.7 L1224.0 951.8 L1226.0 953.0 L1228.0 954.1 L1230.0 955.2 L1232.0 956.3 L1234.0 957.4 L1236.0 958.4 L1238.0 959.4 L1240.0 960.4 L1242.0 961.4 L1244.0 962.4 L1246.0 963.4 L1248.0 964.3 L1250.0 965.2 L1252.0 966.2 L1254.0 967.1 L1256.0 968.0 L1258.0 968.9 L1260.0 969.8 L1262.0 970.7 L1264.0 971.5 L1266.0 972.4 L1268.0 973.3 L1270.0 974.2 L1272.0 975.0 L1274.0 975.9 L1276.0 976.8 L1278.0 977.6 L1280.0 978.5 L1282.0 979.4 L1284.0 980.2 L1286.0 981.1 L1288.0 982.0 L1290.0 982.8 L1292.0 983.7 L1294.0 984.6 L1296.0 985.5 L1298.0 986.3 L1300.0 987.2 L1302.0 988.1 L1304.0 989.0 L1306.0 989.8 L1308.0 990.7 L1310.0 991.6 L1312.0 992.5 L1314.0 993.4 L1316.0 994.3 L1318.0 995.2 L1320.0 996.1 L1322.0 996.9 L1324.0 997.8 L1326.0 998.7 L1328.0 999.6 L1330.0 1000.5 L1332.0 1001.4 L1334.0 1002.3 L1336.0 1003.2 L1338.0 1004.1 L1340.0 1005.0 L1342.0 1005.9 L1344.0 1006.8 L1346.0 1007.7 L1348.0 1008.6 L1350.0 1009.5 L1352.0 1010.4 L1354.0 1011.3 L1356.0 1012.2 L1358.0 1013.1 L1360.0 1014.0 L1362.0 1014.9 L1364.0 1015.7 L1366.0 1016.6 L1368.0 1017.5 L1370.0 1018.4 L1372.0 1019.3 L1374.0 1020.1 L1376.0 1021.0 L1378.0 1021.9 L1380.0 1022.7 L1382.0 1023.6 L1384.0 1024.4 L1386.0 1025.3 L1388.0 1026.1 L1390.0 1027.0 L1392.0 1027.8 L1394.0 1028.6 L1396.0 1029.4 L1398.0 1030.2 L1400.0 1031.1 L1402.0 1031.9 L1404.0 1032.7 L1406.0 1033.4 L1408.0 1034.2 L1410.0 1035.0 L1412.0 1035.8 L1414.0 1036.5 L1416.0 1037.3 L1418.0 1038.0 L1420.0 1038.8 L1422.0 1039.5 L1424.0 1040.2 L1426.0 1040.9 L1428.0 1041.6 L1430.0 1042.3 L1432.0 1043.0 L1434.0 1043.7 L1436.0 1044.4 L1438.0 1045.0 L1440.0 1045.7 L1442.0 1046.3 L1444.0 1047.0 L1446.0 1047.6 L1448.0 1048.3 L1450.0 1048.9 L1452.0 1049.5 L1454.0 1050.1 L1456.0 1050.7 L1458.0 1051.3 L1460.0 1051.9 L1462.0 1052.5 L1464.0 1053.0 L1466.0 1053.6 L1468.0 1054.2 L1470.0 1054.7 L1472.0 1055.3 L1474.0 1055.8 L1476.0 1056.3 L1478.0 1056.8 L1480.0 1057.3 L1482.0 1057.9 L1484.0 1058.4 L1486.0 1058.8 L1488.0 1059.3 L1490.0 1059.8 L1492.0 1060.3 L1494.0 1060.7 L1496.0 1061.2 L1498.0 1061.6 L1500.0 1062.1 L1502.0 1062.5 L1504.0 1063.0 L1506.0 1063.4 L1508.0 1063.8 L1510.0 1064.2 L1512.0 1064.6 L1514.0 1065.0 L1516.0 1065.4 L1518.0 1065.8 L1520.0 1066.1 L1522.0 1066.5 L1524.0 1066.9 L1526.0 1067.2 L1528.0 1067.5 L1530.0 1067.9 L1532.0 1068.2 L1534.0 1068.5 L1536.0 1068.9 L1538.0 1069.2 L1540.0 1069.5 L1542.0 1069.8 L1544.0 1070.1 L1546.0 1070.3 L1548.0 1070.6 L1550.0 1070.9 L1552.0 1071.1 L1554.0 1071.4 L1556.0 1071.6 L1558.0 1071.9 L1560.0 1072.1 L1562.0 1072.4 L1564.0 1072.6 L1566.0 1072.8 L1568.0 1073.0 L1570.0 1073.2 L1572.0 1073.4 L1574.0 1073.6 L1576.0 1073.8 L1578.0 1073.9 L1580.0 1074.1 L1582.0 1074.3 L1584.0 1074.4 L1586.0 1074.6 L1588.0 1074.7 L1590.0 1074.9 L1592.0 1075.0 L1594.0 1075.1 L1596.0 1075.3 L1598.0 1075.4 L1600.0 1075.5 L1602.0 1075.6 L1604.0 1075.7 L1606.0 1075.8 L1608.0 1075.9 L1610.0 1076.0 L1612.0 1076.0 L1614.0 1076.1 L1616.0 1076.2 L1618.0 1076.2 L1620.0 1076.3 L1622.0 1076.4 L1624.0 1076.4 L1626.0 1076.5 L1628.0 1076.5 L1630.0 1076.5 L1632.0 1076.6 L1634.0 1076.6 L1636.0 1076.6 L1638.0 1076.6 L1640.0 1076.6 L1642.0 1076.6 L1644.0 1076.7 L1646.0 1076.7 L1648.0 1076.6 L1650.0 1076.6 L1652.0 1076.6 L1654.0 1076.6 L1656.0 1076.6 L1658.0 1076.6 L1660.0 1076.5 L1662.0 1076.5 L1664.0 1076.5 L1666.0 1076.4 L1668.0 1076.4 L1670.0 1076.4 L1672.0 1076.3 L1674.0 1076.3 L1676.0 1076.2 L1678.0 1076.1 L1680.0 1076.1 L1682.0 1076.0 L1684.0 1076.0 L1686.0 1075.9 L1688.0 1075.8 L1690.0 1075.7 L1692.0 1075.7 L1694.0 1075.6 L1696.0 1075.5 L1698.0 1075.4 L1700.0 1075.3 L1702.0 1075.2 L1704.0 1075.1 L1706.0 1075.1 L1708.0 1075.0 L1710.0 1074.9 L1712.0 1074.8 L1714.0 1074.7 L1716.0 1074.5 L1718.0 1074.4 L1720.0 1074.3 L1722.0 1074.2 L1724.0 1074.1 L1726.0 1074.0 L1728.0 1073.9 L1730.0 1073.8 L1732.0 1073.6 L1734.0 1073.5 L1736.0 1073.4 L1738.0 1073.3 L1740.0 1073.2 L1742.0 1073.0 L1744.0 1072.9 L1746.0 1072.8 L1748.0 1072.7 L1750.0 1072.5 L1752.0 1072.4 L1754.0 1072.3 L1756.0 1072.1 L1758.0 1072.0 L1760.0 1071.9 L1762.0 1071.8 L1764.0 1071.6" fill="none" stroke="#6699CC" stroke-width="9.5" stroke-linejoin="round" stroke-linecap="butt"/>
<path d="M160.0 832.9 L162.0 833.2 L164.0 833.4 L166.0 833.6 L168.0 833.9 L170.0 834.1 L172.0 834.3 L174.0 834.5 L176.0 834.8 L178.0 835.0 L180.0 835.2 L182.0 835.4 L184.0 835.6 L186.0 835.9 L188.0 836.1 L190.0 836.3 L192.0 836.5 L194.0 836.7 L196.0 836.9 L198.0 837.1 L200.0 837.3 L202.0 837.5 L204.0 837.7 L206.0 837.9 L208.0 838.1 L210.0 838.3 L212.0 838.5 L214.0 838.7 L216.0 838.9 L218.0 839.1 L220.0 839.3 L222.0 839.4 L224.0 839.6 L226.0 839.8 L228.0 840.0 L230.0 840.2 L232.0 840.3 L234.0 840.5 L236.0 840.7 L238.0 840.9 L240.0 841.1 L242.0 841.2 L244.0 841.4 L246.0 841.6 L248.0 841.7 L250.0 841.9 L252.0 842.1 L254.0 842.3 L256.0 842.4 L258.0 842.6 L260.0 842.8 L262.0 842.9 L264.0 843.1 L266.0 843.3 L268.0 843.4 L270.0 843.6 L272.0 843.7 L274.0 843.9 L276.0 844.1 L278.0 844.2 L280.0 844.4 L282.0 844.6 L284.0 844.7 L286.0 844.9 L288.0 845.0 L290.0 845.2 L292.0 845.4 L294.0 845.5 L296.0 845.7 L298.0 845.8 L300.0 846.0 L302.0 846.1 L304.0 846.3 L306.0 846.5 L308.0 846.6 L310.0 846.8 L312.0 846.9 L314.0 847.1 L316.0 847.3 L318.0 847.4 L320.0 847.6 L322.0 847.7 L324.0 847.9 L326.0 848.1 L328.0 848.2 L330.0 848.4 L332.0 848.5 L334.0 848.7 L336.0 848.9 L338.0 849.0 L340.0 849.2 L342.0 849.3 L344.0 849.5 L346.0 849.7 L348.0 849.8 L350.0 850.0 L352.0 850.2 L354.0 850.3 L356.0 850.5 L358.0 850.7 L360.0 850.8 L362.0 851.0 L364.0 851.2 L366.0 851.4 L368.0 851.5 L370.0 851.7 L372.0 851.9 L374.0 852.1 L376.0 852.2 L378.0 852.4 L380.0 852.6 L382.0 852.8 L384.0 853.0 L386.0 853.1 L388.0 853.3 L390.0 853.5 L392.0 853.7 L394.0 853.9 L396.0 854.1 L398.0 854.3 L400.0 854.5 L402.0 854.6 L404.0 854.8 L406.0 855.0 L408.0 855.2 L410.0 855.4 L412.0 855.6 L414.0 855.8 L416.0 856.0 L418.0 856.3 L420.0 856.5 L422.0 856.7 L424.0 856.9 L426.0 857.1 L428.0 857.3 L430.0 857.5 L432.0 857.8 L434.0 858.0 L436.0 858.2 L438.0 858.4 L440.0 858.7 L442.0 858.9 L444.0 859.1 L446.0 859.4 L448.0 859.6 L450.0 859.9 L452.0 860.1 L454.0 860.4 L456.0 860.6 L458.0 860.9 L460.0 861.2 L462.0 861.5 L464.0 861.7 L466.0 862.0 L468.0 862.3 L470.0 862.6 L472.0 862.9 L474.0 863.2 L476.0 863.5 L478.0 863.9 L480.0 864.2 L482.0 864.5 L484.0 864.9 L486.0 865.2 L488.0 865.6 L490.0 866.0 L492.0 866.3 L494.0 866.7 L496.0 867.1 L498.0 867.5 L500.0 867.9 L502.0 868.3 L504.0 868.8 L506.0 869.2 L508.0 869.6 L510.0 870.1 L512.0 870.5 L514.0 871.0 L516.0 871.5 L518.0 872.0 L520.0 872.5 L522.0 873.0 L524.0 873.5 L526.0 874.1 L528.0 874.6 L530.0 875.2 L532.0 875.7 L534.0 876.3 L536.0 876.9 L538.0 877.5 L540.0 878.1 L542.0 878.7 L544.0 879.3 L546.0 879.9 L548.0 880.5 L550.0 881.1 L552.0 881.8 L554.0 882.4 L556.0 883.0 L558.0 883.7 L560.0 884.3 L562.0 884.9 L564.0 885.6 L566.0 886.2 L568.0 886.8 L570.0 887.5 L572.0 888.1 L574.0 888.7 L576.0 889.3 L578.0 890.0 L580.0 890.6 L582.0 891.2 L584.0 891.8 L586.0 892.4 L588.0 893.0 L590.0 893.6 L592.0 894.2 L594.0 894.7 L596.0 895.3 L598.0 895.8 L600.0 896.4 L602.0 896.9 L604.0 897.5 L606.0 898.0 L608.0 898.5 L610.0 899.0 L612.0 899.5 L614.0 900.0 L616.0 900.5 L618.0 901.0 L620.0 901.5 L622.0 901.9 L624.0 902.4 L626.0 902.9 L628.0 903.3 L630.0 903.7 L632.0 904.2 L634.0 904.6 L636.0 905.0 L638.0 905.4 L640.0 905.9 L642.0 906.3 L644.0 906.7 L646.0 907.0 L648.0 907.4 L650.0 907.8 L652.0 908.2 L654.0 908.5 L656.0 908.9 L658.0 909.3 L660.0 909.6 L662.0 909.9 L664.0 910.3 L666.0 910.6 L668.0 910.9 L670.0 911.3 L672.0 911.6 L674.0 911.9 L676.0 912.2 L678.0 912.5 L680.0 912.8 L682.0 913.0 L684.0 913.3 L686.0 913.6 L688.0 913.9 L690.0 914.1 L692.0 914.4 L694.0 914.6 L696.0 914.9 L698.0 915.1 L700.0 915.4 L702.0 915.6 L704.0 915.8 L706.0 916.1 L708.0 916.3 L710.0 916.5 L712.0 916.7 L714.0 916.9 L716.0 917.1 L718.0 917.3 L720.0 917.5 L722.0 917.7 L724.0 917.9 L726.0 918.1 L728.0 918.2 L730.0 918.4 L732.0 918.6 L734.0 918.7 L736.0 918.9 L738.0 919.0 L740.0 919.2 L742.0 919.3 L744.0 919.5 L746.0 919.6 L748.0 919.8 L750.0 919.9 L752.0 920.0 L754.0 920.1 L756.0 920.3 L758.0 920.4 L760.0 920.5 L762.0 920.6 L764.0 920.7 L766.0 920.8 L768.0 920.9 L770.0 921.0 L772.0 921.1 L774.0 921.2 L776.0 921.3 L778.0 921.4 L780.0 921.4 L782.0 921.5 L784.0 921.6 L786.0 921.7 L788.0 921.8 L790.0 921.8 L792.0 921.9 L794.0 921.9 L796.0 922.0 L798.0 922.1 L800.0 922.1 L802.0 922.2 L804.0 922.2 L806.0 922.3 L808.0 922.3 L810.0 922.4 L812.0 922.4 L814.0 922.4 L816.0 922.5 L818.0 922.5 L820.0 922.6 L822.0 922.6 L824.0 922.6 L826.0 922.7 L828.0 922.7 L830.0 922.7 L832.0 922.7 L834.0 922.8 L836.0 922.8 L838.0 922.8 L840.0 922.8 L842.0 922.9 L844.0 922.9 L846.0 922.9 L848.0 922.9 L850.0 922.9 L852.0 923.0 L854.0 923.0 L856.0 923.0 L858.0 923.0 L860.0 923.0 L862.0 923.1 L864.0 923.1 L866.0 923.1 L868.0 923.1 L870.0 923.1 L872.0 923.2 L874.0 923.2 L876.0 923.2 L878.0 923.2 L880.0 923.2 L882.0 923.3 L884.0 923.3 L886.0 923.3 L888.0 923.3 L890.0 923.4 L892.0 923.4 L894.0 923.4 L896.0 923.5 L898.0 923.5 L900.0 923.5 L902.0 923.6 L904.0 923.6 L906.0 923.6 L908.0 923.7 L910.0 923.7 L912.0 923.8 L914.0 923.8 L916.0 923.8 L918.0 923.9 L920.0 924.0 L922.0 924.0 L924.0 924.1 L926.0 924.1 L928.0 924.2 L930.0 924.3 L932.0 924.3 L934.0 924.4 L936.0 924.5 L938.0 924.5 L940.0 924.6 L942.0 924.7 L944.0 924.8 L946.0 924.9 L948.0 925.0 L950.0 925.1 L952.0 925.2 L954.0 925.3 L956.0 925.4 L958.0 925.5 L960.0 925.6 L962.0 925.7 L964.0 925.8 L966.0 926.0 L968.0 926.1 L970.0 926.2 L972.0 926.4 L974.0 926.5 L976.0 926.7 L978.0 926.8 L980.0 927.0 L982.0 927.1 L984.0 927.3 L986.0 927.5 L988.0 927.7 L990.0 927.8 L992.0 928.0 L994.0 928.2 L996.0 928.4 L998.0 928.6 L1000.0 928.8 L1002.0 929.0 L1004.0 929.2 L1006.0 929.5 L1008.0 929.7 L1010.0 929.9 L1012.0 930.2 L1014.0 930.4 L1016.0 930.7 L1018.0 930.9 L1020.0 931.2 L1022.0 931.5 L1024.0 931.8 L1026.0 932.0 L1028.0 932.3 L1030.0 932.6 L1032.0 932.9 L1034.0 933.2 L1036.0 933.6 L1038.0 933.9 L1040.0 934.2 L1042.0 934.6 L1044.0 934.9 L1046.0 935.3 L1048.0 935.6 L1050.0 936.0 L1052.0 936.4 L1054.0 936.7 L1056.0 937.1 L1058.0 937.5 L1060.0 937.9 L1062.0 938.3 L1064.0 938.7 L1066.0 939.1 L1068.0 939.5 L1070.0 939.9 L1072.0 940.3 L1074.0 940.7 L1076.0 941.1 L1078.0 941.5 L1080.0 941.9 L1082.0 942.3 L1084.0 942.7 L1086.0 943.1 L1088.0 943.5 L1090.0 944.0 L1092.0 944.4 L1094.0 944.7 L1096.0 945.1 L1098.0 945.5 L1100.0 945.9 L1102.0 946.3 L1104.0 946.7 L1106.0 947.1 L1108.0 947.4 L1110.0 947.8 L1112.0 948.2 L1114.0 948.5 L1116.0 948.9 L1118.0 949.2 L1120.0 949.6 L1122.0 949.9 L1124.0 950.2 L1126.0 950.6 L1128.0 950.9 L1130.0 951.2 L1132.0 951.6 L1134.0 951.9 L1136.0 952.2 L1138.0 952.5 L1140.0 952.8 L1142.0 953.1 L1144.0 953.5 L1146.0 953.8 L1148.0 954.1 L1150.0 954.4 L1152.0 954.7 L1154.0 955.0 L1156.0 955.3 L1158.0 955.6 L1160.0 955.9 L1162.0 956.2 L1164.0 956.5 L1166.0 956.8 L1168.0 957.2 L1170.0 957.5 L1172.0 957.8 L1174.0 958.1 L1176.0 958.4 L1178.0 958.7 L1180.0 959.0 L1182.0 959.3 L1184.0 959.6 L1186.0 959.9 L1188.0 960.2 L1190.0 960.6 L1192.0 960.9 L1194.0 961.2 L1196.0 961.5 L1198.0 961.8 L1200.0 962.1 L1202.0 962.5 L1204.0 962.8 L1206.0 963.1 L1208.0 963.4 L1210.0 963.8 L1212.0 964.1 L1214.0 964.4 L1216.0 964.8 L1218.0 965.1 L1220.0 965.4 L1222.0 965.7 L1224.0 966.1 L1226.0 966.4 L1228.0 966.7 L1230.0 967.1 L1232.0 967.4 L1234.0 967.7 L1236.0 968.0 L1238.0 968.3 L1240.0 968.6 L1242.0 968.9 L1244.0 969.2 L1246.0 969.5 L1248.0 969.8 L1250.0 970.1 L1252.0 970.3 L1254.0 970.6 L1256.0 970.8 L1258.0 971.1 L1260.0 971.3 L1262.0 971.5 L1264.0 971.7 L1266.0 971.8 L1268.0 972.0 L1270.0 972.1 L1272.0 972.2 L1274.0 972.3 L1276.0 972.3 L1278.0 972.4 L1280.0 972.3 L1282.0 972.3 L1284.0 972.2 L1286.0 972.1 L1288.0 971.9 L1290.0 971.7 L1292.0 971.5 L1294.0 971.2 L1296.0 970.8 L1298.0 970.4 L1300.0 970.0 L1302.0 969.5 L1304.0 968.9 L1306.0 968.2 L1308.0 967.5 L1310.0 966.8 L1312.0 965.9 L1314.0 965.0 L1316.0 964.0 L1318.0 963.0 L1320.0 961.8 L1322.0 960.6 L1324.0 959.3 L1326.0 958.0 L1328.0 956.5 L1330.0 954.9 L1332.0 953.3 L1334.0 951.6 L1336.0 949.8 L1338.0 947.9 L1340.0 945.9 L1342.0 943.9 L1344.0 941.8 L1346.0 939.5 L1348.0 937.2 L1350.0 934.8 L1352.0 932.4 L1354.0 929.9 L1356.0 927.2 L1358.0 924.6 L1360.0 921.8 L1362.0 919.0 L1364.0 916.1 L1366.0 913.2 L1368.0 910.2 L1370.0 907.2 L1372.0 904.1 L1374.0 901.0 L1376.0 897.9 L1378.0 894.8 L1380.0 891.6 L1382.0 888.4 L1384.0 885.3 L1386.0 882.1 L1388.0 878.9 L1390.0 875.8 L1392.0 872.7 L1394.0 869.6 L1396.0 866.6 L1398.0 863.6 L1400.0 860.7 L1402.0 857.8 L1404.0 855.1 L1406.0 852.4 L1408.0 849.8 L1410.0 847.4 L1412.0 845.0 L1414.0 842.8 L1416.0 840.7 L1418.0 838.7 L1420.0 837.0 L1422.0 835.3 L1424.0 833.8 L1426.0 832.5 L1428.0 831.4 L1430.0 830.5 L1432.0 829.8 L1434.0 829.2 L1436.0 828.9 L1438.0 828.8 L1440.0 828.8 L1442.0 829.1 L1444.0 829.6 L1446.0 830.4 L1448.0 831.3 L1450.0 832.4 L1452.0 833.8 L1454.0 835.3 L1456.0 837.1 L1458.0 839.1 L1460.0 841.2 L1462.0 843.6 L1464.0 846.1 L1466.0 848.8 L1468.0 851.6 L1470.0 854.7 L1472.0 857.8 L1474.0 861.2 L1476.0 864.6 L1478.0 868.2 L1480.0 871.9 L1482.0 875.7 L1484.0 879.6 L1486.0 883.6 L1488.0 887.7 L1490.0 891.8 L1492.0 896.1 L1494.0 900.3 L1496.0 904.6 L1498.0 909.0 L1500.0 913.3 L1502.0 917.7 L1504.0 922.1 L1506.0 926.5 L1508.0 930.9 L1510.0 935.3 L1512.0 939.7 L1514.0 944.0 L1516.0 948.3 L1518.0 952.6 L1520.0 956.8 L1522.0 961.0 L1524.0 965.1 L1526.0 969.2 L1528.0 973.2 L1530.0 977.1 L1532.0 980.9 L1534.0 984.7 L1536.0 988.4 L1538.0 992.0 L1540.0 995.5 L1542.0 999.0 L1544.0 1002.3 L1546.0 1005.6 L1548.0 1008.8 L1550.0 1011.8 L1552.0 1014.8 L1554.0 1017.7 L1556.0 1020.5 L1558.0 1023.2 L1560.0 1025.8 L1562.0 1028.3 L1564.0 1030.8 L1566.0 1033.1 L1568.0 1035.3 L1570.0 1037.5 L1572.0 1039.5 L1574.0 1041.5 L1576.0 1043.4 L1578.0 1045.2 L1580.0 1046.9 L1582.0 1048.6 L1584.0 1050.2 L1586.0 1051.7 L1588.0 1053.1 L1590.0 1054.4 L1592.0 1055.7 L1594.0 1056.9 L1596.0 1058.1 L1598.0 1059.2 L1600.0 1060.2 L1602.0 1061.2 L1604.0 1062.1 L1606.0 1063.0 L1608.0 1063.8 L1610.0 1064.6 L1612.0 1065.3 L1614.0 1066.0 L1616.0 1066.6 L1618.0 1067.2 L1620.0 1067.8 L1622.0 1068.3 L1624.0 1068.8 L1626.0 1069.3 L1628.0 1069.7 L1630.0 1070.1 L1632.0 1070.5 L1634.0 1070.8 L1636.0 1071.1 L1638.0 1071.4 L1640.0 1071.7 L1642.0 1071.9 L1644.0 1072.2 L1646.0 1072.4 L1648.0 1072.6 L1650.0 1072.7 L1652.0 1072.9 L1654.0 1073.0 L1656.0 1073.2 L1658.0 1073.3 L1660.0 1073.4 L1662.0 1073.5 L1664.0 1073.6 L1666.0 1073.6 L1668.0 1073.7 L1670.0 1073.7 L1672.0 1073.8 L1674.0 1073.8 L1676.0 1073.8 L1678.0 1073.8 L1680.0 1073.8 L1682.0 1073.9 L1684.0 1073.8 L1686.0 1073.8 L1688.0 1073.8 L1690.0 1073.8 L1692.0 1073.8 L1694.0 1073.7 L1696.0 1073.7 L1698.0 1073.7 L1700.0 1073.6 L1702.0 1073.6 L1704.0 1073.5 L1706.0 1073.4 L1708.0 1073.4 L1710.0 1073.3 L1712.0 1073.2 L1714.0 1073.2 L1716.0 1073.1 L1718.0 1073.0 L1720.0 1072.9 L1722.0 1072.8 L1724.0 1072.8 L1726.0 1072.7 L1728.0 1072.6 L1730.0 1072.5 L1732.0 1072.4 L1734.0 1072.3 L1736.0 1072.2 L1738.0 1072.1 L1740.0 1072.0 L1742.0 1071.9 L1744.0 1071.8 L1746.0 1071.7 L1748.0 1071.6 L1750.0 1071.5 L1752.0 1071.4 L1754.0 1071.2 L1756.0 1071.1 L1758.0 1071.0 L1760.0 1070.9 L1762.0 1070.8 L1764.0 1070.7" fill="none" stroke="#505050" stroke-width="9.5" stroke-linejoin="round" stroke-linecap="butt"/>
<path d="M160.0 821.9 L162.0 821.7 L164.0 821.5 L166.0 821.2 L168.0 820.9 L170.0 820.6 L172.0 820.3 L174.0 820.0 L176.0 819.6 L178.0 819.2 L180.0 818.8 L182.0 818.4 L184.0 818.0 L186.0 817.5 L188.0 817.1 L190.0 816.6 L192.0 816.1 L194.0 815.6 L196.0 815.1 L198.0 814.6 L200.0 814.0 L202.0 813.5 L204.0 812.9 L206.0 812.4 L208.0 811.8 L210.0 811.2 L212.0 810.6 L214.0 810.1 L216.0 809.5 L218.0 808.9 L220.0 808.4 L222.0 807.8 L224.0 807.3 L226.0 806.7 L228.0 806.2 L230.0 805.7 L232.0 805.2 L234.0 804.8 L236.0 804.3 L238.0 803.9 L240.0 803.6 L242.0 803.2 L244.0 802.9 L246.0 802.7 L248.0 802.5 L250.0 802.3 L252.0 802.2 L254.0 802.1 L256.0 802.1 L258.0 802.1 L260.0 802.2 L262.0 802.3 L264.0 802.5 L266.0 802.7 L268.0 803.0 L270.0 803.3 L272.0 803.7 L274.0 804.2 L276.0 804.7 L278.0 805.2 L280.0 805.8 L282.0 806.4 L284.0 807.0 L286.0 807.7 L288.0 808.5 L290.0 809.2 L292.0 810.0 L294.0 810.8 L296.0 811.6 L298.0 812.5 L300.0 813.4 L302.0 814.3 L304.0 815.2 L306.0 816.1 L308.0 817.0 L310.0 817.9 L312.0 818.8 L314.0 819.7 L316.0 820.7 L318.0 821.6 L320.0 822.5 L322.0 823.4 L324.0 824.4 L326.0 825.3 L328.0 826.2 L330.0 827.0 L332.0 827.9 L334.0 828.8 L336.0 829.6 L338.0 830.5 L340.0 831.3 L342.0 832.1 L344.0 832.9 L346.0 833.7 L348.0 834.5 L350.0 835.2 L352.0 836.0 L354.0 836.7 L356.0 837.4 L358.0 838.1 L360.0 838.8 L362.0 839.4 L364.0 840.1 L366.0 840.7 L368.0 841.3 L370.0 841.9 L372.0 842.5 L374.0 843.1 L376.0 843.6 L378.0 844.2 L380.0 844.7 L382.0 845.2 L384.0 845.7 L386.0 846.2 L388.0 846.7 L390.0 847.1 L392.0 847.6 L394.0 848.0 L396.0 848.5 L398.0 848.9 L400.0 849.3 L402.0 849.7 L404.0 850.1 L406.0 850.5 L408.0 850.8 L410.0 851.2 L412.0 851.6 L414.0 851.9 L416.0 852.3 L418.0 852.6 L420.0 853.0 L422.0 853.3 L424.0 853.6 L426.0 854.0 L428.0 854.3 L430.0 854.6 L432.0 854.9 L434.0 855.2 L436.0 855.5 L438.0 855.9 L440.0 856.2 L442.0 856.5 L444.0 856.8 L446.0 857.1 L448.0 857.4 L450.0 857.7 L452.0 858.0 L454.0 858.3 L456.0 858.6 L458.0 859.0 L460.0 859.3 L462.0 859.6 L464.0 859.9 L466.0 860.3 L468.0 860.6 L470.0 860.9 L472.0 861.3 L474.0 861.6 L476.0 862.0 L478.0 862.3 L480.0 862.7 L482.0 863.1 L484.0 863.4 L486.0 863.8 L488.0 864.2 L490.0 864.6 L492.0 865.0 L494.0 865.4 L496.0 865.8 L498.0 866.3 L500.0 866.7 L502.0 867.1 L504.0 867.6 L506.0 868.0 L508.0 868.5 L510.0 869.0 L512.0 869.5 L514.0 869.9 L516.0 870.4 L518.0 871.0 L520.0 871.5 L522.0 872.0 L524.0 872.6 L526.0 873.1 L528.0 873.7 L530.0 874.2 L532.0 874.8 L534.0 875.4 L536.0 876.0 L538.0 876.6 L540.0 877.2 L542.0 877.8 L544.0 878.5 L546.0 879.1 L548.0 879.7 L550.0 880.4 L552.0 881.0 L554.0 881.6 L556.0 882.3 L558.0 882.9 L560.0 883.6 L562.0 884.2 L564.0 884.9 L566.0 885.5 L568.0 886.2 L570.0 886.8 L572.0 887.5 L574.0 888.1 L576.0 888.7 L578.0 889.4 L580.0 890.0 L582.0 890.6 L584.0 891.2 L586.0 891.8 L588.0 892.4 L590.0 893.0 L592.0 893.6 L594.0 894.2 L596.0 894.8 L598.0 895.4 L600.0 895.9 L602.0 896.5 L604.0 897.0 L606.0 897.5 L608.0 898.1 L610.0 898.6 L612.0 899.1 L614.0 899.6 L616.0 900.1 L618.0 900.6 L620.0 901.1 L622.0 901.6 L624.0 902.0 L626.0 902.5 L628.0 902.9 L630.0 903.4 L632.0 903.8 L634.0 904.3 L636.0 904.7 L638.0 905.1 L640.0 905.5 L642.0 906.0 L644.0 906.4 L646.0 906.8 L648.0 907.1 L650.0 907.5 L652.0 907.9 L654.0 908.3 L656.0 908.6 L658.0 909.0 L660.0 909.4 L662.0 909.7 L664.0 910.0 L666.0 910.4 L668.0 910.7 L670.0 911.0 L672.0 911.4 L674.0 911.7 L676.0 912.0 L678.0 912.3 L680.0 912.6 L682.0 912.9 L684.0 913.2 L686.0 913.4 L688.0 913.7 L690.0 914.0 L692.0 914.2 L694.0 914.5 L696.0 914.8 L698.0 915.0 L700.0 915.3 L702.0 915.5 L704.0 915.7 L706.0 916.0 L708.0 916.2 L710.0 916.4 L712.0 916.6 L714.0 916.8 L716.0 917.0 L718.0 917.2 L720.0 917.4 L722.0 917.6 L724.0 917.8 L726.0 918.0 L728.0 918.2 L730.0 918.4 L732.0 918.5 L734.0 918.7 L736.0 918.9 L738.0 919.0 L740.0 919.2 L742.0 919.3 L744.0 919.5 L746.0 919.6 L748.0 919.8 L750.0 919.9 L752.0 920.0 L754.0 920.2 L756.0 920.3 L758.0 920.4 L760.0 920.5 L762.0 920.6 L764.0 920.7 L766.0 920.9 L768.0 921.0 L770.0 921.1 L772.0 921.2 L774.0 921.3 L776.0 921.3 L778.0 921.4 L780.0 921.5 L782.0 921.6 L784.0 921.7 L786.0 921.8 L788.0 921.8 L790.0 921.9 L792.0 922.0 L794.0 922.1 L796.0 922.1 L798.0 922.2 L800.0 922.2 L802.0 922.3 L804.0 922.4 L806.0 922.4 L808.0 922.5 L810.0 922.5 L812.0 922.6 L814.0 922.6 L816.0 922.6 L818.0 922.7 L820.0 922.7 L822.0 922.8 L824.0 922.8 L826.0 922.8 L828.0 922.9 L830.0 922.9 L832.0 922.9 L834.0 923.0 L836.0 923.0 L838.0 923.0 L840.0 923.1 L842.0 923.1 L844.0 923.1 L846.0 923.1 L848.0 923.2 L850.0 923.2 L852.0 923.2 L854.0 923.2 L856.0 923.3 L858.0 923.3 L860.0 923.3 L862.0 923.3 L864.0 923.4 L866.0 923.4 L868.0 923.4 L870.0 923.4 L872.0 923.5 L874.0 923.5 L876.0 923.5 L878.0 923.5 L880.0 923.6 L882.0 923.6 L884.0 923.6 L886.0 923.6 L888.0 923.7 L890.0 923.7 L892.0 923.7 L894.0 923.8 L896.0 923.8 L898.0 923.8 L900.0 923.9 L902.0 923.9 L904.0 924.0 L906.0 924.0 L908.0 924.1 L910.0 924.1 L912.0 924.2 L914.0 924.2 L916.0 924.3 L918.0 924.3 L920.0 924.4 L922.0 924.4 L924.0 924.5 L926.0 924.6 L928.0 924.6 L930.0 924.7 L932.0 924.8 L934.0 924.9 L936.0 924.9 L938.0 925.0 L940.0 925.1 L942.0 925.2 L944.0 925.3 L946.0 925.4 L948.0 925.5 L950.0 925.6 L952.0 925.7 L954.0 925.8 L956.0 925.9 L958.0 926.0 L960.0 926.1 L962.0 926.3 L964.0 926.4 L966.0 926.5 L968.0 926.7 L970.0 926.8 L972.0 927.0 L974.0 927.1 L976.0 927.3 L978.0 927.4 L980.0 927.6 L982.0 927.8 L984.0 927.9 L986.0 928.1 L988.0 928.3 L990.0 928.5 L992.0 928.7 L994.0 928.9 L996.0 929.1 L998.0 929.3 L1000.0 929.5 L1002.0 929.7 L1004.0 930.0 L1006.0 930.2 L1008.0 930.4 L1010.0 930.7 L1012.0 930.9 L1014.0 931.2 L1016.0 931.4 L1018.0 931.7 L1020.0 932.0 L1022.0 932.3 L1024.0 932.6 L1026.0 932.9 L1028.0 933.2 L1030.0 933.5 L1032.0 933.8 L1034.0 934.1 L1036.0 934.4 L1038.0 934.8 L1040.0 935.1 L1042.0 935.5 L1044.0 935.8 L1046.0 936.2 L1048.0 936.5 L1050.0 936.9 L1052.0 937.3 L1054.0 937.7 L1056.0 938.1 L1058.0 938.5 L1060.0 938.9 L1062.0 939.3 L1064.0 939.7 L1066.0 940.1 L1068.0 940.5 L1070.0 940.9 L1072.0 941.4 L1074.0 941.8 L1076.0 942.2 L1078.0 942.6 L1080.0 943.0 L1082.0 943.5 L1084.0 943.9 L1086.0 944.3 L1088.0 944.7 L1090.0 945.1 L1092.0 945.6 L1094.0 946.0 L1096.0 946.4 L1098.0 946.8 L1100.0 947.2 L1102.0 947.6 L1104.0 948.0 L1106.0 948.4 L1108.0 948.8 L1110.0 949.1 L1112.0 949.5 L1114.0 949.9 L1116.0 950.3 L1118.0 950.6 L1120.0 951.0 L1122.0 951.3 L1124.0 951.7 L1126.0 952.1 L1128.0 952.4 L1130.0 952.8 L1132.0 953.1 L1134.0 953.4 L1136.0 953.8 L1138.0 954.1 L1140.0 954.5 L1142.0 954.8 L1144.0 955.1 L1146.0 955.5 L1148.0 955.8 L1150.0 956.1 L1152.0 956.5 L1154.0 956.8 L1156.0 957.1 L1158.0 957.5 L1160.0 957.8 L1162.0 958.2 L1164.0 958.5 L1166.0 958.8 L1168.0 959.2 L1170.0 959.5 L1172.0 959.8 L1174.0 960.2 L1176.0 960.5 L1178.0 960.9 L1180.0 961.2 L1182.0 961.6 L1184.0 961.9 L1186.0 962.3 L1188.0 962.6 L1190.0 963.0 L1192.0 963.3 L1194.0 963.7 L1196.0 964.1 L1198.0 964.5 L1200.0 964.8 L1202.0 965.2 L1204.0 965.6 L1206.0 966.0 L1208.0 966.4 L1210.0 966.8 L1212.0 967.2 L1214.0 967.6 L1216.0 968.0 L1218.0 968.4 L1220.0 968.9 L1222.0 969.3 L1224.0 969.7 L1226.0 970.2 L1228.0 970.6 L1230.0 971.1 L1232.0 971.6 L1234.0 972.0 L1236.0 972.5 L1238.0 973.0 L1240.0 973.5 L1242.0 974.0 L1244.0 974.5 L1246.0 975.0 L1248.0 975.6 L1250.0 976.1 L1252.0 976.6 L1254.0 977.2 L1256.0 977.8 L1258.0 978.3 L1260.0 978.9 L1262.0 979.5 L1264.0 980.1 L1266.0 980.7 L1268.0 981.3 L1270.0 982.0 L1272.0 982.6 L1274.0 983.3 L1276.0 983.9 L1278.0 984.6 L1280.0 985.3 L1282.0 986.0 L1284.0 986.7 L1286.0 987.4 L1288.0 988.1 L1290.0 988.8 L1292.0 989.5 L1294.0 990.3 L1296.0 991.0 L1298.0 991.8 L1300.0 992.5 L1302.0 993.3 L1304.0 994.1 L1306.0 994.9 L1308.0 995.6 L1310.0 996.4 L1312.0 997.2 L1314.0 998.0 L1316.0 998.8 L1318.0 999.6 L1320.0 1000.4 L1322.0 1001.3 L1324.0 1002.1 L1326.0 1002.9 L1328.0 1003.7 L1330.0 1004.6 L1332.0 1005.4 L1334.0 1006.2 L1336.0 1007.1 L1338.0 1007.9 L1340.0 1008.7 L1342.0 1009.6 L1344.0 1010.4 L1346.0 1011.3 L1348.0 1012.1 L1350.0 1013.0 L1352.0 1013.8 L1354.0 1014.7 L1356.0 1015.5 L1358.0 1016.4 L1360.0 1017.2 L1362.0 1018.1 L1364.0 1018.9 L1366.0 1019.7 L1368.0 1020.6 L1370.0 1021.4 L1372.0 1022.3 L1374.0 1023.1 L1376.0 1023.9 L1378.0 1024.7 L1380.0 1025.6 L1382.0 1026.4 L1384.0 1027.2 L1386.0 1028.0 L1388.0 1028.8 L1390.0 1029.6 L1392.0 1030.4 L1394.0 1031.2 L1396.0 1032.0 L1398.0 1032.8 L1400.0 1033.6 L1402.0 1034.4 L1404.0 1035.1 L1406.0 1035.9 L1408.0 1036.6 L1410.0 1037.4 L1412.0 1038.1 L1414.0 1038.9 L1416.0 1039.6 L1418.0 1040.3 L1420.0 1041.0 L1422.0 1041.7 L1424.0 1042.4 L1426.0 1043.1 L1428.0 1043.8 L1430.0 1044.5 L1432.0 1045.1 L1434.0 1045.8 L1436.0 1046.4 L1438.0 1047.1 L1440.0 1047.7 L1442.0 1048.4 L1444.0 1049.0 L1446.0 1049.6 L1448.0 1050.2 L1450.0 1050.8 L1452.0 1051.4 L1454.0 1052.0 L1456.0 1052.6 L1458.0 1053.1 L1460.0 1053.7 L1462.0 1054.3 L1464.0 1054.8 L1466.0 1055.4 L1468.0 1055.9 L1470.0 1056.5 L1472.0 1057.0 L1474.0 1057.5 L1476.0 1058.0 L1478.0 1058.5 L1480.0 1059.0 L1482.0 1059.5 L1484.0 1060.0 L1486.0 1060.5 L1488.0 1060.9 L1490.0 1061.4 L1492.0 1061.8 L1494.0 1062.3 L1496.0 1062.7 L1498.0 1063.2 L1500.0 1063.6 L1502.0 1064.0 L1504.0 1064.4 L1506.0 1064.8 L1508.0 1065.2 L1510.0 1065.6 L1512.0 1066.0 L1514.0 1066.4 L1516.0 1066.8 L1518.0 1067.2 L1520.0 1067.5 L1522.0 1067.9 L1524.0 1068.2 L1526.0 1068.6 L1528.0 1068.9 L1530.0 1069.2 L1532.0 1069.5 L1534.0 1069.8 L1536.0 1070.1 L1538.0 1070.4 L1540.0 1070.7 L1542.0 1071.0 L1544.0 1071.3 L1546.0 1071.6 L1548.0 1071.8 L1550.0 1072.1 L1552.0 1072.4 L1554.0 1072.6 L1556.0 1072.8 L1558.0 1073.1 L1560.0 1073.3 L1562.0 1073.5 L1564.0 1073.7 L1566.0 1073.9 L1568.0 1074.1 L1570.0 1074.3 L1572.0 1074.5 L1574.0 1074.7 L1576.0 1074.9 L1578.0 1075.0 L1580.0 1075.2 L1582.0 1075.4 L1584.0 1075.5 L1586.0 1075.6 L1588.0 1075.8 L1590.0 1075.9 L1592.0 1076.0 L1594.0 1076.2 L1596.0 1076.3 L1598.0 1076.4 L1600.0 1076.5 L1602.0 1076.6 L1604.0 1076.7 L1606.0 1076.8 L1608.0 1076.9 L1610.0 1076.9 L1612.0 1077.0 L1614.0 1077.1 L1616.0 1077.1 L1618.0 1077.2 L1620.0 1077.2 L1622.0 1077.3 L1624.0 1077.3 L1626.0 1077.4 L1628.0 1077.4 L1630.0 1077.4 L1632.0 1077.5 L1634.0 1077.5 L1636.0 1077.5 L1638.0 1077.5 L1640.0 1077.5 L1642.0 1077.5 L1644.0 1077.5 L1646.0 1077.5 L1648.0 1077.5 L1650.0 1077.5 L1652.0 1077.5 L1654.0 1077.4 L1656.0 1077.4 L1658.0 1077.4 L1660.0 1077.4 L1662.0 1077.3 L1664.0 1077.3 L1666.0 1077.2 L1668.0 1077.2 L1670.0 1077.1 L1672.0 1077.1 L1674.0 1077.0 L1676.0 1077.0 L1678.0 1076.9 L1680.0 1076.8 L1682.0 1076.8 L1684.0 1076.7 L1686.0 1076.6 L1688.0 1076.6 L1690.0 1076.5 L1692.0 1076.4 L1694.0 1076.3 L1696.0 1076.2 L1698.0 1076.1 L1700.0 1076.0 L1702.0 1075.9 L1704.0 1075.9 L1706.0 1075.8 L1708.0 1075.7 L1710.0 1075.6 L1712.0 1075.4 L1714.0 1075.3 L1716.0 1075.2 L1718.0 1075.1 L1720.0 1075.0 L1722.0 1074.9 L1724.0 1074.8 L1726.0 1074.7 L1728.0 1074.5 L1730.0 1074.4 L1732.0 1074.3 L1734.0 1074.2 L1736.0 1074.1 L1738.0 1073.9 L1740.0 1073.8 L1742.0 1073.7 L1744.0 1073.5 L1746.0 1073.4 L1748.0 1073.3 L1750.0 1073.2 L1752.0 1073.0 L1754.0 1072.9 L1756.0 1072.8 L1758.0 1072.6 L1760.0 1072.5 L1762.0 1072.4 L1764.0 1072.2" fill="none" stroke="#EF3E42" stroke-width="9.5" stroke-linejoin="round" stroke-linecap="butt"/>
</g>
<line x1="878.5" y1="928.4" x2="878.5" y2="1199" stroke="#00FFFF" stroke-width="8.7" stroke-dasharray="53.5 20.1 14.8 20.2"/>
<rect x="224.83" y="1234.9" width="8.8" height="8.6" fill="#000"/>
<rect x="336.00" y="1222.9" width="8.8" height="20.6" fill="#000"/>
<rect x="447.17" y="1234.9" width="8.8" height="8.6" fill="#000"/>
<rect x="558.33" y="1222.9" width="8.8" height="20.6" fill="#000"/>
<rect x="669.50" y="1234.9" width="8.8" height="8.6" fill="#000"/>
<rect x="780.67" y="1222.9" width="8.8" height="20.6" fill="#000"/>
<rect x="891.84" y="1234.9" width="8.8" height="8.6" fill="#000"/>
<rect x="1003.00" y="1222.9" width="8.8" height="20.6" fill="#000"/>
<rect x="1114.17" y="1234.9" width="8.8" height="8.6" fill="#000"/>
<rect x="1225.34" y="1222.9" width="8.8" height="20.6" fill="#000"/>
<rect x="1336.51" y="1234.9" width="8.8" height="8.6" fill="#000"/>
<rect x="1447.67" y="1222.9" width="8.8" height="20.6" fill="#000"/>
<rect x="1558.84" y="1234.9" width="8.8" height="8.6" fill="#000"/>
<rect x="1670.01" y="1222.9" width="8.8" height="20.6" fill="#000"/>
<text transform="translate(294.83 1321.28) scale(0.6096 0.6372)">880</text>
<text transform="translate(517.16 1321.28) scale(0.6090 0.6372)">875</text>
<text transform="translate(739.50 1321.28) scale(0.6096 0.6372)">870</text>
<text transform="translate(961.83 1321.28) scale(0.6090 0.6372)">865</text>
<text transform="translate(1184.17 1321.28) scale(0.6096 0.6372)">860</text>
<text transform="translate(1406.50 1321.28) scale(0.6090 0.6372)">855</text>
<text transform="translate(1628.84 1321.28) scale(0.6096 0.6372)">850</text>
<text transform="translate(650.32 1434.60) scale(0.7100 0.7560)">Binding Energy (eV)</text>
<text transform="translate(78 859.20) rotate(-90) scale(0.7420 0.7636)">Intensity (a.u.)</text>
<text transform="translate(230.94 196.20) scale(0.7122 0.7758)">Ni2p</text>
<text transform="translate(767.55 341.90) scale(0.7103 0.7529)">Ni satellite</text>
<text transform="translate(1164.54 266.70) scale(0.7141 0.7575)">Ni</text>
<text transform="translate(1234.79 236.00) scale(0.5033 0.4969)">2+</text>
<text transform="translate(1483.42 453.60) scale(0.7265 0.7575)">Ni</text>
<text transform="translate(1554.11 423.23) scale(0.4955 0.4831)">0</text>
<text transform="translate(189.74 592.50) scale(0.7130 0.7560)">Ni</text>
<text transform="translate(260.05 612.52) scale(0.4892 0.4905)">20</text>
<text transform="translate(309.60 592.50) scale(0.7152 0.7560)">Al</text>
<text transform="translate(731.36 747.40) scale(0.7056 0.7514)">Ni satellite</text>
<text transform="translate(1136.58 717.70) scale(0.6934 0.7575)">Ni</text>
<text transform="translate(1207.05 688.10) scale(0.5115 0.5029)">2+</text>
<text transform="translate(1490.64 829.80) scale(0.7120 0.7575)">Ni</text>
<text transform="translate(1560.99 799.43) scale(0.5002 0.4861)">0</text>
<text transform="translate(179.50 940.60) scale(0.7136 0.7636)">IM-NiAl</text>
<text transform="translate(313.54 1080.80) scale(0.7117 0.7590)">Ni 2p</text>
<text transform="translate(478.21 1100.51) scale(0.4737 0.4971)">1/2</text>
<text transform="translate(1061.74 1103.70) scale(0.7166 0.7560)">Ni 2p</text>
<text transform="translate(1225.15 1123.41) scale(0.4928 0.4971)">3/2</text>
<line x1="990.2" y1="361.4" x2="1014.8" y2="387.5" stroke="#000" stroke-width="2.8"/><polygon points="1036.1,410.1 1007.3,391.9 1019.7,380.3" fill="#000"/>
<line x1="1229.3" y1="281.3" x2="1256.5" y2="307.9" stroke="#000" stroke-width="2.8"/><polygon points="1278.7,329.6 1249.2,312.6 1261.0,300.5" fill="#000"/>
<line x1="1515.4" y1="465.3" x2="1497.7" y2="487.3" stroke="#000" stroke-width="2.8"/><polygon points="1478.2,511.4 1492.3,480.4 1505.5,491.1" fill="#000"/>
<line x1="980.7" y1="761.0" x2="1005.2" y2="786.3" stroke="#000" stroke-width="2.8"/><polygon points="1026.7,808.6 997.7,790.8 1009.9,779.0" fill="#000"/>
<line x1="1205.9" y1="716.7" x2="1234.8" y2="745.4" stroke="#000" stroke-width="2.8"/><polygon points="1256.8,767.3 1227.4,750.1 1239.4,738.0" fill="#000"/>
<line x1="1547.4" y1="839.3" x2="1529.8" y2="860.6" stroke="#000" stroke-width="2.8"/><polygon points="1510.1,884.5 1524.5,853.6 1537.7,864.5" fill="#000"/>
</svg></body></html>
